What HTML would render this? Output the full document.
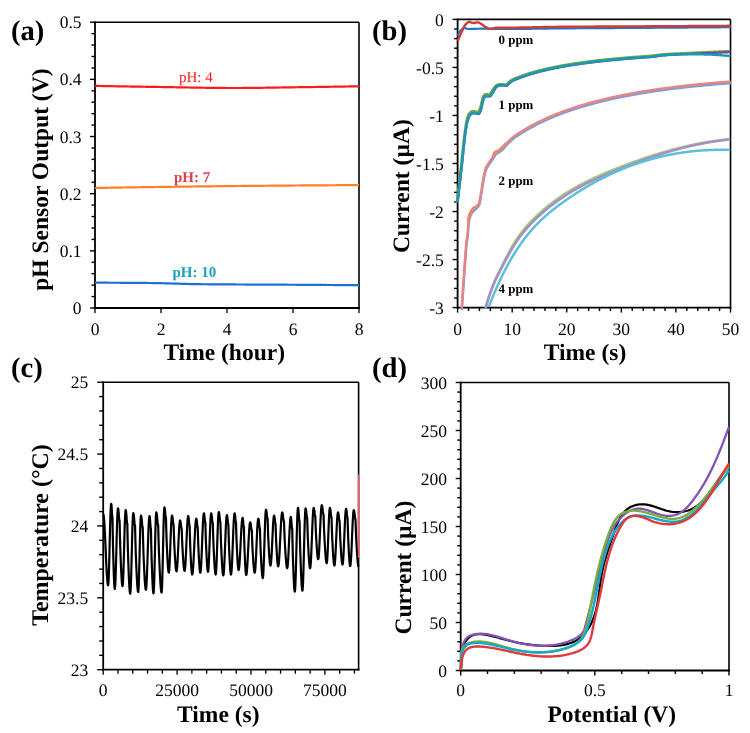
<!DOCTYPE html>
<html><head><meta charset="utf-8"><style>
html,body{margin:0;padding:0;background:#fff;width:750px;height:733px;overflow:hidden}
svg{display:block;will-change:transform}
text{font-family:"Liberation Serif",serif;text-rendering:geometricPrecision}
</style></head><body>
<svg width="750" height="733" viewBox="0 0 750 733">
<rect width="750" height="733" fill="#fff"/>
<line x1="95.00" y1="22.20" x2="359.00" y2="22.20" stroke="#000" stroke-width="1.60"/>
<line x1="359.00" y1="22.20" x2="359.00" y2="308.90" stroke="#000" stroke-width="1.60"/>
<line x1="95.00" y1="21.40" x2="95.00" y2="308.90" stroke="#000" stroke-width="1.80"/>
<line x1="94.10" y1="308.00" x2="359.80" y2="308.00" stroke="#000" stroke-width="1.80"/>
<line x1="90.00" y1="308.00" x2="95.00" y2="308.00" stroke="#000" stroke-width="1.40"/>
<line x1="91.50" y1="296.57" x2="95.00" y2="296.57" stroke="#000" stroke-width="1.40"/>
<line x1="91.50" y1="285.14" x2="95.00" y2="285.14" stroke="#000" stroke-width="1.40"/>
<line x1="91.50" y1="273.70" x2="95.00" y2="273.70" stroke="#000" stroke-width="1.40"/>
<line x1="91.50" y1="262.27" x2="95.00" y2="262.27" stroke="#000" stroke-width="1.40"/>
<line x1="90.00" y1="250.84" x2="95.00" y2="250.84" stroke="#000" stroke-width="1.40"/>
<line x1="91.50" y1="239.41" x2="95.00" y2="239.41" stroke="#000" stroke-width="1.40"/>
<line x1="91.50" y1="227.98" x2="95.00" y2="227.98" stroke="#000" stroke-width="1.40"/>
<line x1="91.50" y1="216.54" x2="95.00" y2="216.54" stroke="#000" stroke-width="1.40"/>
<line x1="91.50" y1="205.11" x2="95.00" y2="205.11" stroke="#000" stroke-width="1.40"/>
<line x1="90.00" y1="193.68" x2="95.00" y2="193.68" stroke="#000" stroke-width="1.40"/>
<line x1="91.50" y1="182.25" x2="95.00" y2="182.25" stroke="#000" stroke-width="1.40"/>
<line x1="91.50" y1="170.82" x2="95.00" y2="170.82" stroke="#000" stroke-width="1.40"/>
<line x1="91.50" y1="159.38" x2="95.00" y2="159.38" stroke="#000" stroke-width="1.40"/>
<line x1="91.50" y1="147.95" x2="95.00" y2="147.95" stroke="#000" stroke-width="1.40"/>
<line x1="90.00" y1="136.52" x2="95.00" y2="136.52" stroke="#000" stroke-width="1.40"/>
<line x1="91.50" y1="125.09" x2="95.00" y2="125.09" stroke="#000" stroke-width="1.40"/>
<line x1="91.50" y1="113.66" x2="95.00" y2="113.66" stroke="#000" stroke-width="1.40"/>
<line x1="91.50" y1="102.22" x2="95.00" y2="102.22" stroke="#000" stroke-width="1.40"/>
<line x1="91.50" y1="90.79" x2="95.00" y2="90.79" stroke="#000" stroke-width="1.40"/>
<line x1="90.00" y1="79.36" x2="95.00" y2="79.36" stroke="#000" stroke-width="1.40"/>
<line x1="91.50" y1="67.93" x2="95.00" y2="67.93" stroke="#000" stroke-width="1.40"/>
<line x1="91.50" y1="56.50" x2="95.00" y2="56.50" stroke="#000" stroke-width="1.40"/>
<line x1="91.50" y1="45.06" x2="95.00" y2="45.06" stroke="#000" stroke-width="1.40"/>
<line x1="91.50" y1="33.63" x2="95.00" y2="33.63" stroke="#000" stroke-width="1.40"/>
<line x1="90.00" y1="22.20" x2="95.00" y2="22.20" stroke="#000" stroke-width="1.40"/>
<line x1="95.00" y1="308.00" x2="95.00" y2="313.00" stroke="#000" stroke-width="1.30"/>
<line x1="161.00" y1="308.00" x2="161.00" y2="313.00" stroke="#000" stroke-width="1.30"/>
<line x1="227.00" y1="308.00" x2="227.00" y2="313.00" stroke="#000" stroke-width="1.30"/>
<line x1="293.00" y1="308.00" x2="293.00" y2="313.00" stroke="#000" stroke-width="1.30"/>
<line x1="359.00" y1="308.00" x2="359.00" y2="313.00" stroke="#000" stroke-width="1.30"/>
<text x="81.50" y="314.00" font-size="17.50"  text-anchor="end" fill="#000" >0</text>
<text x="81.50" y="256.84" font-size="17.50"  text-anchor="end" fill="#000" >0.1</text>
<text x="81.50" y="199.68" font-size="17.50"  text-anchor="end" fill="#000" >0.2</text>
<text x="81.50" y="142.52" font-size="17.50"  text-anchor="end" fill="#000" >0.3</text>
<text x="81.50" y="85.36" font-size="17.50"  text-anchor="end" fill="#000" >0.4</text>
<text x="81.50" y="28.20" font-size="17.50"  text-anchor="end" fill="#000" >0.5</text>
<text x="95.00" y="334.50" font-size="17.50"  text-anchor="middle" fill="#000" >0</text>
<text x="161.00" y="334.50" font-size="17.50"  text-anchor="middle" fill="#000" >2</text>
<text x="227.00" y="334.50" font-size="17.50"  text-anchor="middle" fill="#000" >4</text>
<text x="293.00" y="334.50" font-size="17.50"  text-anchor="middle" fill="#000" >6</text>
<text x="359.00" y="334.50" font-size="17.50"  text-anchor="middle" fill="#000" >8</text>
<text transform="translate(48.10,179.60) rotate(-90)" x="0" y="0" font-size="23.50" font-weight="bold" text-anchor="middle" >pH Sensor Output (V)</text>
<text x="224.20" y="360.40" font-size="23.50" font-weight="bold" text-anchor="middle" fill="#000" >Time (hour)</text>
<text x="11.00" y="39.60" font-size="28.60" font-weight="bold" text-anchor="start" fill="#000" >(a)</text>
<path d="M95.00,85.90 L95.50,85.91 L96.00,85.92 L96.50,85.93 L97.00,85.94 L97.50,85.95 L98.00,85.96 L98.50,85.96 L99.00,85.97 L99.50,85.98 L100.00,85.99 L100.50,86.00 L101.00,86.01 L101.50,86.02 L102.00,86.03 L102.50,86.04 L103.00,86.05 L103.50,86.06 L104.00,86.06 L104.50,86.07 L105.00,86.08 L105.50,86.09 L106.00,86.10 L106.50,86.11 L107.00,86.12 L107.50,86.13 L108.00,86.14 L108.50,86.15 L109.00,86.16 L109.50,86.16 L110.00,86.17 L110.50,86.18 L111.00,86.19 L111.50,86.20 L112.00,86.21 L112.50,86.22 L113.00,86.23 L113.50,86.24 L114.00,86.24 L114.50,86.25 L115.00,86.26 L115.50,86.27 L116.00,86.28 L116.50,86.29 L117.00,86.30 L117.50,86.31 L118.00,86.31 L118.50,86.32 L119.00,86.33 L119.50,86.34 L120.00,86.35 L120.50,86.36 L121.00,86.37 L121.50,86.38 L122.00,86.38 L122.50,86.39 L123.00,86.40 L123.50,86.41 L124.00,86.42 L124.50,86.43 L125.00,86.44 L125.50,86.44 L126.00,86.45 L126.50,86.46 L127.00,86.47 L127.50,86.48 L128.00,86.49 L128.50,86.50 L129.00,86.50 L129.50,86.51 L130.00,86.52 L130.50,86.53 L131.00,86.54 L131.50,86.55 L132.00,86.55 L132.50,86.56 L133.00,86.57 L133.50,86.58 L134.00,86.59 L134.50,86.60 L135.00,86.60 L135.50,86.61 L136.00,86.62 L136.50,86.63 L137.00,86.64 L137.50,86.65 L138.00,86.65 L138.50,86.66 L139.00,86.67 L139.50,86.68 L140.00,86.69 L140.50,86.69 L141.00,86.70 L141.50,86.71 L142.00,86.72 L142.50,86.73 L143.00,86.73 L143.50,86.74 L144.00,86.75 L144.50,86.76 L145.00,86.77 L145.50,86.77 L146.00,86.78 L146.50,86.79 L147.00,86.80 L147.50,86.81 L148.00,86.81 L148.50,86.82 L149.00,86.83 L149.50,86.84 L150.00,86.85 L150.50,86.85 L151.00,86.86 L151.50,86.87 L152.00,86.88 L152.50,86.89 L153.00,86.89 L153.50,86.90 L154.00,86.91 L154.50,86.92 L155.00,86.92 L155.50,86.93 L156.00,86.94 L156.50,86.95 L157.00,86.95 L157.50,86.96 L158.00,86.97 L158.50,86.98 L159.00,86.98 L159.50,86.99 L160.00,87.00 L160.50,87.01 L161.00,87.02 L161.50,87.02 L162.00,87.03 L162.50,87.04 L163.00,87.05 L163.50,87.05 L164.00,87.06 L164.50,87.07 L165.00,87.08 L165.50,87.09 L166.00,87.09 L166.50,87.10 L167.00,87.11 L167.50,87.12 L168.00,87.13 L168.50,87.14 L169.00,87.15 L169.50,87.15 L170.00,87.16 L170.50,87.17 L171.00,87.18 L171.50,87.19 L172.00,87.20 L172.50,87.21 L173.00,87.21 L173.50,87.22 L174.00,87.23 L174.50,87.24 L175.00,87.25 L175.50,87.26 L176.00,87.27 L176.50,87.28 L177.00,87.29 L177.50,87.30 L178.00,87.30 L178.50,87.31 L179.00,87.32 L179.50,87.33 L180.00,87.34 L180.50,87.35 L181.00,87.36 L181.50,87.37 L182.00,87.38 L182.50,87.39 L183.00,87.39 L183.50,87.40 L184.00,87.41 L184.50,87.42 L185.00,87.43 L185.50,87.44 L186.00,87.45 L186.50,87.46 L187.00,87.47 L187.50,87.48 L188.00,87.48 L188.50,87.49 L189.00,87.50 L189.50,87.51 L190.00,87.52 L190.50,87.53 L191.00,87.54 L191.50,87.55 L192.00,87.55 L192.50,87.56 L193.00,87.57 L193.50,87.58 L194.00,87.59 L194.50,87.60 L195.00,87.61 L195.50,87.61 L196.00,87.62 L196.50,87.63 L197.00,87.64 L197.50,87.65 L198.00,87.66 L198.50,87.66 L199.00,87.67 L199.50,87.68 L200.00,87.69 L200.50,87.70 L201.00,87.70 L201.50,87.71 L202.00,87.72 L202.50,87.73 L203.00,87.73 L203.50,87.74 L204.00,87.75 L204.50,87.76 L205.00,87.76 L205.50,87.77 L206.00,87.78 L206.50,87.79 L207.00,87.79 L207.50,87.80 L208.00,87.81 L208.50,87.81 L209.00,87.82 L209.50,87.83 L210.00,87.83 L210.50,87.84 L211.00,87.84 L211.50,87.85 L212.00,87.86 L212.50,87.86 L213.00,87.87 L213.50,87.87 L214.00,87.88 L214.50,87.89 L215.00,87.89 L215.50,87.90 L216.00,87.90 L216.50,87.91 L217.00,87.91 L217.50,87.92 L218.00,87.92 L218.50,87.93 L219.00,87.93 L219.50,87.93 L220.00,87.94 L220.50,87.94 L221.00,87.95 L221.50,87.95 L222.00,87.95 L222.50,87.96 L223.00,87.96 L223.50,87.96 L224.00,87.97 L224.50,87.97 L225.00,87.97 L225.50,87.98 L226.00,87.98 L226.50,87.98 L227.00,87.98 L227.50,87.99 L228.00,87.99 L228.50,87.99 L229.00,87.99 L229.50,87.99 L230.00,87.99 L230.50,88.00 L231.00,88.00 L231.50,88.00 L232.00,88.00 L232.50,88.00 L233.00,88.00 L233.50,88.00 L234.00,88.00 L234.50,88.00 L235.00,88.00 L235.50,88.00 L236.00,88.00 L236.50,88.00 L237.00,88.00 L237.50,88.00 L238.00,87.99 L238.50,87.99 L239.00,87.99 L239.50,87.99 L240.00,87.99 L240.50,87.99 L241.00,87.98 L241.50,87.98 L242.00,87.98 L242.50,87.98 L243.00,87.97 L243.50,87.97 L244.00,87.97 L244.50,87.96 L245.00,87.96 L245.50,87.96 L246.00,87.95 L246.50,87.95 L247.00,87.95 L247.50,87.94 L248.00,87.94 L248.50,87.93 L249.00,87.93 L249.50,87.93 L250.00,87.92 L250.50,87.92 L251.00,87.91 L251.50,87.91 L252.00,87.90 L252.50,87.90 L253.00,87.89 L253.50,87.89 L254.00,87.88 L254.50,87.88 L255.00,87.87 L255.50,87.86 L256.00,87.86 L256.50,87.85 L257.00,87.85 L257.50,87.84 L258.00,87.83 L258.50,87.83 L259.00,87.82 L259.50,87.82 L260.00,87.81 L260.50,87.80 L261.00,87.80 L261.50,87.79 L262.00,87.78 L262.50,87.78 L263.00,87.77 L263.50,87.76 L264.00,87.76 L264.50,87.75 L265.00,87.74 L265.50,87.73 L266.00,87.73 L266.50,87.72 L267.00,87.71 L267.50,87.70 L268.00,87.70 L268.50,87.69 L269.00,87.68 L269.50,87.67 L270.00,87.67 L270.50,87.66 L271.00,87.65 L271.50,87.64 L272.00,87.64 L272.50,87.63 L273.00,87.62 L273.50,87.61 L274.00,87.60 L274.50,87.60 L275.00,87.59 L275.50,87.58 L276.00,87.57 L276.50,87.56 L277.00,87.56 L277.50,87.55 L278.00,87.54 L278.50,87.53 L279.00,87.52 L279.50,87.52 L280.00,87.51 L280.50,87.50 L281.00,87.49 L281.50,87.48 L282.00,87.47 L282.50,87.47 L283.00,87.46 L283.50,87.45 L284.00,87.44 L284.50,87.43 L285.00,87.43 L285.50,87.42 L286.00,87.41 L286.50,87.40 L287.00,87.39 L287.50,87.39 L288.00,87.38 L288.50,87.37 L289.00,87.36 L289.50,87.35 L290.00,87.35 L290.50,87.34 L291.00,87.33 L291.50,87.32 L292.00,87.32 L292.50,87.31 L293.00,87.30 L293.50,87.29 L294.00,87.29 L294.50,87.28 L295.00,87.27 L295.50,87.26 L296.00,87.26 L296.50,87.25 L297.00,87.24 L297.50,87.23 L298.00,87.23 L298.50,87.22 L299.00,87.21 L299.50,87.21 L300.00,87.20 L300.50,87.19 L301.00,87.19 L301.50,87.18 L302.00,87.17 L302.50,87.17 L303.00,87.16 L303.50,87.15 L304.00,87.15 L304.50,87.14 L305.00,87.13 L305.50,87.12 L306.00,87.12 L306.50,87.11 L307.00,87.10 L307.50,87.10 L308.00,87.09 L308.50,87.08 L309.00,87.08 L309.50,87.07 L310.00,87.06 L310.50,87.05 L311.00,87.05 L311.50,87.04 L312.00,87.03 L312.50,87.03 L313.00,87.02 L313.50,87.01 L314.00,87.00 L314.50,87.00 L315.00,86.99 L315.50,86.98 L316.00,86.98 L316.50,86.97 L317.00,86.96 L317.50,86.95 L318.00,86.95 L318.50,86.94 L319.00,86.93 L319.50,86.92 L320.00,86.92 L320.50,86.91 L321.00,86.90 L321.50,86.89 L322.00,86.89 L322.50,86.88 L323.00,86.87 L323.50,86.86 L324.00,86.86 L324.50,86.85 L325.00,86.84 L325.50,86.83 L326.00,86.83 L326.50,86.82 L327.00,86.81 L327.50,86.80 L328.00,86.80 L328.50,86.79 L329.00,86.78 L329.50,86.77 L330.00,86.77 L330.50,86.76 L331.00,86.75 L331.50,86.74 L332.00,86.74 L332.50,86.73 L333.00,86.72 L333.50,86.71 L334.00,86.70 L334.50,86.70 L335.00,86.69 L335.50,86.68 L336.00,86.67 L336.50,86.67 L337.00,86.66 L337.50,86.65 L338.00,86.64 L338.50,86.63 L339.00,86.63 L339.50,86.62 L340.00,86.61 L340.50,86.60 L341.00,86.59 L341.50,86.59 L342.00,86.58 L342.50,86.57 L343.00,86.56 L343.50,86.55 L344.00,86.55 L344.50,86.54 L345.00,86.53 L345.50,86.52 L346.00,86.51 L346.50,86.51 L347.00,86.50 L347.50,86.49 L348.00,86.48 L348.50,86.47 L349.00,86.47 L349.50,86.46 L350.00,86.45 L350.50,86.44 L351.00,86.43 L351.50,86.42 L352.00,86.42 L352.50,86.41 L353.00,86.40 L353.50,86.39 L354.00,86.38 L354.50,86.37 L355.00,86.37 L355.50,86.36 L356.00,86.35 L356.50,86.34 L357.00,86.33 L357.50,86.33 L358.00,86.32 L358.50,86.31 L359.00,86.30" fill="none" stroke="#ff1a1a" stroke-width="2.2"/>
<path d="M95.00,188.00 L95.50,187.99 L96.00,187.98 L96.50,187.97 L97.00,187.96 L97.50,187.95 L98.00,187.95 L98.50,187.94 L99.00,187.93 L99.50,187.92 L100.00,187.91 L100.50,187.90 L101.00,187.89 L101.50,187.88 L102.00,187.87 L102.50,187.86 L103.00,187.86 L103.50,187.85 L104.00,187.84 L104.50,187.83 L105.00,187.82 L105.50,187.81 L106.00,187.80 L106.50,187.79 L107.00,187.78 L107.50,187.78 L108.00,187.77 L108.50,187.76 L109.00,187.75 L109.50,187.74 L110.00,187.73 L110.50,187.72 L111.00,187.71 L111.50,187.71 L112.00,187.70 L112.50,187.69 L113.00,187.68 L113.50,187.67 L114.00,187.66 L114.50,187.65 L115.00,187.65 L115.50,187.64 L116.00,187.63 L116.50,187.62 L117.00,187.61 L117.50,187.60 L118.00,187.59 L118.50,187.59 L119.00,187.58 L119.50,187.57 L120.00,187.56 L120.50,187.55 L121.00,187.54 L121.50,187.53 L122.00,187.53 L122.50,187.52 L123.00,187.51 L123.50,187.50 L124.00,187.49 L124.50,187.48 L125.00,187.48 L125.50,187.47 L126.00,187.46 L126.50,187.45 L127.00,187.44 L127.50,187.43 L128.00,187.43 L128.50,187.42 L129.00,187.41 L129.50,187.40 L130.00,187.39 L130.50,187.39 L131.00,187.38 L131.50,187.37 L132.00,187.36 L132.50,187.35 L133.00,187.34 L133.50,187.34 L134.00,187.33 L134.50,187.32 L135.00,187.31 L135.50,187.30 L136.00,187.30 L136.50,187.29 L137.00,187.28 L137.50,187.27 L138.00,187.27 L138.50,187.26 L139.00,187.25 L139.50,187.24 L140.00,187.23 L140.50,187.23 L141.00,187.22 L141.50,187.21 L142.00,187.20 L142.50,187.19 L143.00,187.19 L143.50,187.18 L144.00,187.17 L144.50,187.16 L145.00,187.16 L145.50,187.15 L146.00,187.14 L146.50,187.13 L147.00,187.13 L147.50,187.12 L148.00,187.11 L148.50,187.10 L149.00,187.10 L149.50,187.09 L150.00,187.08 L150.50,187.07 L151.00,187.07 L151.50,187.06 L152.00,187.05 L152.50,187.04 L153.00,187.04 L153.50,187.03 L154.00,187.02 L154.50,187.01 L155.00,187.01 L155.50,187.00 L156.00,186.99 L156.50,186.99 L157.00,186.98 L157.50,186.97 L158.00,186.96 L158.50,186.96 L159.00,186.95 L159.50,186.94 L160.00,186.94 L160.50,186.93 L161.00,186.92 L161.50,186.92 L162.00,186.91 L162.50,186.90 L163.00,186.89 L163.50,186.89 L164.00,186.88 L164.50,186.87 L165.00,186.87 L165.50,186.86 L166.00,186.85 L166.50,186.85 L167.00,186.84 L167.50,186.83 L168.00,186.83 L168.50,186.82 L169.00,186.81 L169.50,186.81 L170.00,186.80 L170.50,186.79 L171.00,186.79 L171.50,186.78 L172.00,186.77 L172.50,186.77 L173.00,186.76 L173.50,186.75 L174.00,186.75 L174.50,186.74 L175.00,186.73 L175.50,186.73 L176.00,186.72 L176.50,186.72 L177.00,186.71 L177.50,186.70 L178.00,186.70 L178.50,186.69 L179.00,186.68 L179.50,186.68 L180.00,186.67 L180.50,186.66 L181.00,186.66 L181.50,186.65 L182.00,186.64 L182.50,186.64 L183.00,186.63 L183.50,186.63 L184.00,186.62 L184.50,186.61 L185.00,186.61 L185.50,186.60 L186.00,186.59 L186.50,186.59 L187.00,186.58 L187.50,186.58 L188.00,186.57 L188.50,186.56 L189.00,186.56 L189.50,186.55 L190.00,186.54 L190.50,186.54 L191.00,186.53 L191.50,186.53 L192.00,186.52 L192.50,186.51 L193.00,186.51 L193.50,186.50 L194.00,186.50 L194.50,186.49 L195.00,186.48 L195.50,186.48 L196.00,186.47 L196.50,186.46 L197.00,186.46 L197.50,186.45 L198.00,186.45 L198.50,186.44 L199.00,186.43 L199.50,186.43 L200.00,186.42 L200.50,186.42 L201.00,186.41 L201.50,186.40 L202.00,186.40 L202.50,186.39 L203.00,186.39 L203.50,186.38 L204.00,186.38 L204.50,186.37 L205.00,186.36 L205.50,186.36 L206.00,186.35 L206.50,186.35 L207.00,186.34 L207.50,186.33 L208.00,186.33 L208.50,186.32 L209.00,186.32 L209.50,186.31 L210.00,186.31 L210.50,186.30 L211.00,186.29 L211.50,186.29 L212.00,186.28 L212.50,186.28 L213.00,186.27 L213.50,186.27 L214.00,186.26 L214.50,186.25 L215.00,186.25 L215.50,186.24 L216.00,186.24 L216.50,186.23 L217.00,186.23 L217.50,186.22 L218.00,186.22 L218.50,186.21 L219.00,186.20 L219.50,186.20 L220.00,186.19 L220.50,186.19 L221.00,186.18 L221.50,186.18 L222.00,186.17 L222.50,186.17 L223.00,186.16 L223.50,186.16 L224.00,186.15 L224.50,186.15 L225.00,186.14 L225.50,186.13 L226.00,186.13 L226.50,186.12 L227.00,186.12 L227.50,186.11 L228.00,186.11 L228.50,186.10 L229.00,186.10 L229.50,186.09 L230.00,186.09 L230.50,186.08 L231.00,186.08 L231.50,186.07 L232.00,186.07 L232.50,186.06 L233.00,186.06 L233.50,186.05 L234.00,186.05 L234.50,186.04 L235.00,186.04 L235.50,186.03 L236.00,186.03 L236.50,186.02 L237.00,186.02 L237.50,186.01 L238.00,186.01 L238.50,186.00 L239.00,186.00 L239.50,185.99 L240.00,185.99 L240.50,185.98 L241.00,185.98 L241.50,185.97 L242.00,185.97 L242.50,185.96 L243.00,185.96 L243.50,185.95 L244.00,185.95 L244.50,185.94 L245.00,185.94 L245.50,185.93 L246.00,185.93 L246.50,185.92 L247.00,185.92 L247.50,185.91 L248.00,185.91 L248.50,185.90 L249.00,185.90 L249.50,185.89 L250.00,185.89 L250.50,185.89 L251.00,185.88 L251.50,185.88 L252.00,185.87 L252.50,185.87 L253.00,185.86 L253.50,185.86 L254.00,185.85 L254.50,185.85 L255.00,185.84 L255.50,185.84 L256.00,185.84 L256.50,185.83 L257.00,185.83 L257.50,185.82 L258.00,185.82 L258.50,185.81 L259.00,185.81 L259.50,185.80 L260.00,185.80 L260.50,185.80 L261.00,185.79 L261.50,185.79 L262.00,185.78 L262.50,185.78 L263.00,185.77 L263.50,185.77 L264.00,185.77 L264.50,185.76 L265.00,185.76 L265.50,185.75 L266.00,185.75 L266.50,185.74 L267.00,185.74 L267.50,185.74 L268.00,185.73 L268.50,185.73 L269.00,185.72 L269.50,185.72 L270.00,185.71 L270.50,185.71 L271.00,185.71 L271.50,185.70 L272.00,185.70 L272.50,185.69 L273.00,185.69 L273.50,185.69 L274.00,185.68 L274.50,185.68 L275.00,185.67 L275.50,185.67 L276.00,185.66 L276.50,185.66 L277.00,185.66 L277.50,185.65 L278.00,185.65 L278.50,185.64 L279.00,185.64 L279.50,185.64 L280.00,185.63 L280.50,185.63 L281.00,185.62 L281.50,185.62 L282.00,185.62 L282.50,185.61 L283.00,185.61 L283.50,185.60 L284.00,185.60 L284.50,185.59 L285.00,185.59 L285.50,185.59 L286.00,185.58 L286.50,185.58 L287.00,185.57 L287.50,185.57 L288.00,185.57 L288.50,185.56 L289.00,185.56 L289.50,185.56 L290.00,185.55 L290.50,185.55 L291.00,185.54 L291.50,185.54 L292.00,185.54 L292.50,185.53 L293.00,185.53 L293.50,185.52 L294.00,185.52 L294.50,185.52 L295.00,185.51 L295.50,185.51 L296.00,185.50 L296.50,185.50 L297.00,185.50 L297.50,185.49 L298.00,185.49 L298.50,185.49 L299.00,185.48 L299.50,185.48 L300.00,185.47 L300.50,185.47 L301.00,185.47 L301.50,185.46 L302.00,185.46 L302.50,185.46 L303.00,185.45 L303.50,185.45 L304.00,185.44 L304.50,185.44 L305.00,185.44 L305.50,185.43 L306.00,185.43 L306.50,185.43 L307.00,185.42 L307.50,185.42 L308.00,185.41 L308.50,185.41 L309.00,185.41 L309.50,185.40 L310.00,185.40 L310.50,185.40 L311.00,185.39 L311.50,185.39 L312.00,185.39 L312.50,185.38 L313.00,185.38 L313.50,185.38 L314.00,185.37 L314.50,185.37 L315.00,185.36 L315.50,185.36 L316.00,185.36 L316.50,185.35 L317.00,185.35 L317.50,185.35 L318.00,185.34 L318.50,185.34 L319.00,185.34 L319.50,185.33 L320.00,185.33 L320.50,185.33 L321.00,185.32 L321.50,185.32 L322.00,185.32 L322.50,185.31 L323.00,185.31 L323.50,185.31 L324.00,185.30 L324.50,185.30 L325.00,185.30 L325.50,185.29 L326.00,185.29 L326.50,185.29 L327.00,185.28 L327.50,185.28 L328.00,185.28 L328.50,185.27 L329.00,185.27 L329.50,185.27 L330.00,185.26 L330.50,185.26 L331.00,185.26 L331.50,185.26 L332.00,185.25 L332.50,185.25 L333.00,185.25 L333.50,185.24 L334.00,185.24 L334.50,185.24 L335.00,185.23 L335.50,185.23 L336.00,185.23 L336.50,185.22 L337.00,185.22 L337.50,185.22 L338.00,185.22 L338.50,185.21 L339.00,185.21 L339.50,185.21 L340.00,185.20 L340.50,185.20 L341.00,185.20 L341.50,185.19 L342.00,185.19 L342.50,185.19 L343.00,185.19 L343.50,185.18 L344.00,185.18 L344.50,185.18 L345.00,185.17 L345.50,185.17 L346.00,185.17 L346.50,185.17 L347.00,185.16 L347.50,185.16 L348.00,185.16 L348.50,185.15 L349.00,185.15 L349.50,185.15 L350.00,185.15 L350.50,185.14 L351.00,185.14 L351.50,185.14 L352.00,185.14 L352.50,185.13 L353.00,185.13 L353.50,185.13 L354.00,185.13 L354.50,185.12 L355.00,185.12 L355.50,185.12 L356.00,185.12 L356.50,185.11 L357.00,185.11 L357.50,185.11 L358.00,185.10 L358.50,185.10 L359.00,185.10" fill="none" stroke="#ff7f2a" stroke-width="2.2"/>
<path d="M95.00,282.70 L95.50,282.70 L96.00,282.70 L96.50,282.70 L97.00,282.70 L97.50,282.70 L98.00,282.70 L98.50,282.70 L99.00,282.70 L99.50,282.70 L100.00,282.70 L100.50,282.70 L101.00,282.70 L101.50,282.71 L102.00,282.71 L102.50,282.71 L103.00,282.71 L103.50,282.71 L104.00,282.71 L104.50,282.71 L105.00,282.71 L105.50,282.71 L106.00,282.72 L106.50,282.72 L107.00,282.72 L107.50,282.72 L108.00,282.72 L108.50,282.72 L109.00,282.72 L109.50,282.73 L110.00,282.73 L110.50,282.73 L111.00,282.73 L111.50,282.73 L112.00,282.74 L112.50,282.74 L113.00,282.74 L113.50,282.74 L114.00,282.74 L114.50,282.75 L115.00,282.75 L115.50,282.75 L116.00,282.75 L116.50,282.76 L117.00,282.76 L117.50,282.76 L118.00,282.76 L118.50,282.77 L119.00,282.77 L119.50,282.77 L120.00,282.77 L120.50,282.78 L121.00,282.78 L121.50,282.78 L122.00,282.79 L122.50,282.79 L123.00,282.79 L123.50,282.79 L124.00,282.80 L124.50,282.80 L125.00,282.80 L125.50,282.81 L126.00,282.81 L126.50,282.81 L127.00,282.82 L127.50,282.82 L128.00,282.82 L128.50,282.83 L129.00,282.83 L129.50,282.83 L130.00,282.84 L130.50,282.84 L131.00,282.84 L131.50,282.85 L132.00,282.85 L132.50,282.86 L133.00,282.86 L133.50,282.86 L134.00,282.87 L134.50,282.87 L135.00,282.87 L135.50,282.88 L136.00,282.88 L136.50,282.89 L137.00,282.89 L137.50,282.89 L138.00,282.90 L138.50,282.90 L139.00,282.91 L139.50,282.91 L140.00,282.91 L140.50,282.92 L141.00,282.92 L141.50,282.93 L142.00,282.93 L142.50,282.93 L143.00,282.94 L143.50,282.94 L144.00,282.95 L144.50,282.95 L145.00,282.96 L145.50,282.96 L146.00,282.96 L146.50,282.97 L147.00,282.97 L147.50,282.98 L148.00,282.98 L148.50,282.99 L149.00,282.99 L149.50,283.00 L150.00,283.00 L150.50,283.00 L151.00,283.01 L151.50,283.02 L152.00,283.02 L152.50,283.03 L153.00,283.03 L153.50,283.04 L154.00,283.05 L154.50,283.06 L155.00,283.07 L155.50,283.07 L156.00,283.08 L156.50,283.09 L157.00,283.10 L157.50,283.11 L158.00,283.12 L158.50,283.13 L159.00,283.14 L159.50,283.15 L160.00,283.17 L160.50,283.18 L161.00,283.19 L161.50,283.20 L162.00,283.21 L162.50,283.23 L163.00,283.24 L163.50,283.25 L164.00,283.27 L164.50,283.28 L165.00,283.29 L165.50,283.31 L166.00,283.32 L166.50,283.33 L167.00,283.35 L167.50,283.36 L168.00,283.38 L168.50,283.39 L169.00,283.41 L169.50,283.42 L170.00,283.44 L170.50,283.45 L171.00,283.47 L171.50,283.48 L172.00,283.50 L172.50,283.51 L173.00,283.53 L173.50,283.55 L174.00,283.56 L174.50,283.58 L175.00,283.59 L175.50,283.61 L176.00,283.62 L176.50,283.64 L177.00,283.65 L177.50,283.67 L178.00,283.69 L178.50,283.70 L179.00,283.72 L179.50,283.73 L180.00,283.75 L180.50,283.76 L181.00,283.78 L181.50,283.79 L182.00,283.81 L182.50,283.82 L183.00,283.84 L183.50,283.85 L184.00,283.87 L184.50,283.88 L185.00,283.89 L185.50,283.91 L186.00,283.92 L186.50,283.93 L187.00,283.95 L187.50,283.96 L188.00,283.97 L188.50,283.99 L189.00,284.00 L189.50,284.01 L190.00,284.02 L190.50,284.04 L191.00,284.05 L191.50,284.06 L192.00,284.07 L192.50,284.08 L193.00,284.09 L193.50,284.10 L194.00,284.11 L194.50,284.12 L195.00,284.13 L195.50,284.14 L196.00,284.15 L196.50,284.15 L197.00,284.16 L197.50,284.17 L198.00,284.18 L198.50,284.18 L199.00,284.19 L199.50,284.19 L200.00,284.20 L200.50,284.21 L201.00,284.21 L201.50,284.22 L202.00,284.22 L202.50,284.23 L203.00,284.23 L203.50,284.23 L204.00,284.24 L204.50,284.24 L205.00,284.25 L205.50,284.25 L206.00,284.26 L206.50,284.26 L207.00,284.27 L207.50,284.27 L208.00,284.28 L208.50,284.28 L209.00,284.29 L209.50,284.29 L210.00,284.29 L210.50,284.30 L211.00,284.30 L211.50,284.31 L212.00,284.31 L212.50,284.32 L213.00,284.32 L213.50,284.32 L214.00,284.33 L214.50,284.33 L215.00,284.34 L215.50,284.34 L216.00,284.34 L216.50,284.35 L217.00,284.35 L217.50,284.36 L218.00,284.36 L218.50,284.36 L219.00,284.37 L219.50,284.37 L220.00,284.37 L220.50,284.38 L221.00,284.38 L221.50,284.38 L222.00,284.39 L222.50,284.39 L223.00,284.39 L223.50,284.40 L224.00,284.40 L224.50,284.41 L225.00,284.41 L225.50,284.41 L226.00,284.42 L226.50,284.42 L227.00,284.42 L227.50,284.42 L228.00,284.43 L228.50,284.43 L229.00,284.43 L229.50,284.44 L230.00,284.44 L230.50,284.44 L231.00,284.45 L231.50,284.45 L232.00,284.45 L232.50,284.46 L233.00,284.46 L233.50,284.46 L234.00,284.46 L234.50,284.47 L235.00,284.47 L235.50,284.47 L236.00,284.48 L236.50,284.48 L237.00,284.48 L237.50,284.48 L238.00,284.49 L238.50,284.49 L239.00,284.49 L239.50,284.50 L240.00,284.50 L240.50,284.50 L241.00,284.50 L241.50,284.51 L242.00,284.51 L242.50,284.51 L243.00,284.51 L243.50,284.52 L244.00,284.52 L244.50,284.52 L245.00,284.52 L245.50,284.53 L246.00,284.53 L246.50,284.53 L247.00,284.53 L247.50,284.54 L248.00,284.54 L248.50,284.54 L249.00,284.54 L249.50,284.55 L250.00,284.55 L250.50,284.55 L251.00,284.55 L251.50,284.56 L252.00,284.56 L252.50,284.56 L253.00,284.56 L253.50,284.57 L254.00,284.57 L254.50,284.57 L255.00,284.57 L255.50,284.57 L256.00,284.58 L256.50,284.58 L257.00,284.58 L257.50,284.58 L258.00,284.59 L258.50,284.59 L259.00,284.59 L259.50,284.59 L260.00,284.60 L260.50,284.60 L261.00,284.60 L261.50,284.60 L262.00,284.60 L262.50,284.61 L263.00,284.61 L263.50,284.61 L264.00,284.61 L264.50,284.62 L265.00,284.62 L265.50,284.62 L266.00,284.62 L266.50,284.63 L267.00,284.63 L267.50,284.63 L268.00,284.63 L268.50,284.63 L269.00,284.64 L269.50,284.64 L270.00,284.64 L270.50,284.64 L271.00,284.65 L271.50,284.65 L272.00,284.65 L272.50,284.65 L273.00,284.66 L273.50,284.66 L274.00,284.66 L274.50,284.66 L275.00,284.66 L275.50,284.67 L276.00,284.67 L276.50,284.67 L277.00,284.67 L277.50,284.68 L278.00,284.68 L278.50,284.68 L279.00,284.68 L279.50,284.69 L280.00,284.69 L280.50,284.69 L281.00,284.69 L281.50,284.70 L282.00,284.70 L282.50,284.70 L283.00,284.70 L283.50,284.71 L284.00,284.71 L284.50,284.71 L285.00,284.71 L285.50,284.72 L286.00,284.72 L286.50,284.72 L287.00,284.72 L287.50,284.73 L288.00,284.73 L288.50,284.73 L289.00,284.74 L289.50,284.74 L290.00,284.74 L290.50,284.74 L291.00,284.75 L291.50,284.75 L292.00,284.75 L292.50,284.75 L293.00,284.76 L293.50,284.76 L294.00,284.76 L294.50,284.77 L295.00,284.77 L295.50,284.77 L296.00,284.78 L296.50,284.78 L297.00,284.78 L297.50,284.78 L298.00,284.79 L298.50,284.79 L299.00,284.79 L299.50,284.80 L300.00,284.80 L300.50,284.80 L301.00,284.81 L301.50,284.81 L302.00,284.81 L302.50,284.82 L303.00,284.82 L303.50,284.82 L304.00,284.83 L304.50,284.83 L305.00,284.83 L305.50,284.84 L306.00,284.84 L306.50,284.84 L307.00,284.85 L307.50,284.85 L308.00,284.85 L308.50,284.85 L309.00,284.86 L309.50,284.86 L310.00,284.86 L310.50,284.87 L311.00,284.87 L311.50,284.87 L312.00,284.88 L312.50,284.88 L313.00,284.88 L313.50,284.89 L314.00,284.89 L314.50,284.89 L315.00,284.90 L315.50,284.90 L316.00,284.90 L316.50,284.91 L317.00,284.91 L317.50,284.91 L318.00,284.92 L318.50,284.92 L319.00,284.92 L319.50,284.93 L320.00,284.93 L320.50,284.93 L321.00,284.94 L321.50,284.94 L322.00,284.94 L322.50,284.95 L323.00,284.95 L323.50,284.95 L324.00,284.96 L324.50,284.96 L325.00,284.96 L325.50,284.97 L326.00,284.97 L326.50,284.97 L327.00,284.98 L327.50,284.98 L328.00,284.98 L328.50,284.99 L329.00,284.99 L329.50,285.00 L330.00,285.00 L330.50,285.00 L331.00,285.01 L331.50,285.01 L332.00,285.01 L332.50,285.02 L333.00,285.02 L333.50,285.02 L334.00,285.03 L334.50,285.03 L335.00,285.03 L335.50,285.04 L336.00,285.04 L336.50,285.04 L337.00,285.05 L337.50,285.05 L338.00,285.05 L338.50,285.06 L339.00,285.06 L339.50,285.06 L340.00,285.07 L340.50,285.07 L341.00,285.07 L341.50,285.08 L342.00,285.08 L342.50,285.08 L343.00,285.09 L343.50,285.09 L344.00,285.09 L344.50,285.10 L345.00,285.10 L345.50,285.11 L346.00,285.11 L346.50,285.11 L347.00,285.12 L347.50,285.12 L348.00,285.12 L348.50,285.13 L349.00,285.13 L349.50,285.13 L350.00,285.14 L350.50,285.14 L351.00,285.14 L351.50,285.15 L352.00,285.15 L352.50,285.15 L353.00,285.16 L353.50,285.16 L354.00,285.16 L354.50,285.17 L355.00,285.17 L355.50,285.18 L356.00,285.18 L356.50,285.18 L357.00,285.19 L357.50,285.19 L358.00,285.19 L358.50,285.20 L359.00,285.20" fill="none" stroke="#1f6fd0" stroke-width="2.2"/>
<text x="179.00" y="82.20" font-size="15.00"  text-anchor="start" fill="#ff1a1a" >pH: 4</text>
<text x="174.00" y="181.50" font-size="15.00" font-weight="bold" text-anchor="start" fill="#d9434a" >pH: 7</text>
<text x="172.40" y="276.80" font-size="15.00" font-weight="bold" text-anchor="start" fill="#17a2c0" >pH: 10</text>
<line x1="457.60" y1="19.40" x2="730.50" y2="19.40" stroke="#000" stroke-width="1.60"/>
<line x1="730.50" y1="19.40" x2="730.50" y2="308.50" stroke="#000" stroke-width="1.60"/>
<line x1="457.60" y1="18.60" x2="457.60" y2="308.50" stroke="#000" stroke-width="1.80"/>
<line x1="456.70" y1="307.60" x2="731.30" y2="307.60" stroke="#000" stroke-width="1.80"/>
<line x1="452.60" y1="307.60" x2="457.60" y2="307.60" stroke="#000" stroke-width="1.40"/>
<line x1="454.10" y1="297.99" x2="457.60" y2="297.99" stroke="#000" stroke-width="1.40"/>
<line x1="454.10" y1="288.39" x2="457.60" y2="288.39" stroke="#000" stroke-width="1.40"/>
<line x1="454.10" y1="278.78" x2="457.60" y2="278.78" stroke="#000" stroke-width="1.40"/>
<line x1="454.10" y1="269.17" x2="457.60" y2="269.17" stroke="#000" stroke-width="1.40"/>
<line x1="452.60" y1="259.57" x2="457.60" y2="259.57" stroke="#000" stroke-width="1.40"/>
<line x1="454.10" y1="249.96" x2="457.60" y2="249.96" stroke="#000" stroke-width="1.40"/>
<line x1="454.10" y1="240.35" x2="457.60" y2="240.35" stroke="#000" stroke-width="1.40"/>
<line x1="454.10" y1="230.75" x2="457.60" y2="230.75" stroke="#000" stroke-width="1.40"/>
<line x1="454.10" y1="221.14" x2="457.60" y2="221.14" stroke="#000" stroke-width="1.40"/>
<line x1="452.60" y1="211.53" x2="457.60" y2="211.53" stroke="#000" stroke-width="1.40"/>
<line x1="454.10" y1="201.93" x2="457.60" y2="201.93" stroke="#000" stroke-width="1.40"/>
<line x1="454.10" y1="192.32" x2="457.60" y2="192.32" stroke="#000" stroke-width="1.40"/>
<line x1="454.10" y1="182.71" x2="457.60" y2="182.71" stroke="#000" stroke-width="1.40"/>
<line x1="454.10" y1="173.11" x2="457.60" y2="173.11" stroke="#000" stroke-width="1.40"/>
<line x1="452.60" y1="163.50" x2="457.60" y2="163.50" stroke="#000" stroke-width="1.40"/>
<line x1="454.10" y1="153.89" x2="457.60" y2="153.89" stroke="#000" stroke-width="1.40"/>
<line x1="454.10" y1="144.29" x2="457.60" y2="144.29" stroke="#000" stroke-width="1.40"/>
<line x1="454.10" y1="134.68" x2="457.60" y2="134.68" stroke="#000" stroke-width="1.40"/>
<line x1="454.10" y1="125.07" x2="457.60" y2="125.07" stroke="#000" stroke-width="1.40"/>
<line x1="452.60" y1="115.47" x2="457.60" y2="115.47" stroke="#000" stroke-width="1.40"/>
<line x1="454.10" y1="105.86" x2="457.60" y2="105.86" stroke="#000" stroke-width="1.40"/>
<line x1="454.10" y1="96.25" x2="457.60" y2="96.25" stroke="#000" stroke-width="1.40"/>
<line x1="454.10" y1="86.65" x2="457.60" y2="86.65" stroke="#000" stroke-width="1.40"/>
<line x1="454.10" y1="77.04" x2="457.60" y2="77.04" stroke="#000" stroke-width="1.40"/>
<line x1="452.60" y1="67.43" x2="457.60" y2="67.43" stroke="#000" stroke-width="1.40"/>
<line x1="454.10" y1="57.83" x2="457.60" y2="57.83" stroke="#000" stroke-width="1.40"/>
<line x1="454.10" y1="48.22" x2="457.60" y2="48.22" stroke="#000" stroke-width="1.40"/>
<line x1="454.10" y1="38.61" x2="457.60" y2="38.61" stroke="#000" stroke-width="1.40"/>
<line x1="454.10" y1="29.01" x2="457.60" y2="29.01" stroke="#000" stroke-width="1.40"/>
<line x1="452.60" y1="19.40" x2="457.60" y2="19.40" stroke="#000" stroke-width="1.40"/>
<line x1="457.60" y1="307.60" x2="457.60" y2="312.60" stroke="#000" stroke-width="1.40"/>
<line x1="468.52" y1="307.60" x2="468.52" y2="311.10" stroke="#000" stroke-width="1.40"/>
<line x1="479.43" y1="307.60" x2="479.43" y2="311.10" stroke="#000" stroke-width="1.40"/>
<line x1="490.35" y1="307.60" x2="490.35" y2="311.10" stroke="#000" stroke-width="1.40"/>
<line x1="501.26" y1="307.60" x2="501.26" y2="311.10" stroke="#000" stroke-width="1.40"/>
<line x1="512.18" y1="307.60" x2="512.18" y2="312.60" stroke="#000" stroke-width="1.40"/>
<line x1="523.10" y1="307.60" x2="523.10" y2="311.10" stroke="#000" stroke-width="1.40"/>
<line x1="534.01" y1="307.60" x2="534.01" y2="311.10" stroke="#000" stroke-width="1.40"/>
<line x1="544.93" y1="307.60" x2="544.93" y2="311.10" stroke="#000" stroke-width="1.40"/>
<line x1="555.84" y1="307.60" x2="555.84" y2="311.10" stroke="#000" stroke-width="1.40"/>
<line x1="566.76" y1="307.60" x2="566.76" y2="312.60" stroke="#000" stroke-width="1.40"/>
<line x1="577.68" y1="307.60" x2="577.68" y2="311.10" stroke="#000" stroke-width="1.40"/>
<line x1="588.59" y1="307.60" x2="588.59" y2="311.10" stroke="#000" stroke-width="1.40"/>
<line x1="599.51" y1="307.60" x2="599.51" y2="311.10" stroke="#000" stroke-width="1.40"/>
<line x1="610.42" y1="307.60" x2="610.42" y2="311.10" stroke="#000" stroke-width="1.40"/>
<line x1="621.34" y1="307.60" x2="621.34" y2="312.60" stroke="#000" stroke-width="1.40"/>
<line x1="632.26" y1="307.60" x2="632.26" y2="311.10" stroke="#000" stroke-width="1.40"/>
<line x1="643.17" y1="307.60" x2="643.17" y2="311.10" stroke="#000" stroke-width="1.40"/>
<line x1="654.09" y1="307.60" x2="654.09" y2="311.10" stroke="#000" stroke-width="1.40"/>
<line x1="665.00" y1="307.60" x2="665.00" y2="311.10" stroke="#000" stroke-width="1.40"/>
<line x1="675.92" y1="307.60" x2="675.92" y2="312.60" stroke="#000" stroke-width="1.40"/>
<line x1="686.84" y1="307.60" x2="686.84" y2="311.10" stroke="#000" stroke-width="1.40"/>
<line x1="697.75" y1="307.60" x2="697.75" y2="311.10" stroke="#000" stroke-width="1.40"/>
<line x1="708.67" y1="307.60" x2="708.67" y2="311.10" stroke="#000" stroke-width="1.40"/>
<line x1="719.58" y1="307.60" x2="719.58" y2="311.10" stroke="#000" stroke-width="1.40"/>
<line x1="730.50" y1="307.60" x2="730.50" y2="312.60" stroke="#000" stroke-width="1.40"/>
<text x="443.80" y="25.90" font-size="17.50"  text-anchor="end" fill="#000" >0</text>
<text x="443.80" y="73.93" font-size="17.50"  text-anchor="end" fill="#000" >-0.5</text>
<text x="443.80" y="121.97" font-size="17.50"  text-anchor="end" fill="#000" >-1</text>
<text x="443.80" y="170.00" font-size="17.50"  text-anchor="end" fill="#000" >-1.5</text>
<text x="443.80" y="218.03" font-size="17.50"  text-anchor="end" fill="#000" >-2</text>
<text x="443.80" y="266.07" font-size="17.50"  text-anchor="end" fill="#000" >-2.5</text>
<text x="443.80" y="314.10" font-size="17.50"  text-anchor="end" fill="#000" >-3</text>
<text x="457.60" y="334.80" font-size="17.50"  text-anchor="middle" fill="#000" >0</text>
<text x="512.18" y="334.80" font-size="17.50"  text-anchor="middle" fill="#000" >10</text>
<text x="566.76" y="334.80" font-size="17.50"  text-anchor="middle" fill="#000" >20</text>
<text x="621.34" y="334.80" font-size="17.50"  text-anchor="middle" fill="#000" >30</text>
<text x="675.92" y="334.80" font-size="17.50"  text-anchor="middle" fill="#000" >40</text>
<text x="730.50" y="334.80" font-size="17.50"  text-anchor="middle" fill="#000" >50</text>
<text transform="translate(409.40,186.20) rotate(-90)" x="0" y="0" font-size="23.50" font-weight="bold" text-anchor="middle" >Current (&#181;A)</text>
<text x="585.00" y="360.40" font-size="23.50" font-weight="bold" text-anchor="middle" fill="#000" >Time (s)</text>
<text x="372.00" y="39.60" font-size="28.60" font-weight="bold" text-anchor="start" fill="#000" >(b)</text>
<path d="M457.70,35.70 L458.20,34.60 L458.70,33.57 L459.20,32.61 L459.70,31.79 L460.20,31.11 L460.70,30.56 L461.20,30.02 L461.70,29.51 L462.20,29.04 L462.70,28.64 L463.20,28.32 L463.70,28.10 L464.20,28.00 L464.70,28.03 L465.20,28.13 L465.70,28.28 L466.20,28.46 L466.70,28.65 L467.20,28.81 L467.70,28.94 L468.20,29.00 L468.70,29.00 L469.20,29.00 L469.70,28.99 L470.20,28.98 L470.70,28.97 L471.20,28.96 L471.70,28.95 L472.20,28.94 L472.70,28.92 L473.20,28.91 L473.70,28.89 L474.20,28.88 L474.70,28.86 L475.20,28.84 L475.70,28.83 L476.20,28.81 L476.70,28.79 L477.20,28.78 L477.70,28.76 L478.20,28.75 L478.70,28.74 L479.20,28.73 L479.70,28.72 L480.20,28.71 L480.70,28.70 L481.20,28.70 L481.70,28.70 L482.20,28.70 L482.70,28.70 L483.20,28.70 L483.70,28.71 L484.20,28.71 L484.70,28.71 L485.20,28.72 L485.70,28.72 L486.20,28.73 L486.70,28.74 L487.20,28.74 L487.70,28.75 L488.20,28.76 L488.70,28.76 L489.20,28.77 L489.70,28.78 L490.20,28.79 L490.70,28.80 L491.20,28.81 L491.70,28.82 L492.20,28.83 L492.70,28.84 L493.20,28.85 L493.70,28.86 L494.20,28.87 L494.70,28.88 L495.20,28.89 L495.70,28.89 L496.20,28.90 L496.70,28.91 L497.20,28.92 L497.70,28.93 L498.20,28.94 L498.70,28.95 L499.20,28.95 L499.70,28.96 L500.20,28.97 L500.70,28.97 L501.20,28.98 L501.70,28.98 L502.20,28.99 L502.70,28.99 L503.20,28.99 L503.70,29.00 L504.20,29.00 L504.70,29.00 L505.20,29.00 L505.70,29.00 L506.20,29.00 L506.70,29.00 L507.20,29.00 L507.70,29.00 L508.20,29.00 L508.70,28.99 L509.20,28.99 L509.70,28.99 L510.20,28.99 L510.70,28.99 L511.20,28.98 L511.70,28.98 L512.20,28.98 L512.70,28.98 L513.20,28.97 L513.70,28.97 L514.20,28.97 L514.70,28.96 L515.20,28.96 L515.70,28.95 L516.20,28.95 L516.70,28.95 L517.20,28.94 L517.70,28.94 L518.20,28.93 L518.70,28.93 L519.20,28.92 L519.70,28.92 L520.20,28.91 L520.70,28.91 L521.20,28.90 L521.70,28.90 L522.20,28.89 L522.70,28.89 L523.20,28.88 L523.70,28.87 L524.20,28.87 L524.70,28.86 L525.20,28.86 L525.70,28.85 L526.20,28.84 L526.70,28.84 L527.20,28.83 L527.70,28.82 L528.20,28.82 L528.70,28.81 L529.20,28.80 L529.70,28.80 L530.20,28.79 L530.70,28.78 L531.20,28.78 L531.70,28.77 L532.20,28.76 L532.70,28.76 L533.20,28.75 L533.70,28.74 L534.20,28.73 L534.70,28.73 L535.20,28.72 L535.70,28.71 L536.20,28.70 L536.70,28.70 L537.20,28.69 L537.70,28.68 L538.20,28.68 L538.70,28.67 L539.20,28.66 L539.70,28.65 L540.20,28.65 L540.70,28.64 L541.20,28.63 L541.70,28.62 L542.20,28.62 L542.70,28.61 L543.20,28.60 L543.70,28.59 L544.20,28.59 L544.70,28.58 L545.20,28.57 L545.70,28.57 L546.20,28.56 L546.70,28.55 L547.20,28.55 L547.70,28.54 L548.20,28.53 L548.70,28.53 L549.20,28.52 L549.70,28.51 L550.20,28.51 L550.70,28.50 L551.20,28.49 L551.70,28.49 L552.20,28.48 L552.70,28.48 L553.20,28.47 L553.70,28.46 L554.20,28.46 L554.70,28.45 L555.20,28.45 L555.70,28.44 L556.20,28.44 L556.70,28.43 L557.20,28.43 L557.70,28.42 L558.20,28.42 L558.70,28.41 L559.20,28.41 L559.70,28.40 L560.20,28.40 L560.70,28.39 L561.20,28.39 L561.70,28.39 L562.20,28.38 L562.70,28.38 L563.20,28.37 L563.70,28.37 L564.20,28.37 L564.70,28.36 L565.20,28.36 L565.70,28.35 L566.20,28.35 L566.70,28.35 L567.20,28.34 L567.70,28.34 L568.20,28.33 L568.70,28.33 L569.20,28.33 L569.70,28.32 L570.20,28.32 L570.70,28.31 L571.20,28.31 L571.70,28.31 L572.20,28.30 L572.70,28.30 L573.20,28.30 L573.70,28.29 L574.20,28.29 L574.70,28.28 L575.20,28.28 L575.70,28.28 L576.20,28.27 L576.70,28.27 L577.20,28.27 L577.70,28.26 L578.20,28.26 L578.70,28.26 L579.20,28.25 L579.70,28.25 L580.20,28.25 L580.70,28.24 L581.20,28.24 L581.70,28.23 L582.20,28.23 L582.70,28.23 L583.20,28.22 L583.70,28.22 L584.20,28.22 L584.70,28.21 L585.20,28.21 L585.70,28.21 L586.20,28.20 L586.70,28.20 L587.20,28.20 L587.70,28.19 L588.20,28.19 L588.70,28.19 L589.20,28.18 L589.70,28.18 L590.20,28.18 L590.70,28.17 L591.20,28.17 L591.70,28.17 L592.20,28.16 L592.70,28.16 L593.20,28.16 L593.70,28.15 L594.20,28.15 L594.70,28.15 L595.20,28.15 L595.70,28.14 L596.20,28.14 L596.70,28.14 L597.20,28.13 L597.70,28.13 L598.20,28.13 L598.70,28.12 L599.20,28.12 L599.70,28.12 L600.20,28.11 L600.70,28.11 L601.20,28.11 L601.70,28.10 L602.20,28.10 L602.70,28.10 L603.20,28.10 L603.70,28.09 L604.20,28.09 L604.70,28.09 L605.20,28.08 L605.70,28.08 L606.20,28.08 L606.70,28.07 L607.20,28.07 L607.70,28.07 L608.20,28.06 L608.70,28.06 L609.20,28.06 L609.70,28.06 L610.20,28.05 L610.70,28.05 L611.20,28.05 L611.70,28.04 L612.20,28.04 L612.70,28.04 L613.20,28.03 L613.70,28.03 L614.20,28.03 L614.70,28.03 L615.20,28.02 L615.70,28.02 L616.20,28.02 L616.70,28.01 L617.20,28.01 L617.70,28.01 L618.20,28.00 L618.70,28.00 L619.20,28.00 L619.70,27.99 L620.20,27.99 L620.70,27.99 L621.20,27.99 L621.70,27.98 L622.20,27.98 L622.70,27.98 L623.20,27.97 L623.70,27.97 L624.20,27.97 L624.70,27.96 L625.20,27.96 L625.70,27.96 L626.20,27.96 L626.70,27.95 L627.20,27.95 L627.70,27.95 L628.20,27.94 L628.70,27.94 L629.20,27.94 L629.70,27.93 L630.20,27.93 L630.70,27.93 L631.20,27.92 L631.70,27.92 L632.20,27.92 L632.70,27.91 L633.20,27.91 L633.70,27.91 L634.20,27.91 L634.70,27.90 L635.20,27.90 L635.70,27.90 L636.20,27.89 L636.70,27.89 L637.20,27.89 L637.70,27.88 L638.20,27.88 L638.70,27.88 L639.20,27.87 L639.70,27.87 L640.20,27.87 L640.70,27.86 L641.20,27.86 L641.70,27.86 L642.20,27.85 L642.70,27.85 L643.20,27.85 L643.70,27.84 L644.20,27.84 L644.70,27.84 L645.20,27.83 L645.70,27.83 L646.20,27.83 L646.70,27.82 L647.20,27.82 L647.70,27.82 L648.20,27.81 L648.70,27.81 L649.20,27.81 L649.70,27.80 L650.20,27.80 L650.70,27.80 L651.20,27.79 L651.70,27.79 L652.20,27.78 L652.70,27.78 L653.20,27.78 L653.70,27.77 L654.20,27.77 L654.70,27.77 L655.20,27.76 L655.70,27.76 L656.20,27.76 L656.70,27.75 L657.20,27.75 L657.70,27.75 L658.20,27.74 L658.70,27.74 L659.20,27.73 L659.70,27.73 L660.20,27.73 L660.70,27.72 L661.20,27.72 L661.70,27.72 L662.20,27.71 L662.70,27.71 L663.20,27.71 L663.70,27.70 L664.20,27.70 L664.70,27.70 L665.20,27.69 L665.70,27.69 L666.20,27.68 L666.70,27.68 L667.20,27.68 L667.70,27.67 L668.20,27.67 L668.70,27.67 L669.20,27.66 L669.70,27.66 L670.20,27.66 L670.70,27.65 L671.20,27.65 L671.70,27.64 L672.20,27.64 L672.70,27.64 L673.20,27.63 L673.70,27.63 L674.20,27.63 L674.70,27.62 L675.20,27.62 L675.70,27.62 L676.20,27.61 L676.70,27.61 L677.20,27.60 L677.70,27.60 L678.20,27.60 L678.70,27.59 L679.20,27.59 L679.70,27.59 L680.20,27.58 L680.70,27.58 L681.20,27.58 L681.70,27.57 L682.20,27.57 L682.70,27.56 L683.20,27.56 L683.70,27.56 L684.20,27.55 L684.70,27.55 L685.20,27.55 L685.70,27.54 L686.20,27.54 L686.70,27.53 L687.20,27.53 L687.70,27.53 L688.20,27.52 L688.70,27.52 L689.20,27.52 L689.70,27.51 L690.20,27.51 L690.70,27.50 L691.20,27.50 L691.70,27.50 L692.20,27.49 L692.70,27.49 L693.20,27.49 L693.70,27.48 L694.20,27.48 L694.70,27.47 L695.20,27.47 L695.70,27.47 L696.20,27.46 L696.70,27.46 L697.20,27.46 L697.70,27.45 L698.20,27.45 L698.70,27.44 L699.20,27.44 L699.70,27.44 L700.20,27.43 L700.70,27.43 L701.20,27.43 L701.70,27.42 L702.20,27.42 L702.70,27.41 L703.20,27.41 L703.70,27.41 L704.20,27.40 L704.70,27.40 L705.20,27.40 L705.70,27.39 L706.20,27.39 L706.70,27.38 L707.20,27.38 L707.70,27.38 L708.20,27.37 L708.70,27.37 L709.20,27.37 L709.70,27.36 L710.20,27.36 L710.70,27.35 L711.20,27.35 L711.70,27.35 L712.20,27.34 L712.70,27.34 L713.20,27.33 L713.70,27.33 L714.20,27.33 L714.70,27.32 L715.20,27.32 L715.70,27.32 L716.20,27.31 L716.70,27.31 L717.20,27.30 L717.70,27.30 L718.20,27.30 L718.70,27.29 L719.20,27.29 L719.70,27.28 L720.20,27.28 L720.70,27.28 L721.20,27.27 L721.70,27.27 L722.20,27.27 L722.70,27.26 L723.20,27.26 L723.70,27.25 L724.20,27.25 L724.70,27.25 L725.20,27.24 L725.70,27.24 L726.20,27.23 L726.70,27.23 L727.20,27.23 L727.70,27.22 L728.20,27.22 L728.70,27.21 L729.20,27.21 L729.70,27.21 L730.20,27.20 L730.60,27.20" fill="none" stroke="#1f77c4" stroke-width="2.20" stroke-linejoin="round"/>
<path d="M457.70,41.00 L458.20,39.83 L458.70,38.67 L459.20,37.51 L459.70,36.36 L460.20,35.23 L460.70,34.09 L461.20,32.93 L461.70,31.78 L462.20,30.66 L462.70,29.60 L463.20,28.61 L463.70,27.60 L464.20,26.62 L464.70,25.70 L465.20,24.91 L465.70,24.30 L466.20,23.79 L466.70,23.30 L467.20,22.86 L467.70,22.48 L468.20,22.19 L468.70,22.03 L469.20,22.01 L469.70,22.06 L470.20,22.16 L470.70,22.30 L471.20,22.45 L471.70,22.61 L472.20,22.76 L472.70,22.88 L473.20,22.97 L473.70,23.00 L474.20,22.97 L474.70,22.89 L475.20,22.78 L475.70,22.65 L476.20,22.52 L476.70,22.41 L477.20,22.33 L477.70,22.30 L478.20,22.35 L478.70,22.50 L479.20,22.73 L479.70,23.01 L480.20,23.33 L480.70,23.66 L481.20,23.99 L481.70,24.30 L482.20,24.61 L482.70,24.95 L483.20,25.31 L483.70,25.68 L484.20,26.04 L484.70,26.39 L485.20,26.72 L485.70,27.00 L486.20,27.27 L486.70,27.56 L487.20,27.84 L487.70,28.11 L488.20,28.35 L488.70,28.53 L489.20,28.66 L489.70,28.70 L490.20,28.69 L490.70,28.66 L491.20,28.62 L491.70,28.57 L492.20,28.51 L492.70,28.44 L493.20,28.37 L493.70,28.30 L494.20,28.20 L494.70,28.05 L495.20,27.89 L495.70,27.77 L496.20,27.70 L496.70,27.70 L497.20,27.70 L497.70,27.70 L498.20,27.70 L498.70,27.70 L499.20,27.70 L499.70,27.70 L500.20,27.70 L500.70,27.70 L501.20,27.70 L501.70,27.70 L502.20,27.70 L502.70,27.70 L503.20,27.70 L503.70,27.70 L504.20,27.70 L504.70,27.70 L505.20,27.70 L505.70,27.70 L506.20,27.70 L506.70,27.70 L507.20,27.70 L507.70,27.69 L508.20,27.69 L508.70,27.69 L509.20,27.69 L509.70,27.68 L510.20,27.68 L510.70,27.68 L511.20,27.67 L511.70,27.67 L512.20,27.66 L512.70,27.66 L513.20,27.65 L513.70,27.65 L514.20,27.64 L514.70,27.64 L515.20,27.63 L515.70,27.63 L516.20,27.62 L516.70,27.61 L517.20,27.60 L517.70,27.60 L518.20,27.59 L518.70,27.58 L519.20,27.57 L519.70,27.57 L520.20,27.56 L520.70,27.55 L521.20,27.54 L521.70,27.53 L522.20,27.52 L522.70,27.51 L523.20,27.50 L523.70,27.49 L524.20,27.49 L524.70,27.48 L525.20,27.47 L525.70,27.46 L526.20,27.45 L526.70,27.44 L527.20,27.42 L527.70,27.41 L528.20,27.40 L528.70,27.39 L529.20,27.38 L529.70,27.37 L530.20,27.36 L530.70,27.35 L531.20,27.34 L531.70,27.33 L532.20,27.32 L532.70,27.30 L533.20,27.29 L533.70,27.28 L534.20,27.27 L534.70,27.26 L535.20,27.25 L535.70,27.24 L536.20,27.23 L536.70,27.21 L537.20,27.20 L537.70,27.19 L538.20,27.18 L538.70,27.17 L539.20,27.16 L539.70,27.15 L540.20,27.14 L540.70,27.12 L541.20,27.11 L541.70,27.10 L542.20,27.09 L542.70,27.08 L543.20,27.07 L543.70,27.06 L544.20,27.05 L544.70,27.04 L545.20,27.03 L545.70,27.02 L546.20,27.01 L546.70,27.00 L547.20,26.99 L547.70,26.98 L548.20,26.97 L548.70,26.96 L549.20,26.95 L549.70,26.94 L550.20,26.93 L550.70,26.92 L551.20,26.92 L551.70,26.91 L552.20,26.90 L552.70,26.89 L553.20,26.88 L553.70,26.88 L554.20,26.87 L554.70,26.86 L555.20,26.85 L555.70,26.85 L556.20,26.84 L556.70,26.83 L557.20,26.83 L557.70,26.82 L558.20,26.82 L558.70,26.81 L559.20,26.81 L559.70,26.80 L560.20,26.80 L560.70,26.79 L561.20,26.79 L561.70,26.79 L562.20,26.78 L562.70,26.78 L563.20,26.77 L563.70,26.77 L564.20,26.76 L564.70,26.76 L565.20,26.76 L565.70,26.75 L566.20,26.75 L566.70,26.75 L567.20,26.74 L567.70,26.74 L568.20,26.73 L568.70,26.73 L569.20,26.73 L569.70,26.72 L570.20,26.72 L570.70,26.72 L571.20,26.71 L571.70,26.71 L572.20,26.70 L572.70,26.70 L573.20,26.70 L573.70,26.69 L574.20,26.69 L574.70,26.69 L575.20,26.68 L575.70,26.68 L576.20,26.68 L576.70,26.67 L577.20,26.67 L577.70,26.67 L578.20,26.66 L578.70,26.66 L579.20,26.66 L579.70,26.65 L580.20,26.65 L580.70,26.65 L581.20,26.65 L581.70,26.64 L582.20,26.64 L582.70,26.64 L583.20,26.63 L583.70,26.63 L584.20,26.63 L584.70,26.62 L585.20,26.62 L585.70,26.62 L586.20,26.62 L586.70,26.61 L587.20,26.61 L587.70,26.61 L588.20,26.60 L588.70,26.60 L589.20,26.60 L589.70,26.60 L590.20,26.59 L590.70,26.59 L591.20,26.59 L591.70,26.59 L592.20,26.58 L592.70,26.58 L593.20,26.58 L593.70,26.57 L594.20,26.57 L594.70,26.57 L595.20,26.57 L595.70,26.56 L596.20,26.56 L596.70,26.56 L597.20,26.56 L597.70,26.55 L598.20,26.55 L598.70,26.55 L599.20,26.55 L599.70,26.54 L600.20,26.54 L600.70,26.54 L601.20,26.54 L601.70,26.53 L602.20,26.53 L602.70,26.53 L603.20,26.53 L603.70,26.52 L604.20,26.52 L604.70,26.52 L605.20,26.52 L605.70,26.52 L606.20,26.51 L606.70,26.51 L607.20,26.51 L607.70,26.51 L608.20,26.50 L608.70,26.50 L609.20,26.50 L609.70,26.50 L610.20,26.49 L610.70,26.49 L611.20,26.49 L611.70,26.49 L612.20,26.49 L612.70,26.48 L613.20,26.48 L613.70,26.48 L614.20,26.48 L614.70,26.47 L615.20,26.47 L615.70,26.47 L616.20,26.47 L616.70,26.47 L617.20,26.46 L617.70,26.46 L618.20,26.46 L618.70,26.46 L619.20,26.45 L619.70,26.45 L620.20,26.45 L620.70,26.45 L621.20,26.44 L621.70,26.44 L622.20,26.44 L622.70,26.44 L623.20,26.44 L623.70,26.43 L624.20,26.43 L624.70,26.43 L625.20,26.43 L625.70,26.42 L626.20,26.42 L626.70,26.42 L627.20,26.42 L627.70,26.42 L628.20,26.41 L628.70,26.41 L629.20,26.41 L629.70,26.41 L630.20,26.40 L630.70,26.40 L631.20,26.40 L631.70,26.40 L632.20,26.39 L632.70,26.39 L633.20,26.39 L633.70,26.39 L634.20,26.38 L634.70,26.38 L635.20,26.38 L635.70,26.38 L636.20,26.37 L636.70,26.37 L637.20,26.37 L637.70,26.37 L638.20,26.36 L638.70,26.36 L639.20,26.36 L639.70,26.36 L640.20,26.35 L640.70,26.35 L641.20,26.35 L641.70,26.35 L642.20,26.34 L642.70,26.34 L643.20,26.34 L643.70,26.34 L644.20,26.33 L644.70,26.33 L645.20,26.33 L645.70,26.32 L646.20,26.32 L646.70,26.32 L647.20,26.32 L647.70,26.31 L648.20,26.31 L648.70,26.31 L649.20,26.30 L649.70,26.30 L650.20,26.30 L650.70,26.30 L651.20,26.29 L651.70,26.29 L652.20,26.29 L652.70,26.28 L653.20,26.28 L653.70,26.28 L654.20,26.28 L654.70,26.27 L655.20,26.27 L655.70,26.27 L656.20,26.26 L656.70,26.26 L657.20,26.26 L657.70,26.25 L658.20,26.25 L658.70,26.25 L659.20,26.25 L659.70,26.24 L660.20,26.24 L660.70,26.24 L661.20,26.23 L661.70,26.23 L662.20,26.23 L662.70,26.22 L663.20,26.22 L663.70,26.22 L664.20,26.22 L664.70,26.21 L665.20,26.21 L665.70,26.21 L666.20,26.20 L666.70,26.20 L667.20,26.20 L667.70,26.19 L668.20,26.19 L668.70,26.19 L669.20,26.19 L669.70,26.18 L670.20,26.18 L670.70,26.18 L671.20,26.17 L671.70,26.17 L672.20,26.17 L672.70,26.16 L673.20,26.16 L673.70,26.16 L674.20,26.16 L674.70,26.15 L675.20,26.15 L675.70,26.15 L676.20,26.14 L676.70,26.14 L677.20,26.14 L677.70,26.13 L678.20,26.13 L678.70,26.13 L679.20,26.12 L679.70,26.12 L680.20,26.12 L680.70,26.12 L681.20,26.11 L681.70,26.11 L682.20,26.11 L682.70,26.10 L683.20,26.10 L683.70,26.10 L684.20,26.09 L684.70,26.09 L685.20,26.09 L685.70,26.08 L686.20,26.08 L686.70,26.08 L687.20,26.08 L687.70,26.07 L688.20,26.07 L688.70,26.07 L689.20,26.06 L689.70,26.06 L690.20,26.06 L690.70,26.05 L691.20,26.05 L691.70,26.05 L692.20,26.04 L692.70,26.04 L693.20,26.04 L693.70,26.04 L694.20,26.03 L694.70,26.03 L695.20,26.03 L695.70,26.02 L696.20,26.02 L696.70,26.02 L697.20,26.01 L697.70,26.01 L698.20,26.01 L698.70,26.00 L699.20,26.00 L699.70,26.00 L700.20,25.99 L700.70,25.99 L701.20,25.99 L701.70,25.99 L702.20,25.98 L702.70,25.98 L703.20,25.98 L703.70,25.97 L704.20,25.97 L704.70,25.97 L705.20,25.96 L705.70,25.96 L706.20,25.96 L706.70,25.95 L707.20,25.95 L707.70,25.95 L708.20,25.94 L708.70,25.94 L709.20,25.94 L709.70,25.93 L710.20,25.93 L710.70,25.93 L711.20,25.92 L711.70,25.92 L712.20,25.92 L712.70,25.92 L713.20,25.91 L713.70,25.91 L714.20,25.91 L714.70,25.90 L715.20,25.90 L715.70,25.90 L716.20,25.89 L716.70,25.89 L717.20,25.89 L717.70,25.88 L718.20,25.88 L718.70,25.88 L719.20,25.87 L719.70,25.87 L720.20,25.87 L720.70,25.86 L721.20,25.86 L721.70,25.86 L722.20,25.85 L722.70,25.85 L723.20,25.85 L723.70,25.84 L724.20,25.84 L724.70,25.84 L725.20,25.84 L725.70,25.83 L726.20,25.83 L726.70,25.83 L727.20,25.82 L727.70,25.82 L728.20,25.82 L728.70,25.81 L729.20,25.81 L729.70,25.81 L730.20,25.80 L730.60,25.80" fill="none" stroke="#d23a3a" stroke-width="2.40" stroke-linejoin="round"/>
<path d="M456.80,202.50 L457.30,198.17 L457.80,193.83 L458.30,189.48 L458.80,185.11 L459.30,180.74 L459.80,176.35 L460.30,171.95 L460.80,167.54 L461.30,163.11 L461.80,158.50 L462.30,153.73 L462.80,148.91 L463.30,144.15 L463.80,139.57 L464.30,135.28 L464.80,131.41 L465.30,127.96 L465.80,124.70 L466.30,121.79 L466.80,119.47 L467.30,117.73 L467.80,116.20 L468.30,114.94 L468.80,113.98 L469.30,113.33 L469.80,112.74 L470.30,112.21 L470.80,111.78 L471.30,111.47 L471.80,111.31 L472.30,111.30 L472.80,111.30 L473.30,111.30 L473.80,111.30 L474.30,111.30 L474.80,111.30 L475.30,111.35 L475.80,111.48 L476.30,111.65 L476.80,111.82 L477.30,111.95 L477.80,112.00 L478.30,111.76 L478.80,111.11 L479.30,110.19 L479.80,109.12 L480.30,107.71 L480.80,105.61 L481.30,103.33 L481.80,101.30 L482.30,99.14 L482.80,97.18 L483.30,96.00 L483.80,95.43 L484.30,94.94 L484.80,94.57 L485.30,94.31 L485.80,94.20 L486.30,94.21 L486.80,94.24 L487.30,94.28 L487.80,94.33 L488.30,94.37 L488.80,94.40 L489.30,94.37 L489.80,94.06 L490.30,93.50 L490.80,92.78 L491.30,91.98 L491.80,91.21 L492.30,90.53 L492.80,89.80 L493.30,88.99 L493.80,88.17 L494.30,87.38 L494.80,86.67 L495.30,86.10 L495.80,85.70 L496.30,85.41 L496.80,85.14 L497.30,84.89 L497.80,84.67 L498.30,84.48 L498.80,84.34 L499.30,84.24 L499.80,84.20 L500.30,84.20 L500.80,84.21 L501.30,84.22 L501.80,84.24 L502.30,84.25 L502.80,84.28 L503.30,84.30 L503.80,84.35 L504.30,84.43 L504.80,84.52 L505.30,84.58 L505.80,84.59 L506.30,84.40 L506.80,84.01 L507.30,83.50 L507.80,82.97 L508.30,82.50 L508.80,82.08 L509.30,81.65 L509.80,81.21 L510.30,80.79 L510.80,80.40 L511.30,80.07 L511.80,79.78 L512.30,79.51 L512.80,79.26 L513.30,79.02 L513.80,78.79 L514.30,78.58 L514.80,78.37 L515.30,78.17 L515.80,77.98 L516.30,77.79 L516.80,77.60 L517.30,77.42 L517.80,77.24 L518.30,77.06 L518.80,76.87 L519.30,76.68 L519.80,76.49 L520.30,76.30 L520.80,76.12 L521.30,75.93 L521.80,75.75 L522.30,75.57 L522.80,75.39 L523.30,75.21 L523.80,75.04 L524.30,74.87 L524.80,74.69 L525.30,74.52 L525.80,74.36 L526.30,74.19 L526.80,74.03 L527.30,73.86 L527.80,73.70 L528.30,73.54 L528.80,73.38 L529.30,73.23 L529.80,73.07 L530.30,72.92 L530.80,72.77 L531.30,72.62 L531.80,72.47 L532.30,72.32 L532.80,72.17 L533.30,72.03 L533.80,71.88 L534.30,71.74 L534.80,71.60 L535.30,71.46 L535.80,71.32 L536.30,71.18 L536.80,71.05 L537.30,70.91 L537.80,70.78 L538.30,70.65 L538.80,70.52 L539.30,70.39 L539.80,70.26 L540.30,70.13 L540.80,70.00 L541.30,69.88 L541.80,69.75 L542.30,69.63 L542.80,69.51 L543.30,69.39 L543.80,69.27 L544.30,69.15 L544.80,69.03 L545.30,68.91 L545.80,68.79 L546.30,68.68 L546.80,68.57 L547.30,68.45 L547.80,68.34 L548.30,68.23 L548.80,68.12 L549.30,68.01 L549.80,67.90 L550.30,67.79 L550.80,67.68 L551.30,67.58 L551.80,67.47 L552.30,67.37 L552.80,67.26 L553.30,67.16 L553.80,67.06 L554.30,66.96 L554.80,66.85 L555.30,66.75 L555.80,66.66 L556.30,66.56 L556.80,66.46 L557.30,66.36 L557.80,66.27 L558.30,66.17 L558.80,66.08 L559.30,65.98 L559.80,65.89 L560.30,65.80 L560.80,65.70 L561.30,65.61 L561.80,65.52 L562.30,65.43 L562.80,65.34 L563.30,65.25 L563.80,65.16 L564.30,65.08 L564.80,64.99 L565.30,64.90 L565.80,64.82 L566.30,64.73 L566.80,64.65 L567.30,64.56 L567.80,64.48 L568.30,64.40 L568.80,64.32 L569.30,64.24 L569.80,64.15 L570.30,64.07 L570.80,63.99 L571.30,63.91 L571.80,63.84 L572.30,63.76 L572.80,63.68 L573.30,63.60 L573.80,63.53 L574.30,63.45 L574.80,63.37 L575.30,63.30 L575.80,63.22 L576.30,63.15 L576.80,63.08 L577.30,63.00 L577.80,62.93 L578.30,62.86 L578.80,62.79 L579.30,62.71 L579.80,62.64 L580.30,62.57 L580.80,62.50 L581.30,62.43 L581.80,62.36 L582.30,62.30 L582.80,62.23 L583.30,62.16 L583.80,62.09 L584.30,62.03 L584.80,61.96 L585.30,61.89 L585.80,61.83 L586.30,61.76 L586.80,61.70 L587.30,61.63 L587.80,61.57 L588.30,61.50 L588.80,61.44 L589.30,61.38 L589.80,61.32 L590.30,61.25 L590.80,61.19 L591.30,61.13 L591.80,61.07 L592.30,61.01 L592.80,60.95 L593.30,60.89 L593.80,60.83 L594.30,60.77 L594.80,60.71 L595.30,60.65 L595.80,60.59 L596.30,60.54 L596.80,60.48 L597.30,60.42 L597.80,60.36 L598.30,60.31 L598.80,60.25 L599.30,60.20 L599.80,60.14 L600.30,60.08 L600.80,60.03 L601.30,59.98 L601.80,59.92 L602.30,59.87 L602.80,59.81 L603.30,59.76 L603.80,59.71 L604.30,59.65 L604.80,59.60 L605.30,59.55 L605.80,59.50 L606.30,59.45 L606.80,59.39 L607.30,59.34 L607.80,59.29 L608.30,59.24 L608.80,59.19 L609.30,59.14 L609.80,59.09 L610.30,59.04 L610.80,58.99 L611.30,58.95 L611.80,58.90 L612.30,58.85 L612.80,58.80 L613.30,58.75 L613.80,58.71 L614.30,58.66 L614.80,58.61 L615.30,58.56 L615.80,58.52 L616.30,58.47 L616.80,58.43 L617.30,58.38 L617.80,58.33 L618.30,58.29 L618.80,58.24 L619.30,58.20 L619.80,58.15 L620.30,58.11 L620.80,58.07 L621.30,58.02 L621.80,57.98 L622.30,57.94 L622.80,57.89 L623.30,57.85 L623.80,57.81 L624.30,57.76 L624.80,57.72 L625.30,57.68 L625.80,57.64 L626.30,57.60 L626.80,57.55 L627.30,57.51 L627.80,57.47 L628.30,57.43 L628.80,57.39 L629.30,57.35 L629.80,57.31 L630.30,57.27 L630.80,57.23 L631.30,57.19 L631.80,57.15 L632.30,57.11 L632.80,57.07 L633.30,57.03 L633.80,57.00 L634.30,56.96 L634.80,56.92 L635.30,56.88 L635.80,56.84 L636.30,56.81 L636.80,56.77 L637.30,56.73 L637.80,56.69 L638.30,56.66 L638.80,56.62 L639.30,56.58 L639.80,56.55 L640.30,56.51 L640.80,56.48 L641.30,56.44 L641.80,56.40 L642.30,56.37 L642.80,56.33 L643.30,56.30 L643.80,56.26 L644.30,56.23 L644.80,56.19 L645.30,56.16 L645.80,56.13 L646.30,56.09 L646.80,56.06 L647.30,56.02 L647.80,55.99 L648.30,55.96 L648.80,55.93 L649.30,55.89 L649.80,55.85 L650.30,55.80 L650.80,55.76 L651.30,55.71 L651.80,55.66 L652.30,55.60 L652.80,55.55 L653.30,55.49 L653.80,55.43 L654.30,55.37 L654.80,55.31 L655.30,55.24 L655.80,55.18 L656.30,55.12 L656.80,55.05 L657.30,54.99 L657.80,54.92 L658.30,54.86 L658.80,54.80 L659.30,54.74 L659.80,54.68 L660.30,54.62 L660.80,54.56 L661.30,54.50 L661.80,54.45 L662.30,54.40 L662.80,54.35 L663.30,54.31 L663.80,54.26 L664.30,54.22 L664.80,54.19 L665.30,54.15 L665.80,54.12 L666.30,54.08 L666.80,54.05 L667.30,54.02 L667.80,53.98 L668.30,53.95 L668.80,53.92 L669.30,53.89 L669.80,53.86 L670.30,53.83 L670.80,53.81 L671.30,53.78 L671.80,53.75 L672.30,53.72 L672.80,53.70 L673.30,53.67 L673.80,53.65 L674.30,53.62 L674.80,53.60 L675.30,53.57 L675.80,53.55 L676.30,53.52 L676.80,53.50 L677.30,53.48 L677.80,53.45 L678.30,53.43 L678.80,53.41 L679.30,53.39 L679.80,53.36 L680.30,53.34 L680.80,53.32 L681.30,53.30 L681.80,53.27 L682.30,53.25 L682.80,53.23 L683.30,53.21 L683.80,53.19 L684.30,53.16 L684.80,53.14 L685.30,53.12 L685.80,53.10 L686.30,53.07 L686.80,53.05 L687.30,53.03 L687.80,53.01 L688.30,52.98 L688.80,52.96 L689.30,52.93 L689.80,52.91 L690.30,52.89 L690.80,52.86 L691.30,52.84 L691.80,52.81 L692.30,52.79 L692.80,52.76 L693.30,52.74 L693.80,52.71 L694.30,52.69 L694.80,52.67 L695.30,52.64 L695.80,52.62 L696.30,52.59 L696.80,52.57 L697.30,52.55 L697.80,52.52 L698.30,52.50 L698.80,52.47 L699.30,52.45 L699.80,52.43 L700.30,52.40 L700.80,52.38 L701.30,52.36 L701.80,52.33 L702.30,52.31 L702.80,52.29 L703.30,52.26 L703.80,52.24 L704.30,52.22 L704.80,52.19 L705.30,52.17 L705.80,52.15 L706.30,52.12 L706.80,52.10 L707.30,52.08 L707.80,52.05 L708.30,52.03 L708.80,52.01 L709.30,51.99 L709.80,51.96 L710.30,51.94 L710.80,51.92 L711.30,51.90 L711.80,51.87 L712.30,51.85 L712.80,51.83 L713.30,51.81 L713.80,51.79 L714.30,51.76 L714.80,51.74 L715.30,51.72 L715.80,51.70 L716.30,51.68 L716.80,51.65 L717.30,51.63 L717.80,51.61 L718.30,51.59 L718.80,51.57 L719.30,51.55 L719.80,51.52 L720.30,51.50 L720.80,51.48 L721.30,51.46 L721.80,51.44 L722.30,51.42 L722.80,51.40 L723.30,51.37 L723.80,51.35 L724.30,51.33 L724.80,51.31 L725.30,51.29 L725.80,51.27 L726.30,51.25 L726.80,51.23 L727.30,51.21 L727.80,51.19 L728.30,51.17 L728.80,51.15 L729.30,51.12 L729.80,51.10 L729.90,51.10" fill="none" stroke="#6aa842" stroke-width="2.40" stroke-linejoin="round"/>
<path d="M457.60,202.80 L458.10,198.47 L458.60,194.13 L459.10,189.78 L459.60,185.41 L460.10,181.04 L460.60,176.65 L461.10,172.25 L461.60,167.84 L462.10,163.41 L462.60,158.76 L463.10,153.90 L463.60,148.99 L464.10,144.15 L464.60,139.55 L465.10,135.32 L465.60,131.61 L466.10,128.47 L466.60,125.64 L467.10,123.19 L467.60,121.20 L468.10,119.54 L468.60,118.06 L469.10,116.84 L469.60,115.93 L470.10,115.31 L470.60,114.73 L471.10,114.22 L471.60,113.81 L472.10,113.53 L472.60,113.40 L473.10,113.40 L473.60,113.40 L474.10,113.40 L474.60,113.40 L475.10,113.40 L475.60,113.40 L476.10,113.47 L476.60,113.61 L477.10,113.78 L477.60,113.95 L478.10,114.07 L478.60,114.09 L479.10,113.75 L479.60,113.04 L480.10,112.08 L480.60,111.00 L481.10,109.43 L481.60,107.25 L482.10,105.00 L482.60,102.98 L483.10,100.81 L483.60,98.97 L484.10,97.98 L484.60,97.42 L485.10,96.96 L485.60,96.61 L486.10,96.38 L486.60,96.30 L487.10,96.31 L487.60,96.35 L488.10,96.39 L488.60,96.44 L489.10,96.48 L489.60,96.50 L490.10,96.44 L490.60,96.08 L491.10,95.49 L491.60,94.76 L492.10,93.96 L492.60,93.18 L493.10,92.46 L493.60,91.60 L494.10,90.66 L494.60,89.69 L495.10,88.77 L495.60,87.96 L496.10,87.33 L496.60,86.94 L497.10,86.65 L497.60,86.38 L498.10,86.14 L498.60,85.92 L499.10,85.75 L499.60,85.61 L500.10,85.53 L500.60,85.50 L501.10,85.50 L501.60,85.51 L502.10,85.52 L502.60,85.54 L503.10,85.56 L503.60,85.58 L504.10,85.61 L504.60,85.66 L505.10,85.75 L505.60,85.83 L506.10,85.89 L506.60,85.88 L507.10,85.64 L507.60,85.21 L508.10,84.69 L508.60,84.16 L509.10,83.72 L509.60,83.30 L510.10,82.86 L510.60,82.42 L511.10,82.01 L511.60,81.63 L512.10,81.31 L512.60,81.03 L513.10,80.76 L513.60,80.51 L514.10,80.27 L514.60,80.05 L515.10,79.83 L515.60,79.63 L516.10,79.43 L516.60,79.24 L517.10,79.05 L517.60,78.87 L518.10,78.68 L518.60,78.50 L519.10,78.32 L519.60,78.13 L520.10,77.95 L520.60,77.75 L521.10,77.57 L521.60,77.38 L522.10,77.20 L522.60,77.01 L523.10,76.83 L523.60,76.65 L524.10,76.48 L524.60,76.30 L525.10,76.13 L525.60,75.96 L526.10,75.79 L526.60,75.62 L527.10,75.46 L527.60,75.29 L528.10,75.13 L528.60,74.97 L529.10,74.81 L529.60,74.65 L530.10,74.50 L530.60,74.34 L531.10,74.19 L531.60,74.04 L532.10,73.89 L532.60,73.74 L533.10,73.59 L533.60,73.44 L534.10,73.30 L534.60,73.15 L535.10,73.01 L535.60,72.87 L536.10,72.73 L536.60,72.59 L537.10,72.46 L537.60,72.32 L538.10,72.19 L538.60,72.05 L539.10,71.92 L539.60,71.79 L540.10,71.66 L540.60,71.53 L541.10,71.40 L541.60,71.28 L542.10,71.15 L542.60,71.03 L543.10,70.91 L543.60,70.78 L544.10,70.66 L544.60,70.54 L545.10,70.42 L545.60,70.31 L546.10,70.19 L546.60,70.07 L547.10,69.96 L547.60,69.84 L548.10,69.73 L548.60,69.62 L549.10,69.51 L549.60,69.39 L550.10,69.29 L550.60,69.18 L551.10,69.07 L551.60,68.96 L552.10,68.86 L552.60,68.75 L553.10,68.65 L553.60,68.54 L554.10,68.44 L554.60,68.34 L555.10,68.23 L555.60,68.13 L556.10,68.03 L556.60,67.94 L557.10,67.84 L557.60,67.74 L558.10,67.64 L558.60,67.55 L559.10,67.45 L559.60,67.36 L560.10,67.26 L560.60,67.17 L561.10,67.08 L561.60,66.98 L562.10,66.89 L562.60,66.80 L563.10,66.71 L563.60,66.62 L564.10,66.54 L564.60,66.45 L565.10,66.36 L565.60,66.27 L566.10,66.19 L566.60,66.10 L567.10,66.02 L567.60,65.93 L568.10,65.85 L568.60,65.77 L569.10,65.68 L569.60,65.60 L570.10,65.52 L570.60,65.44 L571.10,65.36 L571.60,65.28 L572.10,65.20 L572.60,65.12 L573.10,65.04 L573.60,64.96 L574.10,64.89 L574.60,64.81 L575.10,64.73 L575.60,64.66 L576.10,64.58 L576.60,64.51 L577.10,64.43 L577.60,64.36 L578.10,64.29 L578.60,64.22 L579.10,64.14 L579.60,64.07 L580.10,64.00 L580.60,63.93 L581.10,63.86 L581.60,63.79 L582.10,63.72 L582.60,63.65 L583.10,63.58 L583.60,63.51 L584.10,63.45 L584.60,63.38 L585.10,63.31 L585.60,63.25 L586.10,63.18 L586.60,63.11 L587.10,63.05 L587.60,62.98 L588.10,62.92 L588.60,62.86 L589.10,62.79 L589.60,62.73 L590.10,62.67 L590.60,62.60 L591.10,62.54 L591.60,62.48 L592.10,62.42 L592.60,62.36 L593.10,62.30 L593.60,62.24 L594.10,62.18 L594.60,62.12 L595.10,62.06 L595.60,62.00 L596.10,61.94 L596.60,61.88 L597.10,61.82 L597.60,61.77 L598.10,61.71 L598.60,61.65 L599.10,61.60 L599.60,61.54 L600.10,61.48 L600.60,61.43 L601.10,61.37 L601.60,61.32 L602.10,61.26 L602.60,61.21 L603.10,61.16 L603.60,61.10 L604.10,61.05 L604.60,61.00 L605.10,60.94 L605.60,60.89 L606.10,60.84 L606.60,60.79 L607.10,60.74 L607.60,60.68 L608.10,60.63 L608.60,60.58 L609.10,60.53 L609.60,60.48 L610.10,60.43 L610.60,60.38 L611.10,60.33 L611.60,60.28 L612.10,60.24 L612.60,60.19 L613.10,60.14 L613.60,60.09 L614.10,60.04 L614.60,60.00 L615.10,59.95 L615.60,59.90 L616.10,59.86 L616.60,59.81 L617.10,59.76 L617.60,59.72 L618.10,59.67 L618.60,59.63 L619.10,59.58 L619.60,59.54 L620.10,59.49 L620.60,59.45 L621.10,59.40 L621.60,59.36 L622.10,59.31 L622.60,59.27 L623.10,59.23 L623.60,59.18 L624.10,59.14 L624.60,59.10 L625.10,59.06 L625.60,59.01 L626.10,58.97 L626.60,58.93 L627.10,58.89 L627.60,58.85 L628.10,58.81 L628.60,58.76 L629.10,58.72 L629.60,58.68 L630.10,58.64 L630.60,58.60 L631.10,58.56 L631.60,58.52 L632.10,58.48 L632.60,58.44 L633.10,58.40 L633.60,58.37 L634.10,58.33 L634.60,58.29 L635.10,58.25 L635.60,58.21 L636.10,58.17 L636.60,58.14 L637.10,58.10 L637.60,58.06 L638.10,58.02 L638.60,57.99 L639.10,57.95 L639.60,57.91 L640.10,57.88 L640.60,57.84 L641.10,57.80 L641.60,57.77 L642.10,57.73 L642.60,57.70 L643.10,57.66 L643.60,57.63 L644.10,57.59 L644.60,57.56 L645.10,57.52 L645.60,57.49 L646.10,57.45 L646.60,57.42 L647.10,57.38 L647.60,57.35 L648.10,57.32 L648.60,57.28 L649.10,57.25 L649.60,57.22 L650.10,57.18 L650.60,57.14 L651.10,57.09 L651.60,57.04 L652.10,56.99 L652.60,56.93 L653.10,56.87 L653.60,56.81 L654.10,56.74 L654.60,56.67 L655.10,56.61 L655.60,56.54 L656.10,56.47 L656.60,56.39 L657.10,56.32 L657.60,56.25 L658.10,56.18 L658.60,56.10 L659.10,56.03 L659.60,55.96 L660.10,55.89 L660.60,55.82 L661.10,55.76 L661.60,55.69 L662.10,55.63 L662.60,55.57 L663.10,55.51 L663.60,55.46 L664.10,55.41 L664.60,55.36 L665.10,55.32 L665.60,55.28 L666.10,55.24 L666.60,55.20 L667.10,55.16 L667.60,55.13 L668.10,55.09 L668.60,55.06 L669.10,55.02 L669.60,54.99 L670.10,54.96 L670.60,54.92 L671.10,54.89 L671.60,54.86 L672.10,54.83 L672.60,54.80 L673.10,54.77 L673.60,54.74 L674.10,54.71 L674.60,54.68 L675.10,54.65 L675.60,54.63 L676.10,54.60 L676.60,54.57 L677.10,54.55 L677.60,54.52 L678.10,54.50 L678.60,54.47 L679.10,54.45 L679.60,54.42 L680.10,54.40 L680.60,54.37 L681.10,54.35 L681.60,54.32 L682.10,54.30 L682.60,54.28 L683.10,54.25 L683.60,54.23 L684.10,54.21 L684.60,54.18 L685.10,54.16 L685.60,54.14 L686.10,54.11 L686.60,54.09 L687.10,54.07 L687.60,54.04 L688.10,54.02 L688.60,54.00 L689.10,53.98 L689.60,53.95 L690.10,53.93 L690.60,53.90 L691.10,53.88 L691.60,53.86 L692.10,53.83 L692.60,53.81 L693.10,53.79 L693.60,53.77 L694.10,53.75 L694.60,53.72 L695.10,53.70 L695.60,53.68 L696.10,53.66 L696.60,53.64 L697.10,53.62 L697.60,53.60 L698.10,53.58 L698.60,53.56 L699.10,53.54 L699.60,53.52 L700.10,53.50 L700.60,53.48 L701.10,53.46 L701.60,53.44 L702.10,53.42 L702.60,53.40 L703.10,53.38 L703.60,53.36 L704.10,53.34 L704.60,53.32 L705.10,53.30 L705.60,53.28 L706.10,53.25 L706.60,53.23 L707.10,53.21 L707.60,53.19 L708.10,53.17 L708.60,53.15 L709.10,53.13 L709.60,53.10 L710.10,53.08 L710.60,53.06 L711.10,53.04 L711.60,53.01 L712.10,52.99 L712.60,52.97 L713.10,52.95 L713.60,52.92 L714.10,52.90 L714.60,52.88 L715.10,52.85 L715.60,52.83 L716.10,52.81 L716.60,52.78 L717.10,52.76 L717.60,52.74 L718.10,52.71 L718.60,52.69 L719.10,52.67 L719.60,52.64 L720.10,52.62 L720.60,52.59 L721.10,52.57 L721.60,52.55 L722.10,52.52 L722.60,52.50 L723.10,52.47 L723.60,52.45 L724.10,52.42 L724.60,52.40 L725.10,52.38 L725.60,52.35 L726.10,52.33 L726.60,52.30 L727.10,52.28 L727.60,52.25 L728.10,52.23 L728.60,52.20 L729.10,52.18 L729.60,52.15 L730.10,52.13 L730.60,52.10" fill="none" stroke="#6a4c9c" stroke-width="2.20" stroke-linejoin="round"/>
<path d="M457.60,202.50 L458.10,198.17 L458.60,193.83 L459.10,189.48 L459.60,185.11 L460.10,180.74 L460.60,176.35 L461.10,171.95 L461.60,167.54 L462.10,163.11 L462.60,158.46 L463.10,153.60 L463.60,148.69 L464.10,143.85 L464.60,139.25 L465.10,135.02 L465.60,131.31 L466.10,128.17 L466.60,125.34 L467.10,122.89 L467.60,120.90 L468.10,119.24 L468.60,117.76 L469.10,116.54 L469.60,115.63 L470.10,115.01 L470.60,114.43 L471.10,113.92 L471.60,113.51 L472.10,113.23 L472.60,113.10 L473.10,113.10 L473.60,113.10 L474.10,113.10 L474.60,113.10 L475.10,113.10 L475.60,113.10 L476.10,113.17 L476.60,113.31 L477.10,113.48 L477.60,113.65 L478.10,113.77 L478.60,113.79 L479.10,113.45 L479.60,112.74 L480.10,111.78 L480.60,110.70 L481.10,109.13 L481.60,106.95 L482.10,104.70 L482.60,102.68 L483.10,100.51 L483.60,98.67 L484.10,97.68 L484.60,97.12 L485.10,96.66 L485.60,96.31 L486.10,96.08 L486.60,96.00 L487.10,96.01 L487.60,96.05 L488.10,96.09 L488.60,96.14 L489.10,96.18 L489.60,96.20 L490.10,96.14 L490.60,95.78 L491.10,95.19 L491.60,94.46 L492.10,93.66 L492.60,92.88 L493.10,92.16 L493.60,91.30 L494.10,90.36 L494.60,89.39 L495.10,88.47 L495.60,87.66 L496.10,87.03 L496.60,86.64 L497.10,86.35 L497.60,86.08 L498.10,85.84 L498.60,85.62 L499.10,85.45 L499.60,85.31 L500.10,85.23 L500.60,85.20 L501.10,85.20 L501.60,85.21 L502.10,85.22 L502.60,85.24 L503.10,85.26 L503.60,85.28 L504.10,85.31 L504.60,85.36 L505.10,85.45 L505.60,85.53 L506.10,85.59 L506.60,85.58 L507.10,85.34 L507.60,84.91 L508.10,84.39 L508.60,83.86 L509.10,83.42 L509.60,83.00 L510.10,82.56 L510.60,82.12 L511.10,81.71 L511.60,81.33 L512.10,81.01 L512.60,80.73 L513.10,80.46 L513.60,80.21 L514.10,79.97 L514.60,79.75 L515.10,79.53 L515.60,79.33 L516.10,79.13 L516.60,78.94 L517.10,78.75 L517.60,78.57 L518.10,78.38 L518.60,78.20 L519.10,78.02 L519.60,77.83 L520.10,77.65 L520.60,77.45 L521.10,77.27 L521.60,77.08 L522.10,76.90 L522.60,76.71 L523.10,76.53 L523.60,76.35 L524.10,76.18 L524.60,76.00 L525.10,75.83 L525.60,75.66 L526.10,75.49 L526.60,75.32 L527.10,75.16 L527.60,74.99 L528.10,74.83 L528.60,74.67 L529.10,74.51 L529.60,74.35 L530.10,74.20 L530.60,74.04 L531.10,73.89 L531.60,73.74 L532.10,73.59 L532.60,73.44 L533.10,73.29 L533.60,73.14 L534.10,73.00 L534.60,72.85 L535.10,72.71 L535.60,72.57 L536.10,72.43 L536.60,72.29 L537.10,72.16 L537.60,72.02 L538.10,71.89 L538.60,71.75 L539.10,71.62 L539.60,71.49 L540.10,71.36 L540.60,71.23 L541.10,71.10 L541.60,70.98 L542.10,70.85 L542.60,70.73 L543.10,70.61 L543.60,70.48 L544.10,70.36 L544.60,70.24 L545.10,70.12 L545.60,70.01 L546.10,69.89 L546.60,69.77 L547.10,69.66 L547.60,69.54 L548.10,69.43 L548.60,69.32 L549.10,69.21 L549.60,69.09 L550.10,68.99 L550.60,68.88 L551.10,68.77 L551.60,68.66 L552.10,68.56 L552.60,68.45 L553.10,68.35 L553.60,68.24 L554.10,68.14 L554.60,68.04 L555.10,67.93 L555.60,67.83 L556.10,67.73 L556.60,67.64 L557.10,67.54 L557.60,67.44 L558.10,67.34 L558.60,67.25 L559.10,67.15 L559.60,67.06 L560.10,66.96 L560.60,66.87 L561.10,66.78 L561.60,66.68 L562.10,66.59 L562.60,66.50 L563.10,66.41 L563.60,66.32 L564.10,66.24 L564.60,66.15 L565.10,66.06 L565.60,65.97 L566.10,65.89 L566.60,65.80 L567.10,65.72 L567.60,65.63 L568.10,65.55 L568.60,65.47 L569.10,65.38 L569.60,65.30 L570.10,65.22 L570.60,65.14 L571.10,65.06 L571.60,64.98 L572.10,64.90 L572.60,64.82 L573.10,64.74 L573.60,64.66 L574.10,64.59 L574.60,64.51 L575.10,64.43 L575.60,64.36 L576.10,64.28 L576.60,64.21 L577.10,64.13 L577.60,64.06 L578.10,63.99 L578.60,63.92 L579.10,63.84 L579.60,63.77 L580.10,63.70 L580.60,63.63 L581.10,63.56 L581.60,63.49 L582.10,63.42 L582.60,63.35 L583.10,63.28 L583.60,63.21 L584.10,63.15 L584.60,63.08 L585.10,63.01 L585.60,62.95 L586.10,62.88 L586.60,62.81 L587.10,62.75 L587.60,62.68 L588.10,62.62 L588.60,62.56 L589.10,62.49 L589.60,62.43 L590.10,62.37 L590.60,62.30 L591.10,62.24 L591.60,62.18 L592.10,62.12 L592.60,62.06 L593.10,62.00 L593.60,61.94 L594.10,61.88 L594.60,61.82 L595.10,61.76 L595.60,61.70 L596.10,61.64 L596.60,61.58 L597.10,61.52 L597.60,61.47 L598.10,61.41 L598.60,61.35 L599.10,61.30 L599.60,61.24 L600.10,61.18 L600.60,61.13 L601.10,61.07 L601.60,61.02 L602.10,60.96 L602.60,60.91 L603.10,60.86 L603.60,60.80 L604.10,60.75 L604.60,60.70 L605.10,60.64 L605.60,60.59 L606.10,60.54 L606.60,60.49 L607.10,60.44 L607.60,60.38 L608.10,60.33 L608.60,60.28 L609.10,60.23 L609.60,60.18 L610.10,60.13 L610.60,60.08 L611.10,60.03 L611.60,59.98 L612.10,59.94 L612.60,59.89 L613.10,59.84 L613.60,59.79 L614.10,59.74 L614.60,59.70 L615.10,59.65 L615.60,59.60 L616.10,59.56 L616.60,59.51 L617.10,59.46 L617.60,59.42 L618.10,59.37 L618.60,59.33 L619.10,59.28 L619.60,59.24 L620.10,59.19 L620.60,59.15 L621.10,59.10 L621.60,59.06 L622.10,59.01 L622.60,58.97 L623.10,58.93 L623.60,58.88 L624.10,58.84 L624.60,58.80 L625.10,58.76 L625.60,58.71 L626.10,58.67 L626.60,58.63 L627.10,58.59 L627.60,58.55 L628.10,58.51 L628.60,58.46 L629.10,58.42 L629.60,58.38 L630.10,58.34 L630.60,58.30 L631.10,58.26 L631.60,58.22 L632.10,58.18 L632.60,58.14 L633.10,58.10 L633.60,58.07 L634.10,58.03 L634.60,57.99 L635.10,57.95 L635.60,57.91 L636.10,57.87 L636.60,57.84 L637.10,57.80 L637.60,57.76 L638.10,57.72 L638.60,57.69 L639.10,57.65 L639.60,57.61 L640.10,57.58 L640.60,57.54 L641.10,57.50 L641.60,57.47 L642.10,57.43 L642.60,57.40 L643.10,57.36 L643.60,57.33 L644.10,57.29 L644.60,57.26 L645.10,57.22 L645.60,57.19 L646.10,57.15 L646.60,57.12 L647.10,57.08 L647.60,57.05 L648.10,57.02 L648.60,56.98 L649.10,56.95 L649.60,56.92 L650.10,56.88 L650.60,56.84 L651.10,56.79 L651.60,56.74 L652.10,56.68 L652.60,56.62 L653.10,56.56 L653.60,56.49 L654.10,56.42 L654.60,56.35 L655.10,56.28 L655.60,56.20 L656.10,56.13 L656.60,56.05 L657.10,55.98 L657.60,55.90 L658.10,55.82 L658.60,55.75 L659.10,55.67 L659.60,55.60 L660.10,55.53 L660.60,55.46 L661.10,55.40 L661.60,55.34 L662.10,55.28 L662.60,55.22 L663.10,55.17 L663.60,55.12 L664.10,55.08 L664.60,55.04 L665.10,55.01 L665.60,54.98 L666.10,54.96 L666.60,54.93 L667.10,54.91 L667.60,54.88 L668.10,54.86 L668.60,54.83 L669.10,54.81 L669.60,54.78 L670.10,54.76 L670.60,54.73 L671.10,54.71 L671.60,54.69 L672.10,54.67 L672.60,54.64 L673.10,54.62 L673.60,54.60 L674.10,54.58 L674.60,54.56 L675.10,54.54 L675.60,54.52 L676.10,54.50 L676.60,54.48 L677.10,54.46 L677.60,54.45 L678.10,54.43 L678.60,54.41 L679.10,54.40 L679.60,54.38 L680.10,54.37 L680.60,54.35 L681.10,54.34 L681.60,54.32 L682.10,54.31 L682.60,54.30 L683.10,54.29 L683.60,54.28 L684.10,54.27 L684.60,54.26 L685.10,54.25 L685.60,54.24 L686.10,54.23 L686.60,54.23 L687.10,54.22 L687.60,54.22 L688.10,54.21 L688.60,54.21 L689.10,54.20 L689.60,54.20 L690.10,54.20 L690.60,54.20 L691.10,54.20 L691.60,54.20 L692.10,54.20 L692.60,54.21 L693.10,54.21 L693.60,54.21 L694.10,54.22 L694.60,54.22 L695.10,54.23 L695.60,54.24 L696.10,54.24 L696.60,54.25 L697.10,54.26 L697.60,54.27 L698.10,54.28 L698.60,54.29 L699.10,54.30 L699.60,54.31 L700.10,54.32 L700.60,54.33 L701.10,54.35 L701.60,54.36 L702.10,54.37 L702.60,54.38 L703.10,54.40 L703.60,54.41 L704.10,54.43 L704.60,54.44 L705.10,54.46 L705.60,54.47 L706.10,54.49 L706.60,54.50 L707.10,54.52 L707.60,54.53 L708.10,54.55 L708.60,54.56 L709.10,54.58 L709.60,54.60 L710.10,54.61 L710.60,54.63 L711.10,54.65 L711.60,54.67 L712.10,54.69 L712.60,54.71 L713.10,54.74 L713.60,54.76 L714.10,54.79 L714.60,54.81 L715.10,54.84 L715.60,54.87 L716.10,54.90 L716.60,54.93 L717.10,54.96 L717.60,55.00 L718.10,55.03 L718.60,55.07 L719.10,55.10 L719.60,55.14 L720.10,55.17 L720.60,55.21 L721.10,55.25 L721.60,55.29 L722.10,55.33 L722.60,55.37 L723.10,55.41 L723.60,55.45 L724.10,55.50 L724.60,55.54 L725.10,55.58 L725.60,55.63 L726.10,55.67 L726.60,55.72 L727.10,55.77 L727.60,55.81 L728.10,55.86 L728.60,55.91 L729.10,55.95 L729.60,56.00 L730.10,56.05 L730.60,56.10" fill="none" stroke="#1a96b8" stroke-width="2.40" stroke-linejoin="round"/>
<path d="M467.80,221.70 L468.30,218.72 L468.80,216.19 L469.30,214.53 L469.80,213.26 L470.30,212.19 L470.80,211.29 L471.30,210.51 L471.80,209.83 L472.30,209.20 L472.80,208.60 L473.30,208.06 L473.80,207.57 L474.30,207.16 L474.80,206.84 L475.10,206.70" fill="none" stroke="#f07f2a" stroke-width="2.20" stroke-linejoin="round"/>
<path d="M492.50,156.20 L493.00,155.21 L493.50,154.27 L494.00,153.41 L494.50,152.68 L495.00,152.09 L495.50,151.66 L496.00,151.32 L496.50,151.03 L497.00,150.79 L497.50,150.56 L498.00,150.33 L498.50,150.07 L499.00,149.77 L499.50,149.41 L500.00,149.02 L500.50,148.60 L501.00,148.15 L501.50,147.68 L502.00,147.20 L502.50,146.70 L503.00,146.18 L503.50,145.63 L504.00,145.07 L504.50,144.47 L505.00,143.86 L505.50,143.23 L505.60,143.10" fill="none" stroke="#f07f2a" stroke-width="2.00" stroke-linejoin="round"/>
<path d="M461.90,310.20 L462.40,302.55 L462.90,295.07 L463.40,287.76 L463.90,280.62 L464.40,273.64 L464.90,266.68 L465.40,259.37 L465.90,252.33 L466.40,246.23 L466.90,241.78 L467.40,239.14 L467.90,235.58 L468.40,227.66 L468.90,222.46 L469.40,219.59 L469.90,217.61 L470.40,216.19 L470.90,215.01 L471.40,214.01 L471.90,213.16 L472.40,212.43 L472.90,211.78 L473.40,211.22 L473.90,210.74 L474.40,210.32 L474.90,209.91 L475.40,209.48 L475.90,209.00 L476.40,208.50 L476.90,208.03 L477.40,207.55 L477.90,207.02 L478.40,206.38 L478.90,205.59 L479.40,204.55 L479.90,202.48 L480.40,199.57 L480.90,196.60 L481.40,193.72 L481.90,190.68 L482.40,187.60 L482.90,184.60 L483.40,181.59 L483.90,178.66 L484.40,176.14 L484.90,173.88 L485.40,171.83 L485.90,170.11 L486.40,168.84 L486.90,167.82 L487.40,166.95 L487.90,166.18 L488.40,165.47 L488.90,164.78 L489.40,164.05 L489.90,163.29 L490.40,162.56 L490.90,161.85 L491.40,161.14 L491.90,160.44 L492.40,159.73 L492.90,159.00 L493.40,158.24 L493.90,157.39 L494.40,156.48 L494.90,155.59 L495.40,154.80 L495.90,154.19 L496.40,153.78 L496.90,153.46 L497.40,153.18 L497.90,152.94 L498.40,152.71 L498.90,152.48 L499.40,152.21 L499.90,151.90 L500.40,151.54 L500.90,151.14 L501.40,150.71 L501.90,150.26 L502.40,149.79 L502.90,149.30 L503.40,148.79 L503.90,148.24 L504.40,147.65 L504.90,147.05 L505.40,146.45 L505.90,145.86 L506.40,145.30 L506.90,144.77 L507.40,144.25 L507.90,143.73 L508.40,143.23 L508.90,142.74 L509.40,142.25 L509.90,141.78 L510.40,141.31 L510.90,140.85 L511.40,140.39 L511.90,139.94 L512.40,139.50 L512.90,139.07 L513.40,138.65 L513.90,138.24 L514.40,137.85 L514.90,137.48 L515.40,137.12 L515.90,136.78 L516.40,136.45 L516.90,136.12 L517.40,135.80 L517.90,135.49 L518.40,135.18 L518.90,134.88 L519.40,134.57 L519.90,134.26 L520.40,133.95 L520.90,133.64 L521.40,133.32 L521.90,133.01 L522.40,132.70 L522.90,132.40 L523.40,132.09 L523.90,131.78 L524.40,131.48 L524.90,131.18 L525.40,130.88 L525.90,130.58 L526.40,130.28 L526.90,129.99 L527.40,129.69 L527.90,129.41 L528.40,129.12 L528.90,128.83 L529.40,128.55 L529.90,128.27 L530.40,127.99 L530.90,127.72 L531.40,127.44 L531.90,127.17 L532.40,126.90 L532.90,126.63 L533.40,126.36 L533.90,126.09 L534.40,125.83 L534.90,125.57 L535.40,125.31 L535.90,125.05 L536.40,124.79 L536.90,124.53 L537.40,124.28 L537.90,124.03 L538.40,123.78 L538.90,123.53 L539.40,123.28 L539.90,123.03 L540.40,122.79 L540.90,122.55 L541.40,122.30 L541.90,122.06 L542.40,121.83 L542.90,121.59 L543.40,121.35 L543.90,121.12 L544.40,120.89 L544.90,120.66 L545.40,120.43 L545.90,120.20 L546.40,119.97 L546.90,119.75 L547.40,119.52 L547.90,119.30 L548.40,119.08 L548.90,118.86 L549.40,118.64 L549.90,118.42 L550.40,118.21 L550.90,117.99 L551.40,117.78 L551.90,117.57 L552.40,117.36 L552.90,117.15 L553.40,116.94 L553.90,116.73 L554.40,116.53 L554.90,116.32 L555.40,116.12 L555.90,115.92 L556.40,115.72 L556.90,115.52 L557.40,115.32 L557.90,115.12 L558.40,114.92 L558.90,114.73 L559.40,114.54 L559.90,114.34 L560.40,114.15 L560.90,113.96 L561.40,113.77 L561.90,113.58 L562.40,113.39 L562.90,113.21 L563.40,113.02 L563.90,112.84 L564.40,112.66 L564.90,112.47 L565.40,112.29 L565.90,112.11 L566.40,111.93 L566.90,111.76 L567.40,111.58 L567.90,111.40 L568.40,111.23 L568.90,111.05 L569.40,110.88 L569.90,110.71 L570.40,110.54 L570.90,110.37 L571.40,110.20 L571.90,110.03 L572.40,109.86 L572.90,109.70 L573.40,109.53 L573.90,109.37 L574.40,109.20 L574.90,109.04 L575.40,108.88 L575.90,108.72 L576.40,108.56 L576.90,108.40 L577.40,108.24 L577.90,108.08 L578.40,107.92 L578.90,107.77 L579.40,107.61 L579.90,107.46 L580.40,107.31 L580.90,107.15 L581.40,107.00 L581.90,106.85 L582.40,106.70 L582.90,106.55 L583.40,106.40 L583.90,106.25 L584.40,106.11 L584.90,105.96 L585.40,105.81 L585.90,105.67 L586.40,105.53 L586.90,105.38 L587.40,105.24 L587.90,105.10 L588.40,104.96 L588.90,104.82 L589.40,104.68 L589.90,104.54 L590.40,104.40 L590.90,104.26 L591.40,104.13 L591.90,103.99 L592.40,103.86 L592.90,103.72 L593.40,103.59 L593.90,103.45 L594.40,103.32 L594.90,103.19 L595.40,103.06 L595.90,102.93 L596.40,102.80 L596.90,102.67 L597.40,102.54 L597.90,102.41 L598.40,102.29 L598.90,102.16 L599.40,102.03 L599.90,101.91 L600.40,101.78 L600.90,101.66 L601.40,101.54 L601.90,101.41 L602.40,101.29 L602.90,101.17 L603.40,101.05 L603.90,100.93 L604.40,100.81 L604.90,100.69 L605.40,100.57 L605.90,100.45 L606.40,100.33 L606.90,100.22 L607.40,100.10 L607.90,99.99 L608.40,99.87 L608.90,99.76 L609.40,99.64 L609.90,99.53 L610.40,99.42 L610.90,99.30 L611.40,99.19 L611.90,99.08 L612.40,98.97 L612.90,98.86 L613.40,98.75 L613.90,98.64 L614.40,98.53 L614.90,98.43 L615.40,98.32 L615.90,98.21 L616.40,98.10 L616.90,98.00 L617.40,97.89 L617.90,97.79 L618.40,97.68 L618.90,97.58 L619.40,97.48 L619.90,97.37 L620.40,97.27 L620.90,97.17 L621.40,97.07 L621.90,96.97 L622.40,96.87 L622.90,96.77 L623.40,96.67 L623.90,96.57 L624.40,96.47 L624.90,96.37 L625.40,96.27 L625.90,96.18 L626.40,96.08 L626.90,95.98 L627.40,95.89 L627.90,95.79 L628.40,95.70 L628.90,95.60 L629.40,95.51 L629.90,95.42 L630.40,95.32 L630.90,95.23 L631.40,95.14 L631.90,95.05 L632.40,94.95 L632.90,94.86 L633.40,94.77 L633.90,94.68 L634.40,94.59 L634.90,94.50 L635.40,94.42 L635.90,94.33 L636.40,94.24 L636.90,94.15 L637.40,94.06 L637.90,93.98 L638.40,93.89 L638.90,93.81 L639.40,93.72 L639.90,93.64 L640.40,93.55 L640.90,93.47 L641.40,93.38 L641.90,93.30 L642.40,93.22 L642.90,93.13 L643.40,93.05 L643.90,92.97 L644.40,92.89 L644.90,92.81 L645.40,92.72 L645.90,92.64 L646.40,92.56 L646.90,92.48 L647.40,92.40 L647.90,92.33 L648.40,92.25 L648.90,92.17 L649.40,92.09 L649.90,92.01 L650.40,91.94 L650.90,91.86 L651.40,91.78 L651.90,91.71 L652.40,91.63 L652.90,91.55 L653.40,91.48 L653.90,91.40 L654.40,91.33 L654.90,91.26 L655.40,91.18 L655.90,91.11 L656.40,91.04 L656.90,90.96 L657.40,90.89 L657.90,90.82 L658.40,90.75 L658.90,90.68 L659.40,90.60 L659.90,90.53 L660.40,90.46 L660.90,90.39 L661.40,90.32 L661.90,90.25 L662.40,90.18 L662.90,90.12 L663.40,90.05 L663.90,89.98 L664.40,89.91 L664.90,89.84 L665.40,89.78 L665.90,89.71 L666.40,89.64 L666.90,89.58 L667.40,89.51 L667.90,89.44 L668.40,89.38 L668.90,89.31 L669.40,89.25 L669.90,89.18 L670.40,89.12 L670.90,89.05 L671.40,88.99 L671.90,88.93 L672.40,88.86 L672.90,88.80 L673.40,88.74 L673.90,88.68 L674.40,88.61 L674.90,88.55 L675.40,88.49 L675.90,88.43 L676.40,88.37 L676.90,88.31 L677.40,88.25 L677.90,88.19 L678.40,88.13 L678.90,88.07 L679.40,88.01 L679.90,87.95 L680.40,87.89 L680.90,87.83 L681.40,87.77 L681.90,87.72 L682.40,87.66 L682.90,87.60 L683.40,87.54 L683.90,87.49 L684.40,87.43 L684.90,87.37 L685.40,87.32 L685.90,87.26 L686.40,87.21 L686.90,87.15 L687.40,87.10 L687.90,87.04 L688.40,86.99 L688.90,86.93 L689.40,86.88 L689.90,86.82 L690.40,86.77 L690.90,86.72 L691.40,86.66 L691.90,86.61 L692.40,86.56 L692.90,86.51 L693.40,86.45 L693.90,86.40 L694.40,86.35 L694.90,86.30 L695.40,86.25 L695.90,86.20 L696.40,86.14 L696.90,86.09 L697.40,86.04 L697.90,85.99 L698.40,85.94 L698.90,85.89 L699.40,85.84 L699.90,85.80 L700.40,85.75 L700.90,85.70 L701.40,85.65 L701.90,85.60 L702.40,85.55 L702.90,85.50 L703.40,85.46 L703.90,85.41 L704.40,85.36 L704.90,85.32 L705.40,85.27 L705.90,85.22 L706.40,85.18 L706.90,85.13 L707.40,85.08 L707.90,85.04 L708.40,84.99 L708.90,84.95 L709.40,84.90 L709.90,84.86 L710.40,84.81 L710.90,84.77 L711.40,84.72 L711.90,84.68 L712.40,84.64 L712.90,84.59 L713.40,84.55 L713.90,84.50 L714.40,84.46 L714.90,84.42 L715.40,84.38 L715.90,84.33 L716.40,84.29 L716.90,84.25 L717.40,84.21 L717.90,84.17 L718.40,84.12 L718.90,84.08 L719.40,84.04 L719.90,84.00 L720.40,83.96 L720.90,83.92 L721.40,83.88 L721.90,83.84 L722.40,83.80 L722.90,83.76 L723.40,83.72 L723.90,83.68 L724.40,83.64 L724.90,83.60 L725.40,83.56 L725.90,83.52 L726.40,83.49 L726.90,83.45 L727.40,83.41 L727.90,83.37 L728.40,83.33 L728.90,83.29 L729.40,83.26 L729.90,83.22 L730.40,83.18 L730.90,83.15" fill="none" stroke="#7e9ddc" stroke-width="2.40" stroke-linejoin="round"/>
<path d="M461.60,308.60 L462.10,300.95 L462.60,293.47 L463.10,286.16 L463.60,279.02 L464.10,272.04 L464.60,265.08 L465.10,257.77 L465.60,250.73 L466.10,244.63 L466.60,240.18 L467.10,237.54 L467.60,233.98 L468.10,226.06 L468.60,220.86 L469.10,217.99 L469.60,216.01 L470.10,214.59 L470.60,213.41 L471.10,212.41 L471.60,211.56 L472.10,210.83 L472.60,210.18 L473.10,209.62 L473.60,209.14 L474.10,208.72 L474.60,208.31 L475.10,207.88 L475.60,207.40 L476.10,206.90 L476.60,206.43 L477.10,205.95 L477.60,205.42 L478.10,204.78 L478.60,203.99 L479.10,202.95 L479.60,200.88 L480.10,197.97 L480.60,195.00 L481.10,192.12 L481.60,189.08 L482.10,186.00 L482.60,183.00 L483.10,179.99 L483.60,177.06 L484.10,174.54 L484.60,172.28 L485.10,170.23 L485.60,168.51 L486.10,167.24 L486.60,166.22 L487.10,165.35 L487.60,164.58 L488.10,163.87 L488.60,163.18 L489.10,162.45 L489.60,161.69 L490.10,160.96 L490.60,160.25 L491.10,159.54 L491.60,158.84 L492.10,158.13 L492.60,157.40 L493.10,156.64 L493.60,155.79 L494.10,154.88 L494.60,153.99 L495.10,153.20 L495.60,152.59 L496.10,152.18 L496.60,151.86 L497.10,151.58 L497.60,151.34 L498.10,151.11 L498.60,150.88 L499.10,150.61 L499.60,150.30 L500.10,149.94 L500.60,149.54 L501.10,149.11 L501.60,148.66 L502.10,148.19 L502.60,147.70 L503.10,147.19 L503.60,146.64 L504.10,146.05 L504.60,145.45 L505.10,144.85 L505.60,144.26 L506.10,143.70 L506.60,143.17 L507.10,142.65 L507.60,142.13 L508.10,141.63 L508.60,141.14 L509.10,140.65 L509.60,140.18 L510.10,139.71 L510.60,139.25 L511.10,138.79 L511.60,138.34 L512.10,137.90 L512.60,137.47 L513.10,137.05 L513.60,136.64 L514.10,136.25 L514.60,135.88 L515.10,135.52 L515.60,135.18 L516.10,134.85 L516.60,134.52 L517.10,134.20 L517.60,133.89 L518.10,133.58 L518.60,133.28 L519.10,132.97 L519.60,132.66 L520.10,132.35 L520.60,132.04 L521.10,131.72 L521.60,131.41 L522.10,131.10 L522.60,130.80 L523.10,130.49 L523.60,130.18 L524.10,129.88 L524.60,129.58 L525.10,129.28 L525.60,128.98 L526.10,128.68 L526.60,128.39 L527.10,128.09 L527.60,127.81 L528.10,127.52 L528.60,127.23 L529.10,126.95 L529.60,126.67 L530.10,126.39 L530.60,126.12 L531.10,125.84 L531.60,125.57 L532.10,125.30 L532.60,125.03 L533.10,124.76 L533.60,124.49 L534.10,124.23 L534.60,123.97 L535.10,123.71 L535.60,123.45 L536.10,123.19 L536.60,122.93 L537.10,122.68 L537.60,122.43 L538.10,122.18 L538.60,121.93 L539.10,121.68 L539.60,121.43 L540.10,121.19 L540.60,120.95 L541.10,120.70 L541.60,120.46 L542.10,120.23 L542.60,119.99 L543.10,119.75 L543.60,119.52 L544.10,119.29 L544.60,119.06 L545.10,118.83 L545.60,118.60 L546.10,118.37 L546.60,118.15 L547.10,117.92 L547.60,117.70 L548.10,117.48 L548.60,117.26 L549.10,117.04 L549.60,116.82 L550.10,116.61 L550.60,116.39 L551.10,116.18 L551.60,115.97 L552.10,115.76 L552.60,115.55 L553.10,115.34 L553.60,115.13 L554.10,114.93 L554.60,114.72 L555.10,114.52 L555.60,114.32 L556.10,114.12 L556.60,113.92 L557.10,113.72 L557.60,113.52 L558.10,113.32 L558.60,113.13 L559.10,112.94 L559.60,112.74 L560.10,112.55 L560.60,112.36 L561.10,112.17 L561.60,111.98 L562.10,111.79 L562.60,111.61 L563.10,111.42 L563.60,111.24 L564.10,111.06 L564.60,110.87 L565.10,110.69 L565.60,110.51 L566.10,110.33 L566.60,110.16 L567.10,109.98 L567.60,109.80 L568.10,109.63 L568.60,109.45 L569.10,109.28 L569.60,109.11 L570.10,108.94 L570.60,108.77 L571.10,108.60 L571.60,108.43 L572.10,108.26 L572.60,108.10 L573.10,107.93 L573.60,107.77 L574.10,107.60 L574.60,107.44 L575.10,107.28 L575.60,107.12 L576.10,106.96 L576.60,106.80 L577.10,106.64 L577.60,106.48 L578.10,106.32 L578.60,106.17 L579.10,106.01 L579.60,105.86 L580.10,105.71 L580.60,105.55 L581.10,105.40 L581.60,105.25 L582.10,105.10 L582.60,104.95 L583.10,104.80 L583.60,104.65 L584.10,104.51 L584.60,104.36 L585.10,104.21 L585.60,104.07 L586.10,103.93 L586.60,103.78 L587.10,103.64 L587.60,103.50 L588.10,103.36 L588.60,103.22 L589.10,103.08 L589.60,102.94 L590.10,102.80 L590.60,102.66 L591.10,102.53 L591.60,102.39 L592.10,102.26 L592.60,102.12 L593.10,101.99 L593.60,101.85 L594.10,101.72 L594.60,101.59 L595.10,101.46 L595.60,101.33 L596.10,101.20 L596.60,101.07 L597.10,100.94 L597.60,100.81 L598.10,100.69 L598.60,100.56 L599.10,100.43 L599.60,100.31 L600.10,100.18 L600.60,100.06 L601.10,99.94 L601.60,99.81 L602.10,99.69 L602.60,99.57 L603.10,99.45 L603.60,99.33 L604.10,99.21 L604.60,99.09 L605.10,98.97 L605.60,98.85 L606.10,98.73 L606.60,98.62 L607.10,98.50 L607.60,98.39 L608.10,98.27 L608.60,98.16 L609.10,98.04 L609.60,97.93 L610.10,97.82 L610.60,97.70 L611.10,97.59 L611.60,97.48 L612.10,97.37 L612.60,97.26 L613.10,97.15 L613.60,97.04 L614.10,96.93 L614.60,96.83 L615.10,96.72 L615.60,96.61 L616.10,96.50 L616.60,96.40 L617.10,96.29 L617.60,96.19 L618.10,96.08 L618.60,95.98 L619.10,95.88 L619.60,95.77 L620.10,95.67 L620.60,95.57 L621.10,95.47 L621.60,95.37 L622.10,95.27 L622.60,95.17 L623.10,95.07 L623.60,94.97 L624.10,94.87 L624.60,94.77 L625.10,94.67 L625.60,94.58 L626.10,94.48 L626.60,94.38 L627.10,94.29 L627.60,94.19 L628.10,94.10 L628.60,94.00 L629.10,93.91 L629.60,93.82 L630.10,93.72 L630.60,93.63 L631.10,93.54 L631.60,93.45 L632.10,93.35 L632.60,93.26 L633.10,93.17 L633.60,93.08 L634.10,92.99 L634.60,92.90 L635.10,92.82 L635.60,92.73 L636.10,92.64 L636.60,92.55 L637.10,92.46 L637.60,92.38 L638.10,92.29 L638.60,92.21 L639.10,92.12 L639.60,92.04 L640.10,91.95 L640.60,91.87 L641.10,91.78 L641.60,91.70 L642.10,91.62 L642.60,91.53 L643.10,91.45 L643.60,91.37 L644.10,91.29 L644.60,91.21 L645.10,91.12 L645.60,91.04 L646.10,90.96 L646.60,90.88 L647.10,90.80 L647.60,90.73 L648.10,90.65 L648.60,90.57 L649.10,90.49 L649.60,90.41 L650.10,90.34 L650.60,90.26 L651.10,90.18 L651.60,90.11 L652.10,90.03 L652.60,89.95 L653.10,89.88 L653.60,89.80 L654.10,89.73 L654.60,89.66 L655.10,89.58 L655.60,89.51 L656.10,89.44 L656.60,89.36 L657.10,89.29 L657.60,89.22 L658.10,89.15 L658.60,89.08 L659.10,89.00 L659.60,88.93 L660.10,88.86 L660.60,88.79 L661.10,88.72 L661.60,88.65 L662.10,88.58 L662.60,88.52 L663.10,88.45 L663.60,88.38 L664.10,88.31 L664.60,88.24 L665.10,88.18 L665.60,88.11 L666.10,88.04 L666.60,87.98 L667.10,87.91 L667.60,87.84 L668.10,87.78 L668.60,87.71 L669.10,87.65 L669.60,87.58 L670.10,87.52 L670.60,87.45 L671.10,87.39 L671.60,87.33 L672.10,87.26 L672.60,87.20 L673.10,87.14 L673.60,87.08 L674.10,87.01 L674.60,86.95 L675.10,86.89 L675.60,86.83 L676.10,86.77 L676.60,86.71 L677.10,86.65 L677.60,86.59 L678.10,86.53 L678.60,86.47 L679.10,86.41 L679.60,86.35 L680.10,86.29 L680.60,86.23 L681.10,86.17 L681.60,86.12 L682.10,86.06 L682.60,86.00 L683.10,85.94 L683.60,85.89 L684.10,85.83 L684.60,85.77 L685.10,85.72 L685.60,85.66 L686.10,85.61 L686.60,85.55 L687.10,85.50 L687.60,85.44 L688.10,85.39 L688.60,85.33 L689.10,85.28 L689.60,85.22 L690.10,85.17 L690.60,85.12 L691.10,85.06 L691.60,85.01 L692.10,84.96 L692.60,84.91 L693.10,84.85 L693.60,84.80 L694.10,84.75 L694.60,84.70 L695.10,84.65 L695.60,84.60 L696.10,84.54 L696.60,84.49 L697.10,84.44 L697.60,84.39 L698.10,84.34 L698.60,84.29 L699.10,84.24 L699.60,84.20 L700.10,84.15 L700.60,84.10 L701.10,84.05 L701.60,84.00 L702.10,83.95 L702.60,83.90 L703.10,83.86 L703.60,83.81 L704.10,83.76 L704.60,83.72 L705.10,83.67 L705.60,83.62 L706.10,83.58 L706.60,83.53 L707.10,83.48 L707.60,83.44 L708.10,83.39 L708.60,83.35 L709.10,83.30 L709.60,83.26 L710.10,83.21 L710.60,83.17 L711.10,83.12 L711.60,83.08 L712.10,83.04 L712.60,82.99 L713.10,82.95 L713.60,82.90 L714.10,82.86 L714.60,82.82 L715.10,82.78 L715.60,82.73 L716.10,82.69 L716.60,82.65 L717.10,82.61 L717.60,82.57 L718.10,82.52 L718.60,82.48 L719.10,82.44 L719.60,82.40 L720.10,82.36 L720.60,82.32 L721.10,82.28 L721.60,82.24 L722.10,82.20 L722.60,82.16 L723.10,82.12 L723.60,82.08 L724.10,82.04 L724.60,82.00 L725.10,81.96 L725.60,81.92 L726.10,81.89 L726.60,81.85 L727.10,81.81 L727.60,81.77 L728.10,81.73 L728.60,81.69 L729.10,81.66 L729.60,81.62 L730.10,81.58 L730.60,81.55" fill="none" stroke="#e8857e" stroke-width="2.40" stroke-linejoin="round"/>
<path d="M485.60,307.91 L486.10,306.16 L486.60,304.45 L487.10,302.76 L487.60,301.12 L488.10,299.50 L488.60,297.92 L489.10,296.37 L489.60,294.86 L490.10,293.38 L490.60,291.93 L491.10,290.51 L491.60,289.13 L492.10,287.78 L492.60,286.46 L493.10,285.17 L493.60,283.91 L494.10,282.69 L494.60,281.49 L495.10,280.33 L495.60,279.19 L496.10,278.08 L496.60,276.99 L497.10,275.92 L497.60,274.87 L498.10,273.83 L498.60,272.81 L499.10,271.80 L499.60,270.79 L500.10,269.80 L500.60,268.81 L501.10,267.82 L501.60,266.83 L502.10,265.84 L502.60,264.84 L503.10,263.85 L503.60,262.86 L504.10,261.86 L504.60,260.87 L505.10,259.88 L505.60,258.90 L506.10,257.91 L506.60,256.94 L507.10,255.96 L507.60,255.00 L508.10,254.04 L508.60,253.09 L509.10,252.14 L509.60,251.21 L510.10,250.29 L510.60,249.37 L511.10,248.47 L511.60,247.58 L512.10,246.71 L512.60,245.85 L513.10,245.00 L513.60,244.16 L514.10,243.34 L514.60,242.52 L515.10,241.73 L515.60,240.94 L516.10,240.16 L516.60,239.40 L517.10,238.65 L517.60,237.91 L518.10,237.18 L518.60,236.46 L519.10,235.75 L519.60,235.06 L520.10,234.37 L520.60,233.69 L521.10,233.02 L521.60,232.37 L522.10,231.72 L522.60,231.08 L523.10,230.45 L523.60,229.83 L524.10,229.21 L524.60,228.61 L525.10,228.01 L525.60,227.42 L526.10,226.84 L526.60,226.27 L527.10,225.70 L527.60,225.14 L528.10,224.59 L528.60,224.04 L529.10,223.50 L529.60,222.96 L530.10,222.44 L530.60,221.91 L531.10,221.40 L531.60,220.88 L532.10,220.38 L532.60,219.88 L533.10,219.38 L533.60,218.89 L534.10,218.40 L534.60,217.91 L535.10,217.43 L535.60,216.95 L536.10,216.48 L536.60,216.01 L537.10,215.54 L537.60,215.08 L538.10,214.62 L538.60,214.16 L539.10,213.70 L539.60,213.25 L540.10,212.80 L540.60,212.35 L541.10,211.91 L541.60,211.47 L542.10,211.03 L542.60,210.60 L543.10,210.16 L543.60,209.74 L544.10,209.31 L544.60,208.89 L545.10,208.46 L545.60,208.05 L546.10,207.63 L546.60,207.22 L547.10,206.81 L547.60,206.40 L548.10,206.00 L548.60,205.60 L549.10,205.20 L549.60,204.80 L550.10,204.41 L550.60,204.02 L551.10,203.63 L551.60,203.24 L552.10,202.86 L552.60,202.48 L553.10,202.10 L553.60,201.73 L554.10,201.35 L554.60,200.98 L555.10,200.62 L555.60,200.25 L556.10,199.89 L556.60,199.53 L557.10,199.17 L557.60,198.81 L558.10,198.46 L558.60,198.11 L559.10,197.76 L559.60,197.41 L560.10,197.06 L560.60,196.72 L561.10,196.38 L561.60,196.04 L562.10,195.71 L562.60,195.38 L563.10,195.04 L563.60,194.71 L564.10,194.39 L564.60,194.06 L565.10,193.74 L565.60,193.42 L566.10,193.10 L566.60,192.78 L567.10,192.47 L567.60,192.16 L568.10,191.85 L568.60,191.54 L569.10,191.23 L569.60,190.93 L570.10,190.62 L570.60,190.32 L571.10,190.02 L571.60,189.73 L572.10,189.43 L572.60,189.14 L573.10,188.85 L573.60,188.56 L574.10,188.27 L574.60,187.98 L575.10,187.70 L575.60,187.42 L576.10,187.14 L576.60,186.86 L577.10,186.58 L577.60,186.30 L578.10,186.03 L578.60,185.76 L579.10,185.48 L579.60,185.22 L580.10,184.95 L580.60,184.68 L581.10,184.42 L581.60,184.15 L582.10,183.89 L582.60,183.63 L583.10,183.37 L583.60,183.12 L584.10,182.86 L584.60,182.60 L585.10,182.35 L585.60,182.10 L586.10,181.85 L586.60,181.60 L587.10,181.35 L587.60,181.11 L588.10,180.86 L588.60,180.62 L589.10,180.37 L589.60,180.13 L590.10,179.89 L590.60,179.65 L591.10,179.42 L591.60,179.18 L592.10,178.94 L592.60,178.71 L593.10,178.48 L593.60,178.25 L594.10,178.01 L594.60,177.78 L595.10,177.56 L595.60,177.33 L596.10,177.10 L596.60,176.88 L597.10,176.65 L597.60,176.43 L598.10,176.20 L598.60,175.98 L599.10,175.76 L599.60,175.54 L600.10,175.32 L600.60,175.10 L601.10,174.88 L601.60,174.67 L602.10,174.45 L602.60,174.24 L603.10,174.02 L603.60,173.81 L604.10,173.59 L604.60,173.38 L605.10,173.17 L605.60,172.96 L606.10,172.75 L606.60,172.54 L607.10,172.33 L607.60,172.12 L608.10,171.91 L608.60,171.71 L609.10,171.50 L609.60,171.29 L610.10,171.09 L610.60,170.88 L611.10,170.68 L611.60,170.47 L612.10,170.27 L612.60,170.07 L613.10,169.86 L613.60,169.66 L614.10,169.46 L614.60,169.26 L615.10,169.06 L615.60,168.86 L616.10,168.66 L616.60,168.46 L617.10,168.26 L617.60,168.06 L618.10,167.86 L618.60,167.67 L619.10,167.47 L619.60,167.27 L620.10,167.08 L620.60,166.88 L621.10,166.69 L621.60,166.50 L622.10,166.30 L622.60,166.11 L623.10,165.92 L623.60,165.72 L624.10,165.53 L624.60,165.34 L625.10,165.15 L625.60,164.96 L626.10,164.77 L626.60,164.58 L627.10,164.39 L627.60,164.21 L628.10,164.02 L628.60,163.83 L629.10,163.65 L629.60,163.46 L630.10,163.28 L630.60,163.09 L631.10,162.91 L631.60,162.72 L632.10,162.54 L632.60,162.36 L633.10,162.18 L633.60,162.00 L634.10,161.82 L634.60,161.63 L635.10,161.46 L635.60,161.28 L636.10,161.10 L636.60,160.92 L637.10,160.74 L637.60,160.57 L638.10,160.39 L638.60,160.21 L639.10,160.04 L639.60,159.86 L640.10,159.69 L640.60,159.52 L641.10,159.34 L641.60,159.17 L642.10,159.00 L642.60,158.83 L643.10,158.66 L643.60,158.49 L644.10,158.32 L644.60,158.15 L645.10,157.98 L645.60,157.82 L646.10,157.65 L646.60,157.48 L647.10,157.32 L647.60,157.15 L648.10,156.99 L648.60,156.82 L649.10,156.66 L649.60,156.50 L650.10,156.34 L650.60,156.17 L651.10,156.01 L651.60,155.85 L652.10,155.69 L652.60,155.53 L653.10,155.37 L653.60,155.22 L654.10,155.06 L654.60,154.90 L655.10,154.75 L655.60,154.59 L656.10,154.44 L656.60,154.28 L657.10,154.13 L657.60,153.98 L658.10,153.82 L658.60,153.67 L659.10,153.52 L659.60,153.37 L660.10,153.22 L660.60,153.07 L661.10,152.92 L661.60,152.77 L662.10,152.63 L662.60,152.48 L663.10,152.33 L663.60,152.19 L664.10,152.04 L664.60,151.90 L665.10,151.76 L665.60,151.61 L666.10,151.47 L666.60,151.33 L667.10,151.19 L667.60,151.05 L668.10,150.91 L668.60,150.77 L669.10,150.63 L669.60,150.49 L670.10,150.36 L670.60,150.22 L671.10,150.09 L671.60,149.95 L672.10,149.82 L672.60,149.68 L673.10,149.55 L673.60,149.42 L674.10,149.29 L674.60,149.16 L675.10,149.03 L675.60,148.90 L676.10,148.77 L676.60,148.64 L677.10,148.51 L677.60,148.38 L678.10,148.26 L678.60,148.13 L679.10,148.01 L679.60,147.88 L680.10,147.76 L680.60,147.64 L681.10,147.51 L681.60,147.39 L682.10,147.27 L682.60,147.15 L683.10,147.03 L683.60,146.91 L684.10,146.80 L684.60,146.68 L685.10,146.56 L685.60,146.45 L686.10,146.33 L686.60,146.22 L687.10,146.10 L687.60,145.99 L688.10,145.88 L688.60,145.77 L689.10,145.66 L689.60,145.55 L690.10,145.44 L690.60,145.33 L691.10,145.22 L691.60,145.11 L692.10,145.01 L692.60,144.90 L693.10,144.80 L693.60,144.69 L694.10,144.59 L694.60,144.48 L695.10,144.38 L695.60,144.28 L696.10,144.18 L696.60,144.08 L697.10,143.98 L697.60,143.88 L698.10,143.78 L698.60,143.69 L699.10,143.59 L699.60,143.50 L700.10,143.40 L700.60,143.31 L701.10,143.21 L701.60,143.12 L702.10,143.03 L702.60,142.94 L703.10,142.85 L703.60,142.76 L704.10,142.67 L704.60,142.58 L705.10,142.49 L705.60,142.41 L706.10,142.32 L706.60,142.24 L707.10,142.15 L707.60,142.07 L708.10,141.99 L708.60,141.90 L709.10,141.82 L709.60,141.74 L710.10,141.66 L710.60,141.58 L711.10,141.51 L711.60,141.43 L712.10,141.35 L712.60,141.28 L713.10,141.20 L713.60,141.13 L714.10,141.05 L714.60,140.98 L715.10,140.91 L715.60,140.84 L716.10,140.77 L716.60,140.70 L717.10,140.63 L717.60,140.56 L718.10,140.50 L718.60,140.43 L719.10,140.36 L719.60,140.30 L720.10,140.24 L720.60,140.17 L721.10,140.11 L721.60,140.05 L722.10,139.99 L722.60,139.93 L723.10,139.87 L723.60,139.81 L724.10,139.75 L724.60,139.70 L725.10,139.64 L725.60,139.59 L726.10,139.53 L726.60,139.48 L727.10,139.43 L727.60,139.37 L728.10,139.32 L728.60,139.27 L729.10,139.22 L729.60,139.18" fill="none" stroke="#9fcb7d" stroke-width="2.60" stroke-linejoin="round"/>
<path d="M485.60,307.87 L486.10,306.10 L486.60,304.38 L487.10,302.70 L487.60,301.06 L488.10,299.47 L488.60,297.91 L489.10,296.39 L489.60,294.91 L490.10,293.47 L490.60,292.06 L491.10,290.69 L491.60,289.35 L492.10,288.05 L492.60,286.77 L493.10,285.53 L493.60,284.32 L494.10,283.14 L494.60,281.99 L495.10,280.87 L495.60,279.77 L496.10,278.69 L496.60,277.64 L497.10,276.60 L497.60,275.58 L498.10,274.58 L498.60,273.60 L499.10,272.62 L499.60,271.65 L500.10,270.70 L500.60,269.74 L501.10,268.79 L501.60,267.85 L502.10,266.90 L502.60,265.96 L503.10,265.01 L503.60,264.07 L504.10,263.12 L504.60,262.18 L505.10,261.24 L505.60,260.31 L506.10,259.38 L506.60,258.45 L507.10,257.52 L507.60,256.61 L508.10,255.70 L508.60,254.79 L509.10,253.89 L509.60,253.01 L510.10,252.12 L510.60,251.25 L511.10,250.39 L511.60,249.54 L512.10,248.69 L512.60,247.86 L513.10,247.04 L513.60,246.24 L514.10,245.44 L514.60,244.65 L515.10,243.88 L515.60,243.11 L516.10,242.36 L516.60,241.61 L517.10,240.88 L517.60,240.15 L518.10,239.44 L518.60,238.73 L519.10,238.04 L519.60,237.35 L520.10,236.67 L520.60,236.00 L521.10,235.34 L521.60,234.69 L522.10,234.04 L522.60,233.41 L523.10,232.78 L523.60,232.16 L524.10,231.55 L524.60,230.94 L525.10,230.35 L525.60,229.76 L526.10,229.17 L526.60,228.59 L527.10,228.02 L527.60,227.46 L528.10,226.90 L528.60,226.35 L529.10,225.81 L529.60,225.27 L530.10,224.73 L530.60,224.20 L531.10,223.68 L531.60,223.16 L532.10,222.65 L532.60,222.14 L533.10,221.64 L533.60,221.14 L534.10,220.64 L534.60,220.15 L535.10,219.66 L535.60,219.18 L536.10,218.70 L536.60,218.22 L537.10,217.75 L537.60,217.28 L538.10,216.81 L538.60,216.35 L539.10,215.89 L539.60,215.43 L540.10,214.97 L540.60,214.52 L541.10,214.07 L541.60,213.63 L542.10,213.18 L542.60,212.74 L543.10,212.31 L543.60,211.87 L544.10,211.44 L544.60,211.01 L545.10,210.59 L545.60,210.16 L546.10,209.74 L546.60,209.33 L547.10,208.91 L547.60,208.50 L548.10,208.09 L548.60,207.69 L549.10,207.28 L549.60,206.88 L550.10,206.48 L550.60,206.09 L551.10,205.70 L551.60,205.31 L552.10,204.92 L552.60,204.54 L553.10,204.15 L553.60,203.77 L554.10,203.40 L554.60,203.02 L555.10,202.65 L555.60,202.28 L556.10,201.91 L556.60,201.55 L557.10,201.19 L557.60,200.83 L558.10,200.47 L558.60,200.11 L559.10,199.76 L559.60,199.41 L560.10,199.06 L560.60,198.72 L561.10,198.37 L561.60,198.03 L562.10,197.69 L562.60,197.36 L563.10,197.02 L563.60,196.69 L564.10,196.36 L564.60,196.03 L565.10,195.71 L565.60,195.38 L566.10,195.06 L566.60,194.74 L567.10,194.42 L567.60,194.11 L568.10,193.79 L568.60,193.48 L569.10,193.17 L569.60,192.87 L570.10,192.56 L570.60,192.26 L571.10,191.96 L571.60,191.66 L572.10,191.36 L572.60,191.06 L573.10,190.77 L573.60,190.48 L574.10,190.18 L574.60,189.90 L575.10,189.61 L575.60,189.32 L576.10,189.04 L576.60,188.76 L577.10,188.48 L577.60,188.20 L578.10,187.92 L578.60,187.65 L579.10,187.37 L579.60,187.10 L580.10,186.83 L580.60,186.56 L581.10,186.29 L581.60,186.03 L582.10,185.76 L582.60,185.50 L583.10,185.24 L583.60,184.98 L584.10,184.72 L584.60,184.47 L585.10,184.21 L585.60,183.96 L586.10,183.70 L586.60,183.45 L587.10,183.20 L587.60,182.95 L588.10,182.70 L588.60,182.46 L589.10,182.21 L589.60,181.97 L590.10,181.73 L590.60,181.49 L591.10,181.25 L591.60,181.01 L592.10,180.77 L592.60,180.53 L593.10,180.30 L593.60,180.06 L594.10,179.83 L594.60,179.59 L595.10,179.36 L595.60,179.13 L596.10,178.90 L596.60,178.67 L597.10,178.45 L597.60,178.22 L598.10,178.00 L598.60,177.77 L599.10,177.55 L599.60,177.32 L600.10,177.10 L600.60,176.88 L601.10,176.66 L601.60,176.44 L602.10,176.22 L602.60,176.00 L603.10,175.78 L603.60,175.57 L604.10,175.35 L604.60,175.14 L605.10,174.92 L605.60,174.71 L606.10,174.49 L606.60,174.28 L607.10,174.07 L607.60,173.86 L608.10,173.65 L608.60,173.44 L609.10,173.23 L609.60,173.02 L610.10,172.81 L610.60,172.60 L611.10,172.39 L611.60,172.18 L612.10,171.98 L612.60,171.77 L613.10,171.56 L613.60,171.36 L614.10,171.15 L614.60,170.95 L615.10,170.74 L615.60,170.54 L616.10,170.33 L616.60,170.13 L617.10,169.93 L617.60,169.72 L618.10,169.52 L618.60,169.32 L619.10,169.12 L619.60,168.92 L620.10,168.72 L620.60,168.52 L621.10,168.32 L621.60,168.12 L622.10,167.92 L622.60,167.73 L623.10,167.53 L623.60,167.33 L624.10,167.14 L624.60,166.94 L625.10,166.74 L625.60,166.55 L626.10,166.36 L626.60,166.16 L627.10,165.97 L627.60,165.77 L628.10,165.58 L628.60,165.39 L629.10,165.20 L629.60,165.01 L630.10,164.82 L630.60,164.63 L631.10,164.44 L631.60,164.25 L632.10,164.06 L632.60,163.87 L633.10,163.69 L633.60,163.50 L634.10,163.31 L634.60,163.13 L635.10,162.94 L635.60,162.76 L636.10,162.57 L636.60,162.39 L637.10,162.21 L637.60,162.02 L638.10,161.84 L638.60,161.66 L639.10,161.48 L639.60,161.30 L640.10,161.12 L640.60,160.94 L641.10,160.76 L641.60,160.58 L642.10,160.40 L642.60,160.23 L643.10,160.05 L643.60,159.87 L644.10,159.70 L644.60,159.52 L645.10,159.35 L645.60,159.17 L646.10,159.00 L646.60,158.83 L647.10,158.65 L647.60,158.48 L648.10,158.31 L648.60,158.14 L649.10,157.97 L649.60,157.80 L650.10,157.63 L650.60,157.46 L651.10,157.30 L651.60,157.13 L652.10,156.96 L652.60,156.80 L653.10,156.63 L653.60,156.47 L654.10,156.30 L654.60,156.14 L655.10,155.98 L655.60,155.81 L656.10,155.65 L656.60,155.49 L657.10,155.33 L657.60,155.17 L658.10,155.01 L658.60,154.85 L659.10,154.70 L659.60,154.54 L660.10,154.38 L660.60,154.22 L661.10,154.07 L661.60,153.91 L662.10,153.76 L662.60,153.61 L663.10,153.45 L663.60,153.30 L664.10,153.15 L664.60,153.00 L665.10,152.85 L665.60,152.70 L666.10,152.55 L666.60,152.40 L667.10,152.25 L667.60,152.10 L668.10,151.96 L668.60,151.81 L669.10,151.67 L669.60,151.52 L670.10,151.38 L670.60,151.23 L671.10,151.09 L671.60,150.95 L672.10,150.81 L672.60,150.67 L673.10,150.53 L673.60,150.39 L674.10,150.25 L674.60,150.11 L675.10,149.97 L675.60,149.83 L676.10,149.70 L676.60,149.56 L677.10,149.43 L677.60,149.29 L678.10,149.16 L678.60,149.03 L679.10,148.90 L679.60,148.77 L680.10,148.63 L680.60,148.50 L681.10,148.38 L681.60,148.25 L682.10,148.12 L682.60,147.99 L683.10,147.87 L683.60,147.74 L684.10,147.61 L684.60,147.49 L685.10,147.37 L685.60,147.24 L686.10,147.12 L686.60,147.00 L687.10,146.88 L687.60,146.76 L688.10,146.64 L688.60,146.52 L689.10,146.40 L689.60,146.29 L690.10,146.17 L690.60,146.05 L691.10,145.94 L691.60,145.83 L692.10,145.71 L692.60,145.60 L693.10,145.49 L693.60,145.38 L694.10,145.27 L694.60,145.16 L695.10,145.05 L695.60,144.94 L696.10,144.83 L696.60,144.73 L697.10,144.62 L697.60,144.51 L698.10,144.41 L698.60,144.31 L699.10,144.20 L699.60,144.10 L700.10,144.00 L700.60,143.90 L701.10,143.80 L701.60,143.70 L702.10,143.60 L702.60,143.50 L703.10,143.41 L703.60,143.31 L704.10,143.22 L704.60,143.12 L705.10,143.03 L705.60,142.94 L706.10,142.84 L706.60,142.75 L707.10,142.66 L707.60,142.57 L708.10,142.48 L708.60,142.40 L709.10,142.31 L709.60,142.22 L710.10,142.14 L710.60,142.05 L711.10,141.97 L711.60,141.89 L712.10,141.80 L712.60,141.72 L713.10,141.64 L713.60,141.56 L714.10,141.48 L714.60,141.40 L715.10,141.33 L715.60,141.25 L716.10,141.18 L716.60,141.10 L717.10,141.03 L717.60,140.95 L718.10,140.88 L718.60,140.81 L719.10,140.74 L719.60,140.67 L720.10,140.60 L720.60,140.53 L721.10,140.46 L721.60,140.40 L722.10,140.33 L722.60,140.27 L723.10,140.20 L723.60,140.14 L724.10,140.08 L724.60,140.02 L725.10,139.96 L725.60,139.90 L726.10,139.84 L726.60,139.78 L727.10,139.72 L727.60,139.67 L728.10,139.61 L728.60,139.56 L729.10,139.51 L729.60,139.45 L730.10,139.40 L730.20,139.39" fill="none" stroke="#a88dc8" stroke-width="2.50" stroke-linejoin="round"/>
<path d="M488.80,306.95 L489.30,305.64 L489.80,304.34 L490.30,303.06 L490.80,301.79 L491.30,300.53 L491.80,299.28 L492.30,298.04 L492.80,296.81 L493.30,295.59 L493.80,294.39 L494.30,293.20 L494.80,292.01 L495.30,290.84 L495.80,289.68 L496.30,288.53 L496.80,287.39 L497.30,286.26 L497.80,285.14 L498.30,284.03 L498.80,282.93 L499.30,281.84 L499.80,280.77 L500.30,279.70 L500.80,278.64 L501.30,277.59 L501.80,276.56 L502.30,275.53 L502.80,274.51 L503.30,273.50 L503.80,272.50 L504.30,271.52 L504.80,270.54 L505.30,269.57 L505.80,268.61 L506.30,267.65 L506.80,266.71 L507.30,265.78 L507.80,264.86 L508.30,263.94 L508.80,263.03 L509.30,262.14 L509.80,261.25 L510.30,260.37 L510.80,259.50 L511.30,258.64 L511.80,257.78 L512.30,256.94 L512.80,256.10 L513.30,255.27 L513.80,254.45 L514.30,253.64 L514.80,252.83 L515.30,252.04 L515.80,251.25 L516.30,250.47 L516.80,249.70 L517.30,248.93 L517.80,248.17 L518.30,247.42 L518.80,246.68 L519.30,245.95 L519.80,245.22 L520.30,244.50 L520.80,243.79 L521.30,243.08 L521.80,242.38 L522.30,241.69 L522.80,241.01 L523.30,240.33 L523.80,239.66 L524.30,238.99 L524.80,238.34 L525.30,237.69 L525.80,237.04 L526.30,236.40 L526.80,235.77 L527.30,235.15 L527.80,234.53 L528.30,233.91 L528.80,233.31 L529.30,232.71 L529.80,232.11 L530.30,231.52 L530.80,230.94 L531.30,230.36 L531.80,229.79 L532.30,229.22 L532.80,228.66 L533.30,228.11 L533.80,227.56 L534.30,227.01 L534.80,226.47 L535.30,225.94 L535.80,225.41 L536.30,224.89 L536.80,224.37 L537.30,223.85 L537.80,223.34 L538.30,222.84 L538.80,222.34 L539.30,221.84 L539.80,221.35 L540.30,220.87 L540.80,220.38 L541.30,219.91 L541.80,219.43 L542.30,218.96 L542.80,218.50 L543.30,218.04 L543.80,217.58 L544.30,217.13 L544.80,216.68 L545.30,216.23 L545.80,215.79 L546.30,215.35 L546.80,214.92 L547.30,214.48 L547.80,214.06 L548.30,213.63 L548.80,213.21 L549.30,212.79 L549.80,212.38 L550.30,211.96 L550.80,211.55 L551.30,211.15 L551.80,210.74 L552.30,210.34 L552.80,209.94 L553.30,209.55 L553.80,209.16 L554.30,208.76 L554.80,208.38 L555.30,207.99 L555.80,207.61 L556.30,207.22 L556.80,206.85 L557.30,206.47 L557.80,206.09 L558.30,205.72 L558.80,205.35 L559.30,204.98 L559.80,204.61 L560.30,204.24 L560.80,203.88 L561.30,203.51 L561.80,203.15 L562.30,202.79 L562.80,202.43 L563.30,202.07 L563.80,201.71 L564.30,201.36 L564.80,201.01 L565.30,200.65 L565.80,200.30 L566.30,199.95 L566.80,199.60 L567.30,199.26 L567.80,198.91 L568.30,198.57 L568.80,198.22 L569.30,197.88 L569.80,197.54 L570.30,197.20 L570.80,196.86 L571.30,196.53 L571.80,196.19 L572.30,195.86 L572.80,195.53 L573.30,195.20 L573.80,194.87 L574.30,194.54 L574.80,194.21 L575.30,193.89 L575.80,193.56 L576.30,193.24 L576.80,192.92 L577.30,192.60 L577.80,192.28 L578.30,191.96 L578.80,191.64 L579.30,191.33 L579.80,191.02 L580.30,190.70 L580.80,190.39 L581.30,190.08 L581.80,189.78 L582.30,189.47 L582.80,189.16 L583.30,188.86 L583.80,188.56 L584.30,188.26 L584.80,187.96 L585.30,187.66 L585.80,187.36 L586.30,187.06 L586.80,186.77 L587.30,186.47 L587.80,186.18 L588.30,185.89 L588.80,185.60 L589.30,185.31 L589.80,185.03 L590.30,184.74 L590.80,184.46 L591.30,184.17 L591.80,183.89 L592.30,183.61 L592.80,183.33 L593.30,183.05 L593.80,182.78 L594.30,182.50 L594.80,182.23 L595.30,181.95 L595.80,181.68 L596.30,181.41 L596.80,181.14 L597.30,180.87 L597.80,180.61 L598.30,180.34 L598.80,180.08 L599.30,179.82 L599.80,179.56 L600.30,179.29 L600.80,179.04 L601.30,178.78 L601.80,178.52 L602.30,178.27 L602.80,178.01 L603.30,177.76 L603.80,177.51 L604.30,177.26 L604.80,177.01 L605.30,176.76 L605.80,176.52 L606.30,176.27 L606.80,176.03 L607.30,175.79 L607.80,175.54 L608.30,175.30 L608.80,175.06 L609.30,174.83 L609.80,174.59 L610.30,174.36 L610.80,174.12 L611.30,173.89 L611.80,173.66 L612.30,173.43 L612.80,173.20 L613.30,172.97 L613.80,172.74 L614.30,172.52 L614.80,172.29 L615.30,172.07 L615.80,171.85 L616.30,171.63 L616.80,171.41 L617.30,171.19 L617.80,170.98 L618.30,170.76 L618.80,170.55 L619.30,170.33 L619.80,170.12 L620.30,169.91 L620.80,169.70 L621.30,169.49 L621.80,169.28 L622.30,169.08 L622.80,168.87 L623.30,168.67 L623.80,168.47 L624.30,168.27 L624.80,168.07 L625.30,167.87 L625.80,167.67 L626.30,167.47 L626.80,167.28 L627.30,167.08 L627.80,166.89 L628.30,166.70 L628.80,166.51 L629.30,166.32 L629.80,166.13 L630.30,165.94 L630.80,165.76 L631.30,165.57 L631.80,165.39 L632.30,165.21 L632.80,165.03 L633.30,164.85 L633.80,164.67 L634.30,164.49 L634.80,164.31 L635.30,164.14 L635.80,163.96 L636.30,163.79 L636.80,163.62 L637.30,163.45 L637.80,163.28 L638.30,163.11 L638.80,162.94 L639.30,162.78 L639.80,162.61 L640.30,162.45 L640.80,162.28 L641.30,162.12 L641.80,161.96 L642.30,161.80 L642.80,161.64 L643.30,161.49 L643.80,161.33 L644.30,161.18 L644.80,161.02 L645.30,160.87 L645.80,160.72 L646.30,160.57 L646.80,160.42 L647.30,160.27 L647.80,160.12 L648.30,159.98 L648.80,159.83 L649.30,159.69 L649.80,159.55 L650.30,159.41 L650.80,159.26 L651.30,159.13 L651.80,158.99 L652.30,158.85 L652.80,158.71 L653.30,158.58 L653.80,158.45 L654.30,158.31 L654.80,158.18 L655.30,158.05 L655.80,157.92 L656.30,157.79 L656.80,157.67 L657.30,157.54 L657.80,157.41 L658.30,157.29 L658.80,157.17 L659.30,157.05 L659.80,156.93 L660.30,156.81 L660.80,156.69 L661.30,156.57 L661.80,156.45 L662.30,156.34 L662.80,156.22 L663.30,156.11 L663.80,156.00 L664.30,155.89 L664.80,155.78 L665.30,155.67 L665.80,155.56 L666.30,155.45 L666.80,155.35 L667.30,155.24 L667.80,155.14 L668.30,155.04 L668.80,154.93 L669.30,154.83 L669.80,154.73 L670.30,154.64 L670.80,154.54 L671.30,154.44 L671.80,154.35 L672.30,154.25 L672.80,154.16 L673.30,154.07 L673.80,153.97 L674.30,153.88 L674.80,153.80 L675.30,153.71 L675.80,153.62 L676.30,153.53 L676.80,153.45 L677.30,153.37 L677.80,153.28 L678.30,153.20 L678.80,153.12 L679.30,153.04 L679.80,152.96 L680.30,152.88 L680.80,152.81 L681.30,152.73 L681.80,152.65 L682.30,152.58 L682.80,152.51 L683.30,152.44 L683.80,152.36 L684.30,152.29 L684.80,152.23 L685.30,152.16 L685.80,152.09 L686.30,152.02 L686.80,151.96 L687.30,151.90 L687.80,151.83 L688.30,151.77 L688.80,151.71 L689.30,151.65 L689.80,151.59 L690.30,151.53 L690.80,151.48 L691.30,151.42 L691.80,151.36 L692.30,151.31 L692.80,151.26 L693.30,151.20 L693.80,151.15 L694.30,151.10 L694.80,151.05 L695.30,151.01 L695.80,150.96 L696.30,150.91 L696.80,150.87 L697.30,150.82 L697.80,150.78 L698.30,150.74 L698.80,150.69 L699.30,150.65 L699.80,150.61 L700.30,150.57 L700.80,150.54 L701.30,150.50 L701.80,150.46 L702.30,150.43 L702.80,150.39 L703.30,150.36 L703.80,150.33 L704.30,150.30 L704.80,150.27 L705.30,150.24 L705.80,150.21 L706.30,150.18 L706.80,150.16 L707.30,150.13 L707.80,150.11 L708.30,150.08 L708.80,150.06 L709.30,150.04 L709.80,150.02 L710.30,150.00 L710.80,149.98 L711.30,149.96 L711.80,149.94 L712.30,149.92 L712.80,149.91 L713.30,149.89 L713.80,149.88 L714.30,149.87 L714.80,149.85 L715.30,149.84 L715.80,149.83 L716.30,149.82 L716.80,149.82 L717.30,149.81 L717.80,149.80 L718.30,149.80 L718.80,149.79 L719.30,149.79 L719.80,149.78 L720.30,149.78 L720.80,149.78 L721.30,149.78 L721.80,149.78 L722.30,149.78 L722.80,149.78 L723.30,149.79 L723.80,149.79 L724.30,149.80 L724.80,149.80 L725.30,149.81 L725.80,149.82 L726.30,149.82 L726.80,149.83 L727.30,149.84 L727.80,149.85 L728.30,149.87 L728.80,149.88 L729.30,149.89 L729.80,149.91 L730.20,149.92" fill="none" stroke="#5cc0dc" stroke-width="2.50" stroke-linejoin="round"/>
<text x="498.60" y="44.40" font-size="12.90" font-weight="bold" text-anchor="start" fill="#000" >0 ppm</text>
<text x="498.60" y="108.90" font-size="12.90" font-weight="bold" text-anchor="start" fill="#000" >1 ppm</text>
<text x="498.60" y="184.90" font-size="12.90" font-weight="bold" text-anchor="start" fill="#000" >2 ppm</text>
<text x="498.60" y="292.80" font-size="12.90" font-weight="bold" text-anchor="start" fill="#000" >4 ppm</text>
<line x1="103.20" y1="382.20" x2="358.60" y2="382.20" stroke="#000" stroke-width="1.60"/>
<line x1="358.60" y1="382.20" x2="358.60" y2="670.60" stroke="#000" stroke-width="1.60"/>
<line x1="103.20" y1="381.40" x2="103.20" y2="670.60" stroke="#000" stroke-width="1.80"/>
<line x1="102.30" y1="669.70" x2="359.40" y2="669.70" stroke="#000" stroke-width="1.80"/>
<line x1="97.20" y1="669.70" x2="103.20" y2="669.70" stroke="#000" stroke-width="1.40"/>
<line x1="99.20" y1="655.33" x2="103.20" y2="655.33" stroke="#000" stroke-width="1.40"/>
<line x1="99.20" y1="640.95" x2="103.20" y2="640.95" stroke="#000" stroke-width="1.40"/>
<line x1="99.20" y1="626.58" x2="103.20" y2="626.58" stroke="#000" stroke-width="1.40"/>
<line x1="99.20" y1="612.20" x2="103.20" y2="612.20" stroke="#000" stroke-width="1.40"/>
<line x1="97.20" y1="597.83" x2="103.20" y2="597.83" stroke="#000" stroke-width="1.40"/>
<line x1="99.20" y1="583.45" x2="103.20" y2="583.45" stroke="#000" stroke-width="1.40"/>
<line x1="99.20" y1="569.08" x2="103.20" y2="569.08" stroke="#000" stroke-width="1.40"/>
<line x1="99.20" y1="554.70" x2="103.20" y2="554.70" stroke="#000" stroke-width="1.40"/>
<line x1="99.20" y1="540.33" x2="103.20" y2="540.33" stroke="#000" stroke-width="1.40"/>
<line x1="97.20" y1="525.95" x2="103.20" y2="525.95" stroke="#000" stroke-width="1.40"/>
<line x1="99.20" y1="511.58" x2="103.20" y2="511.58" stroke="#000" stroke-width="1.40"/>
<line x1="99.20" y1="497.20" x2="103.20" y2="497.20" stroke="#000" stroke-width="1.40"/>
<line x1="99.20" y1="482.82" x2="103.20" y2="482.82" stroke="#000" stroke-width="1.40"/>
<line x1="99.20" y1="468.45" x2="103.20" y2="468.45" stroke="#000" stroke-width="1.40"/>
<line x1="97.20" y1="454.07" x2="103.20" y2="454.07" stroke="#000" stroke-width="1.40"/>
<line x1="99.20" y1="439.70" x2="103.20" y2="439.70" stroke="#000" stroke-width="1.40"/>
<line x1="99.20" y1="425.32" x2="103.20" y2="425.32" stroke="#000" stroke-width="1.40"/>
<line x1="99.20" y1="410.95" x2="103.20" y2="410.95" stroke="#000" stroke-width="1.40"/>
<line x1="99.20" y1="396.57" x2="103.20" y2="396.57" stroke="#000" stroke-width="1.40"/>
<line x1="97.20" y1="382.20" x2="103.20" y2="382.20" stroke="#000" stroke-width="1.40"/>
<line x1="103.20" y1="669.70" x2="103.20" y2="674.70" stroke="#000" stroke-width="1.30"/>
<line x1="117.98" y1="669.70" x2="117.98" y2="673.70" stroke="#000" stroke-width="1.30"/>
<line x1="132.76" y1="669.70" x2="132.76" y2="673.70" stroke="#000" stroke-width="1.30"/>
<line x1="147.54" y1="669.70" x2="147.54" y2="673.70" stroke="#000" stroke-width="1.30"/>
<line x1="162.32" y1="669.70" x2="162.32" y2="673.70" stroke="#000" stroke-width="1.30"/>
<line x1="177.10" y1="669.70" x2="177.10" y2="674.70" stroke="#000" stroke-width="1.30"/>
<line x1="191.88" y1="669.70" x2="191.88" y2="673.70" stroke="#000" stroke-width="1.30"/>
<line x1="206.66" y1="669.70" x2="206.66" y2="673.70" stroke="#000" stroke-width="1.30"/>
<line x1="221.44" y1="669.70" x2="221.44" y2="673.70" stroke="#000" stroke-width="1.30"/>
<line x1="236.22" y1="669.70" x2="236.22" y2="673.70" stroke="#000" stroke-width="1.30"/>
<line x1="251.00" y1="669.70" x2="251.00" y2="674.70" stroke="#000" stroke-width="1.30"/>
<line x1="265.78" y1="669.70" x2="265.78" y2="673.70" stroke="#000" stroke-width="1.30"/>
<line x1="280.56" y1="669.70" x2="280.56" y2="673.70" stroke="#000" stroke-width="1.30"/>
<line x1="295.34" y1="669.70" x2="295.34" y2="673.70" stroke="#000" stroke-width="1.30"/>
<line x1="310.12" y1="669.70" x2="310.12" y2="673.70" stroke="#000" stroke-width="1.30"/>
<line x1="324.90" y1="669.70" x2="324.90" y2="674.70" stroke="#000" stroke-width="1.30"/>
<line x1="339.68" y1="669.70" x2="339.68" y2="673.70" stroke="#000" stroke-width="1.30"/>
<line x1="354.46" y1="669.70" x2="354.46" y2="673.70" stroke="#000" stroke-width="1.30"/>
<text x="88.20" y="675.70" font-size="17.50"  text-anchor="end" fill="#000" >23</text>
<text x="88.20" y="603.83" font-size="17.50"  text-anchor="end" fill="#000" >23.5</text>
<text x="88.20" y="531.95" font-size="17.50"  text-anchor="end" fill="#000" >24</text>
<text x="88.20" y="460.07" font-size="17.50"  text-anchor="end" fill="#000" >24.5</text>
<text x="88.20" y="388.20" font-size="17.50"  text-anchor="end" fill="#000" >25</text>
<text x="103.20" y="696.00" font-size="17.50"  text-anchor="middle" fill="#000" >0</text>
<text x="177.10" y="696.00" font-size="17.50"  text-anchor="middle" fill="#000" >25000</text>
<text x="251.00" y="696.00" font-size="17.50"  text-anchor="middle" fill="#000" >50000</text>
<text x="324.90" y="696.00" font-size="17.50"  text-anchor="middle" fill="#000" >75000</text>
<text transform="translate(47.90,535.05) rotate(-90)" x="0" y="0" font-size="23.90" font-weight="bold" text-anchor="middle" >Temperature (&#176;C)</text>
<text x="218.30" y="721.50" font-size="23.50" font-weight="bold" text-anchor="middle" fill="#000" >Time (s)</text>
<text x="11.00" y="377.00" font-size="28.60" font-weight="bold" text-anchor="start" fill="#000" >(c)</text>
<path d="M103.20,514.00 L103.55,514.89 L103.90,517.53 L104.25,521.78 L104.60,527.42 L104.95,534.18 L105.30,541.72 L105.65,549.65 L106.00,557.58 L106.35,565.12 L106.70,571.88 L107.05,577.52 L107.40,581.77 L107.75,584.41 L108.10,585.30 L108.32,584.28 L108.54,581.26 L108.76,576.41 L108.99,569.96 L109.21,562.23 L109.43,553.62 L109.65,544.55 L109.87,535.48 L110.09,526.87 L110.31,519.14 L110.54,512.69 L110.76,507.84 L110.98,504.82 L111.20,503.80 L111.46,504.87 L111.71,508.01 L111.97,512.95 L112.23,516.51 L112.49,517.69 L112.74,532.97 L113.00,546.16 L113.26,555.82 L113.51,564.81 L113.77,572.88 L114.03,579.62 L114.29,584.69 L114.54,587.83 L114.80,588.90 L115.03,587.89 L115.26,584.91 L115.49,580.12 L115.71,573.75 L115.94,566.11 L116.17,557.61 L116.40,548.65 L116.63,539.69 L116.86,531.19 L117.09,523.55 L117.31,517.18 L117.54,512.39 L117.77,509.41 L118.00,508.40 L118.32,509.38 L118.64,512.25 L118.96,516.76 L119.29,520.02 L119.61,521.10 L119.93,535.07 L120.25,547.13 L120.57,555.96 L120.89,564.18 L121.21,571.55 L121.54,577.71 L121.86,582.35 L122.18,585.22 L122.50,586.20 L122.73,585.24 L122.96,582.43 L123.19,577.89 L123.41,571.85 L123.64,564.63 L123.87,556.58 L124.10,548.10 L124.33,539.62 L124.56,531.57 L124.79,524.35 L125.01,518.31 L125.24,513.77 L125.47,510.96 L125.70,510.00 L126.02,511.05 L126.34,514.15 L126.66,519.01 L126.99,522.51 L127.31,523.68 L127.63,538.72 L127.95,551.72 L128.27,561.22 L128.59,570.08 L128.91,578.02 L129.24,584.66 L129.56,589.65 L129.88,592.75 L130.20,593.80 L130.42,592.79 L130.64,589.80 L130.86,584.99 L131.09,578.59 L131.31,570.93 L131.53,562.39 L131.75,553.40 L131.97,544.41 L132.19,535.87 L132.41,528.21 L132.64,521.81 L132.86,517.00 L133.08,514.01 L133.30,513.00 L133.65,513.99 L134.00,516.91 L134.35,521.49 L134.70,524.80 L135.05,525.90 L135.40,540.08 L135.75,552.33 L136.10,561.29 L136.45,569.64 L136.80,577.13 L137.15,583.38 L137.50,588.09 L137.85,591.01 L138.20,592.00 L138.40,591.04 L138.60,588.22 L138.80,583.67 L139.00,577.62 L139.20,570.37 L139.40,562.30 L139.60,553.80 L139.80,545.30 L140.00,537.23 L140.20,529.98 L140.40,523.93 L140.60,519.38 L140.80,516.56 L141.00,515.60 L141.35,516.53 L141.70,519.27 L142.05,523.58 L142.40,526.68 L142.75,527.71 L143.10,541.03 L143.45,552.54 L143.80,560.95 L144.15,568.80 L144.50,575.83 L144.85,581.71 L145.20,586.13 L145.55,588.87 L145.90,589.80 L146.16,588.87 L146.41,586.15 L146.67,581.75 L146.93,575.91 L147.19,568.91 L147.44,561.11 L147.70,552.90 L147.96,544.69 L148.21,536.89 L148.47,529.89 L148.73,524.05 L148.99,519.65 L149.24,516.93 L149.50,516.00 L149.79,516.97 L150.07,519.83 L150.36,524.32 L150.64,527.56 L150.93,528.64 L151.21,542.53 L151.50,554.53 L151.79,563.31 L152.07,571.49 L152.36,578.83 L152.64,584.96 L152.93,589.57 L153.21,592.43 L153.50,593.40 L153.70,592.38 L153.90,589.39 L154.10,584.56 L154.30,578.15 L154.50,570.47 L154.70,561.91 L154.90,552.90 L155.10,543.89 L155.30,535.33 L155.50,527.65 L155.70,521.24 L155.90,516.41 L156.10,513.42 L156.30,512.40 L156.68,513.40 L157.06,516.37 L157.44,521.01 L157.81,524.36 L158.19,525.48 L158.57,539.86 L158.95,552.27 L159.33,561.36 L159.71,569.83 L160.09,577.42 L160.46,583.76 L160.84,588.53 L161.22,591.50 L161.60,592.50 L161.80,591.43 L162.00,588.29 L162.20,583.22 L162.40,576.48 L162.60,568.41 L162.80,559.42 L163.00,549.95 L163.20,540.48 L163.40,531.49 L163.60,523.42 L163.80,516.68 L164.00,511.61 L164.20,508.47 L164.40,507.40 L164.71,508.22 L165.03,510.63 L165.34,514.42 L165.66,517.15 L165.97,518.06 L166.29,529.78 L166.60,539.91 L166.91,547.31 L167.23,554.22 L167.54,560.41 L167.86,565.58 L168.17,569.47 L168.49,571.88 L168.80,572.70 L169.03,571.98 L169.26,569.87 L169.49,566.47 L169.71,561.95 L169.94,556.54 L170.17,550.50 L170.40,544.15 L170.63,537.80 L170.86,531.76 L171.09,526.35 L171.31,521.83 L171.54,518.43 L171.77,516.32 L172.00,515.60 L172.32,516.30 L172.64,518.36 L172.96,521.60 L173.29,523.93 L173.61,524.71 L173.93,534.73 L174.25,543.38 L174.57,549.71 L174.89,555.61 L175.21,560.90 L175.54,565.31 L175.86,568.64 L176.18,570.70 L176.50,571.40 L176.76,570.76 L177.01,568.88 L177.27,565.85 L177.53,561.82 L177.79,556.99 L178.04,551.61 L178.30,545.95 L178.56,540.29 L178.81,534.91 L179.07,530.08 L179.33,526.05 L179.59,523.02 L179.84,521.14 L180.10,520.50 L180.42,521.13 L180.74,523.00 L181.06,525.92 L181.39,528.03 L181.71,528.73 L182.03,537.78 L182.35,545.59 L182.67,551.31 L182.99,556.63 L183.31,561.41 L183.64,565.40 L183.96,568.40 L184.28,570.27 L184.60,570.90 L184.86,570.21 L185.11,568.18 L185.37,564.91 L185.63,560.56 L185.89,555.36 L186.14,549.56 L186.40,543.45 L186.66,537.34 L186.91,531.54 L187.17,526.34 L187.43,521.99 L187.69,518.72 L187.94,516.69 L188.20,516.00 L188.49,516.73 L188.77,518.90 L189.06,522.29 L189.34,524.74 L189.63,525.55 L189.91,536.05 L190.20,545.12 L190.49,551.76 L190.77,557.94 L191.06,563.49 L191.34,568.12 L191.63,571.60 L191.91,573.77 L192.20,574.50 L192.49,573.80 L192.79,571.74 L193.08,568.41 L193.37,564.00 L193.66,558.71 L193.96,552.81 L194.25,546.60 L194.54,540.39 L194.84,534.49 L195.13,529.20 L195.42,524.79 L195.71,521.46 L196.01,519.40 L196.30,518.70 L196.59,519.38 L196.87,521.37 L197.16,524.51 L197.44,526.76 L197.73,527.52 L198.01,537.21 L198.30,545.58 L198.59,551.71 L198.87,557.41 L199.16,562.53 L199.44,566.81 L199.73,570.03 L200.01,572.02 L200.30,572.70 L200.56,571.96 L200.81,569.76 L201.07,566.22 L201.33,561.52 L201.59,555.89 L201.84,549.61 L202.10,543.00 L202.36,536.39 L202.61,530.11 L202.87,524.48 L203.13,519.78 L203.39,516.24 L203.64,514.04 L203.90,513.30 L204.19,514.03 L204.49,516.20 L204.78,519.59 L205.07,522.04 L205.36,522.85 L205.66,533.35 L205.95,542.42 L206.24,549.06 L206.54,555.24 L206.83,560.79 L207.12,565.42 L207.41,568.90 L207.71,571.07 L208.00,571.80 L208.23,571.07 L208.46,568.90 L208.69,565.42 L208.91,560.79 L209.14,555.24 L209.37,549.06 L209.60,542.55 L209.83,536.04 L210.06,529.86 L210.29,524.31 L210.51,519.68 L210.74,516.20 L210.97,514.03 L211.20,513.30 L211.52,514.07 L211.84,516.33 L212.16,519.88 L212.49,522.44 L212.81,523.29 L213.13,534.28 L213.45,543.77 L213.77,550.71 L214.09,557.18 L214.41,562.98 L214.74,567.82 L215.06,571.47 L215.38,573.73 L215.70,574.50 L215.92,573.72 L216.14,571.41 L216.36,567.68 L216.59,562.73 L216.81,556.81 L217.03,550.20 L217.25,543.25 L217.47,536.30 L217.69,529.69 L217.91,523.77 L218.14,518.82 L218.36,515.09 L218.58,512.78 L218.80,512.00 L219.12,512.79 L219.44,515.14 L219.76,518.82 L220.09,521.47 L220.41,522.35 L220.73,533.73 L221.05,543.56 L221.37,550.75 L221.69,557.45 L222.01,563.46 L222.34,568.48 L222.66,572.26 L222.98,574.61 L223.30,575.40 L223.56,574.64 L223.81,572.41 L224.07,568.82 L224.33,564.05 L224.59,558.33 L224.84,551.96 L225.10,545.25 L225.36,538.54 L225.61,532.17 L225.87,526.45 L226.13,521.68 L226.39,518.09 L226.64,515.86 L226.90,515.10 L227.19,515.84 L227.49,518.04 L227.78,521.49 L228.07,523.97 L228.36,524.80 L228.66,535.46 L228.95,544.67 L229.24,551.41 L229.54,557.69 L229.83,563.32 L230.12,568.02 L230.41,571.56 L230.71,573.76 L231.00,574.50 L231.26,573.73 L231.51,571.47 L231.77,567.82 L232.03,562.98 L232.29,557.18 L232.54,550.71 L232.80,543.90 L233.06,537.09 L233.31,530.62 L233.57,524.82 L233.83,519.98 L234.09,516.33 L234.34,514.07 L234.60,513.30 L234.89,514.01 L235.17,516.11 L235.46,519.40 L235.74,521.77 L236.03,522.56 L236.31,532.74 L236.60,541.53 L236.89,547.96 L237.17,553.95 L237.46,559.33 L237.74,563.81 L238.03,567.19 L238.31,569.29 L238.60,570.00 L238.89,569.35 L239.17,567.42 L239.46,564.31 L239.74,560.17 L240.03,555.22 L240.31,549.71 L240.60,543.90 L240.89,538.09 L241.17,532.58 L241.46,527.63 L241.74,523.49 L242.03,520.38 L242.31,518.45 L242.60,517.80 L242.86,518.52 L243.11,520.63 L243.37,523.95 L243.63,526.34 L243.89,527.14 L244.14,537.41 L244.40,546.27 L244.66,552.76 L244.91,558.81 L245.17,564.23 L245.43,568.76 L245.69,572.17 L245.94,574.28 L246.20,575.00 L246.49,574.34 L246.77,572.39 L247.06,569.25 L247.34,565.08 L247.63,560.08 L247.91,554.51 L248.20,548.65 L248.49,542.79 L248.77,537.22 L249.06,532.22 L249.34,528.05 L249.63,524.91 L249.91,522.96 L250.20,522.30 L250.52,522.93 L250.84,524.80 L251.16,527.72 L251.49,529.83 L251.81,530.53 L252.13,539.58 L252.45,547.39 L252.77,553.11 L253.09,558.43 L253.41,563.21 L253.74,567.20 L254.06,570.20 L254.38,572.07 L254.70,572.70 L254.96,572.02 L255.21,570.03 L255.47,566.81 L255.73,562.53 L255.99,557.41 L256.24,551.71 L256.50,545.70 L256.76,539.69 L257.01,533.99 L257.27,528.87 L257.53,524.59 L257.79,521.37 L258.04,519.38 L258.30,518.70 L258.62,519.44 L258.94,521.64 L259.26,525.08 L259.59,527.56 L259.91,528.38 L260.23,539.03 L260.55,548.22 L260.87,554.95 L261.19,561.21 L261.51,566.84 L261.84,571.53 L262.16,575.06 L262.48,577.26 L262.80,578.00 L263.03,577.14 L263.26,574.62 L263.49,570.55 L263.71,565.14 L263.94,558.67 L264.17,551.45 L264.40,543.85 L264.63,536.25 L264.86,529.03 L265.09,522.56 L265.31,517.15 L265.54,513.08 L265.77,510.56 L266.00,509.70 L266.32,510.40 L266.64,512.46 L266.96,515.70 L267.29,518.03 L267.61,518.81 L267.93,528.83 L268.25,537.48 L268.57,543.81 L268.89,549.71 L269.21,555.00 L269.54,559.41 L269.86,562.74 L270.18,564.80 L270.50,565.50 L270.76,564.87 L271.01,563.03 L271.27,560.06 L271.53,556.11 L271.79,551.38 L272.04,546.10 L272.30,540.55 L272.56,535.00 L272.81,529.72 L273.07,524.99 L273.33,521.04 L273.59,518.07 L273.84,516.23 L274.10,515.60 L274.39,516.24 L274.69,518.11 L274.98,521.06 L275.27,523.19 L275.56,523.89 L275.86,533.01 L276.15,540.89 L276.44,546.65 L276.74,552.02 L277.03,556.84 L277.32,560.86 L277.61,563.88 L277.91,565.76 L278.20,566.40 L278.49,565.72 L278.77,563.73 L279.06,560.51 L279.34,556.23 L279.63,551.11 L279.91,545.41 L280.20,539.40 L280.49,533.39 L280.77,527.69 L281.06,522.57 L281.34,518.29 L281.63,515.07 L281.91,513.08 L282.20,512.40 L282.56,513.10 L282.91,515.16 L283.27,518.40 L283.63,520.73 L283.99,521.51 L284.34,531.53 L284.70,540.18 L285.06,546.51 L285.41,552.41 L285.77,557.70 L286.13,562.11 L286.49,565.44 L286.84,567.50 L287.20,568.20 L287.46,567.56 L287.71,565.66 L287.97,562.60 L288.23,558.54 L288.49,553.68 L288.74,548.26 L289.00,542.55 L289.26,536.84 L289.51,531.42 L289.77,526.56 L290.03,522.50 L290.29,519.44 L290.54,517.54 L290.80,516.90 L291.09,517.84 L291.37,520.60 L291.66,524.93 L291.94,528.06 L292.23,529.10 L292.51,542.51 L292.80,554.09 L293.09,562.56 L293.37,570.46 L293.66,577.54 L293.94,583.45 L294.23,587.90 L294.51,590.66 L294.80,591.60 L295.03,590.55 L295.26,587.46 L295.49,582.47 L295.71,575.84 L295.94,567.91 L296.17,559.06 L296.40,549.75 L296.63,540.44 L296.86,531.59 L297.09,523.66 L297.31,517.03 L297.54,512.04 L297.77,508.95 L298.00,507.90 L298.31,508.94 L298.63,512.00 L298.94,516.80 L299.26,520.27 L299.57,521.42 L299.89,536.28 L300.20,549.12 L300.51,558.51 L300.83,567.26 L301.14,575.11 L301.46,581.67 L301.77,586.60 L302.09,589.66 L302.40,590.70 L302.63,589.67 L302.86,586.62 L303.09,581.72 L303.31,575.21 L303.54,567.40 L303.77,558.71 L304.00,549.55 L304.23,540.39 L304.46,531.70 L304.69,523.89 L304.91,517.38 L305.14,512.48 L305.37,509.43 L305.60,508.40 L305.92,509.15 L306.24,511.36 L306.56,514.83 L306.89,517.33 L307.21,518.16 L307.53,528.90 L307.85,538.17 L308.17,544.95 L308.49,551.27 L308.81,556.94 L309.14,561.68 L309.46,565.24 L309.78,567.45 L310.10,568.20 L310.36,567.44 L310.61,565.21 L310.87,561.62 L311.13,556.85 L311.39,551.13 L311.64,544.76 L311.90,538.05 L312.16,531.34 L312.41,524.97 L312.67,519.25 L312.93,514.48 L313.19,510.89 L313.44,508.66 L313.70,507.90 L314.02,508.54 L314.34,510.44 L314.66,513.42 L314.99,515.56 L315.31,516.28 L315.63,525.48 L315.95,533.44 L316.27,539.26 L316.59,544.68 L316.91,549.54 L317.24,553.60 L317.56,556.66 L317.88,558.56 L318.20,559.20 L318.46,558.52 L318.71,556.53 L318.97,553.31 L319.23,549.03 L319.49,543.91 L319.74,538.21 L320.00,532.20 L320.26,526.19 L320.51,520.49 L320.77,515.37 L321.03,511.09 L321.29,507.87 L321.54,505.88 L321.80,505.20 L322.15,505.93 L322.50,508.07 L322.85,511.44 L323.20,513.86 L323.55,514.67 L323.90,525.08 L324.25,534.07 L324.60,540.65 L324.95,546.78 L325.30,552.28 L325.65,556.87 L326.00,560.33 L326.35,562.47 L326.70,563.20 L326.93,562.51 L327.16,560.46 L327.39,557.17 L327.61,552.79 L327.84,547.55 L328.07,541.70 L328.30,535.55 L328.53,529.40 L328.76,523.55 L328.99,518.31 L329.21,513.93 L329.44,510.64 L329.67,508.59 L329.90,507.90 L330.22,508.62 L330.54,510.75 L330.86,514.09 L331.19,516.50 L331.51,517.30 L331.83,527.64 L332.15,536.57 L332.47,543.11 L332.79,549.20 L333.11,554.66 L333.44,559.22 L333.76,562.65 L334.08,564.78 L334.40,565.50 L334.66,564.83 L334.91,562.87 L335.17,559.71 L335.43,555.50 L335.69,550.47 L335.94,544.86 L336.20,538.95 L336.46,533.04 L336.71,527.43 L336.97,522.40 L337.23,518.19 L337.49,515.03 L337.74,513.07 L338.00,512.40 L338.32,513.05 L338.64,514.98 L338.96,518.01 L339.29,520.20 L339.61,520.92 L339.93,530.29 L340.25,538.39 L340.57,544.31 L340.89,549.82 L341.21,554.77 L341.54,558.91 L341.86,562.02 L342.18,563.95 L342.50,564.60 L342.76,563.90 L343.01,561.84 L343.27,558.51 L343.53,554.10 L343.79,548.81 L344.04,542.91 L344.30,536.70 L344.56,530.49 L344.81,524.59 L345.07,519.30 L345.33,514.89 L345.59,511.56 L345.84,509.50 L346.10,508.80 L346.39,509.52 L346.69,511.63 L346.98,514.95 L347.27,517.34 L347.56,518.14 L347.86,528.41 L348.15,537.27 L348.44,543.76 L348.74,549.81 L349.03,555.23 L349.32,559.76 L349.61,563.17 L349.91,565.28 L350.20,566.00 L350.46,565.30 L350.71,563.24 L350.97,559.91 L351.23,555.50 L351.49,550.21 L351.74,544.31 L352.00,538.10 L352.26,531.89 L352.51,525.99 L352.77,520.70 L353.03,516.29 L353.29,512.96 L353.54,510.90 L353.80,510.20 L354.14,510.91 L354.49,513.00 L354.83,516.27 L355.17,518.64 L355.51,519.42 L355.86,529.57 L356.20,538.33 L356.54,544.74 L356.89,550.71 L357.23,556.06 L357.57,560.54 L357.91,563.90 L358.26,565.99 L358.60,566.70" fill="none" stroke="#000" stroke-width="2.2" stroke-linejoin="round"/>
<line x1="358.60" y1="474.40" x2="358.60" y2="557.60" stroke="#f0595a" stroke-width="1.60"/>
<line x1="460.70" y1="382.50" x2="729.00" y2="382.50" stroke="#000" stroke-width="1.60"/>
<line x1="729.00" y1="382.50" x2="729.00" y2="671.40" stroke="#000" stroke-width="1.60"/>
<line x1="460.70" y1="381.70" x2="460.70" y2="671.40" stroke="#000" stroke-width="1.80"/>
<line x1="459.80" y1="670.50" x2="729.80" y2="670.50" stroke="#000" stroke-width="1.80"/>
<line x1="455.70" y1="670.50" x2="460.70" y2="670.50" stroke="#000" stroke-width="1.40"/>
<line x1="457.20" y1="660.90" x2="460.70" y2="660.90" stroke="#000" stroke-width="1.40"/>
<line x1="457.20" y1="651.30" x2="460.70" y2="651.30" stroke="#000" stroke-width="1.40"/>
<line x1="457.20" y1="641.70" x2="460.70" y2="641.70" stroke="#000" stroke-width="1.40"/>
<line x1="457.20" y1="632.10" x2="460.70" y2="632.10" stroke="#000" stroke-width="1.40"/>
<line x1="455.70" y1="622.50" x2="460.70" y2="622.50" stroke="#000" stroke-width="1.40"/>
<line x1="457.20" y1="612.90" x2="460.70" y2="612.90" stroke="#000" stroke-width="1.40"/>
<line x1="457.20" y1="603.30" x2="460.70" y2="603.30" stroke="#000" stroke-width="1.40"/>
<line x1="457.20" y1="593.70" x2="460.70" y2="593.70" stroke="#000" stroke-width="1.40"/>
<line x1="457.20" y1="584.10" x2="460.70" y2="584.10" stroke="#000" stroke-width="1.40"/>
<line x1="455.70" y1="574.50" x2="460.70" y2="574.50" stroke="#000" stroke-width="1.40"/>
<line x1="457.20" y1="564.90" x2="460.70" y2="564.90" stroke="#000" stroke-width="1.40"/>
<line x1="457.20" y1="555.30" x2="460.70" y2="555.30" stroke="#000" stroke-width="1.40"/>
<line x1="457.20" y1="545.70" x2="460.70" y2="545.70" stroke="#000" stroke-width="1.40"/>
<line x1="457.20" y1="536.10" x2="460.70" y2="536.10" stroke="#000" stroke-width="1.40"/>
<line x1="455.70" y1="526.50" x2="460.70" y2="526.50" stroke="#000" stroke-width="1.40"/>
<line x1="457.20" y1="516.90" x2="460.70" y2="516.90" stroke="#000" stroke-width="1.40"/>
<line x1="457.20" y1="507.30" x2="460.70" y2="507.30" stroke="#000" stroke-width="1.40"/>
<line x1="457.20" y1="497.70" x2="460.70" y2="497.70" stroke="#000" stroke-width="1.40"/>
<line x1="457.20" y1="488.10" x2="460.70" y2="488.10" stroke="#000" stroke-width="1.40"/>
<line x1="455.70" y1="478.50" x2="460.70" y2="478.50" stroke="#000" stroke-width="1.40"/>
<line x1="457.20" y1="468.90" x2="460.70" y2="468.90" stroke="#000" stroke-width="1.40"/>
<line x1="457.20" y1="459.30" x2="460.70" y2="459.30" stroke="#000" stroke-width="1.40"/>
<line x1="457.20" y1="449.70" x2="460.70" y2="449.70" stroke="#000" stroke-width="1.40"/>
<line x1="457.20" y1="440.10" x2="460.70" y2="440.10" stroke="#000" stroke-width="1.40"/>
<line x1="455.70" y1="430.50" x2="460.70" y2="430.50" stroke="#000" stroke-width="1.40"/>
<line x1="457.20" y1="420.90" x2="460.70" y2="420.90" stroke="#000" stroke-width="1.40"/>
<line x1="457.20" y1="411.30" x2="460.70" y2="411.30" stroke="#000" stroke-width="1.40"/>
<line x1="457.20" y1="401.70" x2="460.70" y2="401.70" stroke="#000" stroke-width="1.40"/>
<line x1="457.20" y1="392.10" x2="460.70" y2="392.10" stroke="#000" stroke-width="1.40"/>
<line x1="455.70" y1="382.50" x2="460.70" y2="382.50" stroke="#000" stroke-width="1.40"/>
<line x1="460.70" y1="670.50" x2="460.70" y2="675.50" stroke="#000" stroke-width="1.40"/>
<line x1="487.53" y1="670.50" x2="487.53" y2="674.00" stroke="#000" stroke-width="1.40"/>
<line x1="514.36" y1="670.50" x2="514.36" y2="674.00" stroke="#000" stroke-width="1.40"/>
<line x1="541.19" y1="670.50" x2="541.19" y2="674.00" stroke="#000" stroke-width="1.40"/>
<line x1="568.02" y1="670.50" x2="568.02" y2="674.00" stroke="#000" stroke-width="1.40"/>
<line x1="594.85" y1="670.50" x2="594.85" y2="675.50" stroke="#000" stroke-width="1.40"/>
<line x1="621.68" y1="670.50" x2="621.68" y2="674.00" stroke="#000" stroke-width="1.40"/>
<line x1="648.51" y1="670.50" x2="648.51" y2="674.00" stroke="#000" stroke-width="1.40"/>
<line x1="675.34" y1="670.50" x2="675.34" y2="674.00" stroke="#000" stroke-width="1.40"/>
<line x1="702.17" y1="670.50" x2="702.17" y2="674.00" stroke="#000" stroke-width="1.40"/>
<line x1="729.00" y1="670.50" x2="729.00" y2="675.50" stroke="#000" stroke-width="1.40"/>
<text x="447.00" y="677.10" font-size="17.50"  text-anchor="end" fill="#000" >0</text>
<text x="447.00" y="629.10" font-size="17.50"  text-anchor="end" fill="#000" >50</text>
<text x="447.00" y="581.10" font-size="17.50"  text-anchor="end" fill="#000" >100</text>
<text x="447.00" y="533.10" font-size="17.50"  text-anchor="end" fill="#000" >150</text>
<text x="447.00" y="485.10" font-size="17.50"  text-anchor="end" fill="#000" >200</text>
<text x="447.00" y="437.10" font-size="17.50"  text-anchor="end" fill="#000" >250</text>
<text x="447.00" y="389.10" font-size="17.50"  text-anchor="end" fill="#000" >300</text>
<text x="460.70" y="696.00" font-size="17.50"  text-anchor="middle" fill="#000" >0</text>
<text x="594.85" y="696.00" font-size="17.50"  text-anchor="middle" fill="#000" >0.5</text>
<text x="729.00" y="696.00" font-size="17.50"  text-anchor="middle" fill="#000" >1</text>
<text transform="translate(411.00,567.50) rotate(-90)" x="0" y="0" font-size="23.50" font-weight="bold" text-anchor="middle" >Current (&#181;A)</text>
<text x="611.80" y="721.50" font-size="23.50" font-weight="bold" text-anchor="middle" fill="#000" >Potential (V)</text>
<text x="372.00" y="376.60" font-size="28.60" font-weight="bold" text-anchor="start" fill="#000" >(d)</text>
<path d="M460.90,669.00 L460.99,668.06 L461.05,667.10 L461.10,666.12 L461.13,665.12 L461.16,664.09 L461.17,663.06 L461.18,662.01 L461.19,660.94 L461.21,659.87 L461.23,658.79 L461.25,657.71 L461.29,656.62 L461.35,655.54 L461.43,654.45 L461.53,653.37 L461.65,652.30 L461.81,651.23 L461.99,650.17 L462.22,649.13 L462.48,648.10 L462.78,647.09 L463.13,646.10 L463.52,645.13 L463.95,644.18 L464.41,643.26 L464.92,642.37 L465.46,641.52 L466.04,640.70 L466.65,639.92 L467.30,639.17 L467.98,638.47 L468.69,637.82 L469.43,637.21 L470.21,636.66 L471.01,636.16 L471.85,635.71 L472.71,635.32 L473.60,634.99 L474.51,634.72 L475.45,634.51 L476.40,634.35 L477.38,634.23 L478.38,634.16 L479.39,634.14 L480.42,634.16 L481.46,634.21 L482.51,634.30 L483.57,634.42 L484.64,634.57 L485.71,634.74 L486.79,634.94 L487.87,635.15 L488.95,635.39 L490.03,635.63 L491.11,635.89 L492.18,636.16 L493.24,636.43 L494.30,636.70 L495.35,636.98 L496.39,637.25 L497.43,637.53 L498.46,637.81 L499.49,638.09 L500.51,638.37 L501.52,638.65 L502.53,638.93 L503.54,639.21 L504.54,639.48 L505.53,639.75 L506.53,640.02 L507.52,640.28 L508.50,640.54 L509.49,640.79 L510.47,641.04 L511.45,641.28 L512.43,641.52 L513.40,641.75 L514.38,641.97 L515.35,642.19 L516.33,642.40 L517.30,642.60 L518.27,642.80 L519.25,642.99 L520.22,643.17 L521.20,643.35 L522.17,643.53 L523.15,643.69 L524.13,643.85 L525.11,644.01 L526.10,644.16 L527.08,644.30 L528.07,644.43 L529.07,644.56 L530.06,644.69 L531.06,644.81 L532.07,644.92 L533.08,645.03 L534.09,645.13 L535.11,645.23 L536.13,645.32 L537.16,645.40 L538.19,645.48 L539.23,645.55 L540.28,645.62 L541.33,645.68 L542.39,645.74 L543.46,645.79 L544.54,645.84 L545.62,645.87 L546.70,645.90 L547.79,645.93 L548.88,645.94 L549.97,645.94 L551.07,645.94 L552.16,645.92 L553.26,645.89 L554.35,645.85 L555.44,645.79 L556.53,645.72 L557.62,645.64 L558.70,645.54 L559.78,645.42 L560.85,645.29 L561.91,645.14 L562.97,644.98 L564.01,644.79 L565.05,644.59 L566.08,644.36 L567.09,644.11 L568.10,643.85 L569.09,643.56 L570.07,643.24 L571.03,642.91 L571.98,642.55 L572.91,642.16 L573.83,641.75 L574.73,641.31 L575.61,640.85 L576.47,640.36 L577.31,639.84 L578.13,639.29 L578.94,638.73 L579.73,638.13 L580.49,637.51 L581.24,636.87 L581.97,636.21 L582.69,635.52 L583.38,634.82 L584.06,634.09 L584.72,633.35 L585.36,632.58 L585.99,631.80 L586.60,631.00 L587.19,630.18 L587.76,629.35 L588.32,628.50 L588.86,627.64 L589.38,626.77 L589.89,625.88 L590.38,624.98 L590.86,624.06 L591.32,623.14 L591.76,622.20 L592.19,621.26 L592.60,620.31 L593.00,619.35 L593.38,618.38 L593.75,617.40 L594.10,616.42 L594.43,615.44 L594.75,614.45 L595.06,613.45 L595.35,612.45 L595.63,611.45 L595.90,610.44 L596.15,609.44 L596.40,608.42 L596.63,607.41 L596.85,606.39 L597.06,605.37 L597.26,604.35 L597.45,603.33 L597.64,602.30 L597.81,601.27 L597.98,600.24 L598.14,599.21 L598.30,598.18 L598.45,597.14 L598.60,596.11 L598.74,595.07 L598.88,594.04 L599.02,593.00 L599.15,591.97 L599.28,590.93 L599.42,589.89 L599.55,588.86 L599.68,587.82 L599.81,586.79 L599.94,585.75 L600.07,584.72 L600.21,583.69 L600.35,582.66 L600.49,581.63 L600.63,580.60 L600.78,579.58 L600.94,578.55 L601.10,577.53 L601.27,576.51 L601.44,575.50 L601.62,574.49 L601.81,573.48 L602.01,572.47 L602.21,571.46 L602.43,570.46 L602.64,569.46 L602.87,568.46 L603.10,567.47 L603.34,566.48 L603.58,565.48 L603.83,564.49 L604.09,563.51 L604.35,562.52 L604.62,561.53 L604.89,560.55 L605.17,559.57 L605.45,558.59 L605.74,557.61 L606.03,556.63 L606.33,555.65 L606.63,554.67 L606.93,553.69 L607.24,552.71 L607.55,551.73 L607.86,550.76 L608.18,549.78 L608.50,548.80 L608.83,547.82 L609.15,546.84 L609.48,545.86 L609.82,544.89 L610.15,543.90 L610.49,542.92 L610.82,541.94 L611.16,540.96 L611.50,539.97 L611.85,538.99 L612.19,538.00 L612.53,537.01 L612.88,536.02 L613.22,535.03 L613.57,534.03 L613.91,533.04 L614.26,532.04 L614.60,531.04 L614.95,530.04 L615.30,529.04 L615.66,528.04 L616.02,527.04 L616.38,526.05 L616.76,525.07 L617.14,524.09 L617.54,523.13 L617.95,522.17 L618.37,521.22 L618.80,520.29 L619.25,519.37 L619.72,518.46 L620.21,517.57 L620.71,516.70 L621.24,515.85 L621.79,515.01 L622.36,514.20 L622.95,513.41 L623.58,512.65 L624.23,511.91 L624.91,511.19 L625.61,510.51 L626.35,509.85 L627.13,509.23 L627.93,508.63 L628.77,508.07 L629.65,507.54 L630.56,507.05 L631.51,506.59 L632.49,506.18 L633.49,505.80 L634.51,505.46 L635.55,505.16 L636.60,504.91 L637.65,504.69 L638.71,504.52 L639.77,504.40 L640.81,504.32 L641.85,504.29 L642.88,504.30 L643.91,504.34 L644.93,504.43 L645.94,504.55 L646.95,504.70 L647.95,504.88 L648.95,505.09 L649.94,505.32 L650.93,505.58 L651.92,505.85 L652.90,506.15 L653.88,506.46 L654.86,506.78 L655.84,507.11 L656.82,507.45 L657.80,507.79 L658.78,508.14 L659.76,508.48 L660.75,508.83 L661.73,509.17 L662.72,509.50 L663.71,509.82 L664.70,510.13 L665.70,510.43 L666.70,510.71 L667.70,510.97 L668.71,511.21 L669.73,511.42 L670.76,511.61 L671.79,511.77 L672.82,511.90 L673.86,512.00 L674.90,512.08 L675.94,512.12 L676.98,512.14 L678.02,512.13 L679.06,512.09 L680.09,512.03 L681.12,511.93 L682.14,511.81 L683.16,511.65 L684.17,511.47 L685.17,511.26 L686.15,511.02 L687.13,510.75 L688.09,510.45 L689.04,510.12 L689.98,509.76 L690.90,509.37 L691.80,508.95 L692.68,508.50 L693.55,508.03 L694.40,507.53 L695.24,507.00 L696.07,506.45 L696.88,505.87 L697.67,505.27 L698.46,504.65 L699.23,504.01 L699.99,503.34 L700.73,502.66 L701.47,501.96 L702.19,501.24 L702.91,500.50 L703.61,499.75 L704.31,498.98 L705.00,498.20 L705.67,497.40 L706.34,496.59 L707.01,495.77 L707.66,494.94 L708.31,494.10 L708.95,493.25 L709.59,492.39 L710.22,491.52 L710.85,490.65 L711.47,489.78 L712.09,488.89 L712.70,488.01 L713.32,487.12 L713.93,486.23 L714.53,485.34 L715.14,484.45 L715.74,483.56 L716.35,482.67 L716.95,481.78 L717.56,480.90 L718.16,480.02 L718.77,479.15 L719.38,478.28 L719.99,477.42 L720.60,476.57 L721.21,475.72 L721.83,474.89 L722.46,474.06 L723.08,473.25 L723.71,472.45 L724.35,471.66 L724.99,470.89 L725.64,470.13 L726.30,469.39 L726.96,468.67 L727.63,467.96 L728.31,467.27 L729.00,466.60" fill="none" stroke="#000000" stroke-width="2.2" stroke-linejoin="round"/>
<path d="M460.90,669.00 L461.04,667.97 L461.14,666.93 L461.22,665.87 L461.27,664.79 L461.31,663.70 L461.33,662.60 L461.34,661.49 L461.35,660.36 L461.35,659.23 L461.35,658.10 L461.36,656.95 L461.38,655.81 L461.41,654.66 L461.45,653.51 L461.53,652.36 L461.62,651.22 L461.75,650.08 L461.91,648.94 L462.10,647.81 L462.34,646.69 L462.62,645.58 L462.96,644.49 L463.34,643.42 L463.77,642.39 L464.26,641.39 L464.80,640.43 L465.40,639.53 L466.06,638.69 L466.78,637.91 L467.57,637.21 L468.42,636.59 L469.34,636.06 L470.31,635.60 L471.32,635.22 L472.35,634.89 L473.39,634.60 L474.44,634.37 L475.49,634.17 L476.53,634.01 L477.58,633.88 L478.62,633.80 L479.67,633.74 L480.72,633.72 L481.77,633.73 L482.82,633.78 L483.87,633.85 L484.92,633.94 L485.97,634.07 L487.03,634.21 L488.08,634.38 L489.14,634.58 L490.20,634.79 L491.25,635.02 L492.31,635.27 L493.37,635.53 L494.44,635.81 L495.50,636.10 L496.56,636.40 L497.63,636.72 L498.70,637.04 L499.77,637.37 L500.84,637.70 L501.91,638.04 L502.99,638.38 L504.06,638.73 L505.14,639.07 L506.22,639.41 L507.30,639.76 L508.39,640.09 L509.47,640.42 L510.56,640.75 L511.65,641.06 L512.75,641.37 L513.84,641.67 L514.94,641.96 L516.03,642.24 L517.13,642.51 L518.23,642.77 L519.34,643.03 L520.44,643.27 L521.54,643.50 L522.65,643.73 L523.75,643.94 L524.86,644.14 L525.97,644.34 L527.07,644.52 L528.18,644.69 L529.29,644.85 L530.40,644.99 L531.50,645.13 L532.61,645.25 L533.72,645.37 L534.82,645.47 L535.93,645.55 L537.03,645.63 L538.13,645.69 L539.24,645.74 L540.34,645.78 L541.44,645.80 L542.54,645.81 L543.63,645.81 L544.73,645.79 L545.82,645.76 L546.91,645.71 L548.00,645.65 L549.09,645.58 L550.18,645.49 L551.26,645.39 L552.34,645.27 L553.41,645.13 L554.49,644.98 L555.56,644.82 L556.63,644.64 L557.69,644.44 L558.75,644.23 L559.81,644.00 L560.87,643.75 L561.92,643.49 L562.96,643.21 L564.01,642.91 L565.05,642.59 L566.08,642.26 L567.11,641.91 L568.13,641.55 L569.16,641.16 L570.17,640.76 L571.18,640.33 L572.19,639.89 L573.19,639.43 L574.18,638.96 L575.17,638.46 L576.15,637.94 L577.12,637.39 L578.06,636.82 L578.96,636.21 L579.83,635.56 L580.65,634.86 L581.41,634.12 L582.11,633.33 L582.75,632.48 L583.30,631.57 L583.78,630.60 L584.20,629.58 L584.57,628.53 L584.90,627.45 L585.20,626.35 L585.49,625.25 L585.78,624.15 L586.06,623.05 L586.35,621.96 L586.64,620.88 L586.93,619.79 L587.21,618.72 L587.50,617.64 L587.79,616.57 L588.07,615.50 L588.36,614.44 L588.64,613.37 L588.93,612.31 L589.21,611.25 L589.49,610.19 L589.77,609.14 L590.06,608.08 L590.34,607.03 L590.62,605.97 L590.90,604.92 L591.17,603.87 L591.45,602.81 L591.73,601.76 L592.00,600.71 L592.28,599.65 L592.55,598.60 L592.83,597.54 L593.10,596.49 L593.37,595.43 L593.64,594.38 L593.91,593.32 L594.18,592.26 L594.45,591.21 L594.72,590.15 L594.99,589.09 L595.26,588.03 L595.53,586.98 L595.79,585.92 L596.06,584.86 L596.33,583.80 L596.59,582.74 L596.86,581.68 L597.13,580.62 L597.39,579.56 L597.66,578.50 L597.92,577.43 L598.19,576.37 L598.45,575.31 L598.72,574.24 L598.98,573.18 L599.25,572.12 L599.51,571.05 L599.78,569.99 L600.05,568.92 L600.31,567.85 L600.58,566.79 L600.84,565.72 L601.11,564.65 L601.38,563.58 L601.65,562.51 L601.91,561.44 L602.18,560.37 L602.45,559.30 L602.72,558.22 L602.99,557.15 L603.26,556.08 L603.53,555.00 L603.80,553.93 L604.08,552.85 L604.36,551.78 L604.64,550.71 L604.92,549.64 L605.21,548.57 L605.51,547.50 L605.81,546.43 L606.12,545.37 L606.44,544.31 L606.77,543.25 L607.10,542.19 L607.45,541.14 L607.80,540.10 L608.17,539.06 L608.55,538.02 L608.94,536.99 L609.34,535.97 L609.76,534.95 L610.19,533.93 L610.64,532.93 L611.11,531.93 L611.59,530.94 L612.09,529.95 L612.60,528.98 L613.14,528.01 L613.69,527.05 L614.27,526.10 L614.87,525.16 L615.48,524.23 L616.12,523.31 L616.79,522.40 L617.47,521.51 L618.18,520.62 L618.90,519.76 L619.65,518.91 L620.42,518.09 L621.20,517.28 L622.00,516.50 L622.83,515.75 L623.66,515.02 L624.52,514.32 L625.39,513.66 L626.28,513.02 L627.18,512.43 L628.09,511.87 L629.02,511.34 L629.96,510.86 L630.92,510.42 L631.88,510.02 L632.86,509.67 L633.85,509.37 L634.84,509.12 L635.85,508.92 L636.87,508.77 L637.89,508.68 L638.92,508.64 L639.96,508.67 L641.00,508.75 L642.05,508.88 L643.11,509.06 L644.18,509.29 L645.24,509.56 L646.32,509.86 L647.40,510.19 L648.48,510.55 L649.57,510.92 L650.67,511.31 L651.77,511.72 L652.87,512.12 L653.98,512.53 L655.09,512.94 L656.20,513.34 L657.32,513.73 L658.44,514.09 L659.57,514.44 L660.70,514.76 L661.83,515.05 L662.96,515.30 L664.09,515.50 L665.23,515.67 L666.37,515.79 L667.50,515.85 L668.63,515.88 L669.75,515.85 L670.86,515.77 L671.96,515.65 L673.04,515.48 L674.11,515.26 L675.16,514.99 L676.18,514.67 L677.18,514.30 L678.16,513.88 L679.11,513.42 L680.04,512.92 L680.95,512.37 L681.84,511.79 L682.70,511.16 L683.55,510.51 L684.38,509.82 L685.20,509.11 L685.99,508.36 L686.77,507.60 L687.54,506.80 L688.29,505.99 L689.03,505.17 L689.76,504.32 L690.47,503.46 L691.18,502.59 L691.88,501.72 L692.56,500.83 L693.24,499.94 L693.91,499.05 L694.58,498.15 L695.24,497.25 L695.88,496.35 L696.53,495.44 L697.16,494.52 L697.79,493.61 L698.41,492.69 L699.02,491.77 L699.63,490.84 L700.23,489.91 L700.83,488.97 L701.41,488.04 L701.99,487.10 L702.57,486.15 L703.14,485.21 L703.70,484.26 L704.26,483.30 L704.81,482.35 L705.35,481.39 L705.89,480.43 L706.43,479.46 L706.96,478.50 L707.48,477.53 L708.00,476.55 L708.51,475.58 L709.02,474.60 L709.52,473.62 L710.02,472.64 L710.51,471.65 L711.00,470.66 L711.48,469.67 L711.96,468.68 L712.44,467.69 L712.91,466.69 L713.37,465.69 L713.83,464.69 L714.29,463.69 L714.75,462.69 L715.20,461.68 L715.65,460.67 L716.09,459.66 L716.53,458.65 L716.97,457.64 L717.40,456.63 L717.83,455.61 L718.26,454.59 L718.68,453.57 L719.10,452.55 L719.52,451.53 L719.94,450.51 L720.35,449.49 L720.76,448.46 L721.17,447.44 L721.58,446.41 L721.98,445.38 L722.38,444.36 L722.78,443.33 L723.18,442.30 L723.58,441.27 L723.97,440.24 L724.37,439.20 L724.76,438.17 L725.15,437.14 L725.54,436.11 L725.93,435.07 L726.31,434.04 L726.70,433.01 L727.08,431.97 L727.47,430.94 L727.85,429.90 L728.24,428.87 L728.62,427.83 L729.00,426.80" fill="none" stroke="#8653b5" stroke-width="2.3" stroke-linejoin="round"/>
<path d="M460.90,669.00 L460.96,668.15 L461.00,667.23 L461.01,666.26 L461.02,665.24 L461.01,664.17 L460.99,663.07 L460.98,661.94 L460.97,660.79 L460.97,659.63 L460.99,658.46 L461.02,657.28 L461.08,656.12 L461.17,654.97 L461.30,653.84 L461.46,652.74 L461.67,651.67 L461.93,650.65 L462.25,649.68 L462.62,648.76 L463.06,647.91 L463.56,647.12 L464.13,646.40 L464.75,645.73 L465.42,645.13 L466.15,644.58 L466.92,644.09 L467.73,643.65 L468.57,643.26 L469.45,642.91 L470.36,642.61 L471.29,642.35 L472.24,642.14 L473.21,641.96 L474.19,641.81 L475.18,641.70 L476.18,641.61 L477.17,641.56 L478.17,641.53 L479.17,641.53 L480.17,641.56 L481.17,641.61 L482.17,641.68 L483.17,641.77 L484.18,641.88 L485.18,642.02 L486.18,642.17 L487.19,642.34 L488.20,642.52 L489.20,642.72 L490.21,642.94 L491.22,643.17 L492.23,643.41 L493.24,643.66 L494.26,643.92 L495.27,644.19 L496.28,644.47 L497.30,644.75 L498.31,645.04 L499.33,645.33 L500.34,645.63 L501.36,645.93 L502.38,646.23 L503.39,646.53 L504.41,646.83 L505.43,647.13 L506.45,647.42 L507.47,647.71 L508.49,647.99 L509.51,648.27 L510.54,648.54 L511.56,648.80 L512.58,649.06 L513.60,649.30 L514.63,649.54 L515.65,649.76 L516.67,649.98 L517.70,650.19 L518.72,650.38 L519.75,650.57 L520.77,650.75 L521.80,650.92 L522.82,651.08 L523.85,651.23 L524.87,651.37 L525.89,651.50 L526.92,651.62 L527.94,651.73 L528.97,651.83 L529.99,651.92 L531.02,652.01 L532.04,652.08 L533.06,652.14 L534.09,652.19 L535.11,652.22 L536.13,652.25 L537.16,652.27 L538.18,652.28 L539.20,652.28 L540.22,652.26 L541.24,652.24 L542.26,652.20 L543.28,652.15 L544.30,652.10 L545.32,652.03 L546.34,651.95 L547.35,651.86 L548.37,651.75 L549.39,651.64 L550.40,651.51 L551.41,651.38 L552.43,651.23 L553.44,651.07 L554.45,650.90 L555.46,650.71 L556.47,650.52 L557.48,650.31 L558.48,650.09 L559.49,649.86 L560.50,649.62 L561.50,649.36 L562.50,649.09 L563.50,648.81 L564.50,648.52 L565.50,648.21 L566.50,647.89 L567.49,647.56 L568.47,647.21 L569.45,646.84 L570.41,646.45 L571.36,646.04 L572.30,645.61 L573.22,645.15 L574.11,644.67 L574.99,644.16 L575.84,643.62 L576.66,643.05 L577.46,642.45 L578.22,641.82 L578.95,641.15 L579.65,640.44 L580.31,639.70 L580.93,638.91 L581.51,638.10 L582.06,637.24 L582.57,636.36 L583.06,635.46 L583.51,634.53 L583.94,633.58 L584.34,632.61 L584.72,631.63 L585.08,630.65 L585.42,629.65 L585.74,628.65 L586.05,627.64 L586.34,626.63 L586.62,625.62 L586.88,624.60 L587.13,623.58 L587.37,622.55 L587.60,621.52 L587.82,620.49 L588.04,619.46 L588.25,618.43 L588.45,617.40 L588.65,616.37 L588.85,615.34 L589.04,614.31 L589.24,613.28 L589.43,612.25 L589.62,611.22 L589.82,610.20 L590.01,609.18 L590.20,608.15 L590.39,607.13 L590.59,606.12 L590.78,605.10 L590.97,604.08 L591.16,603.07 L591.35,602.05 L591.54,601.04 L591.74,600.03 L591.93,599.02 L592.12,598.01 L592.32,597.00 L592.51,595.99 L592.71,594.99 L592.90,593.98 L593.10,592.97 L593.29,591.97 L593.49,590.97 L593.69,589.97 L593.89,588.96 L594.09,587.96 L594.29,586.96 L594.50,585.96 L594.70,584.97 L594.91,583.97 L595.12,582.97 L595.33,581.97 L595.54,580.98 L595.75,579.98 L595.96,578.99 L596.18,577.99 L596.40,577.00 L596.62,576.00 L596.84,575.01 L597.06,574.02 L597.29,573.02 L597.52,572.03 L597.75,571.04 L597.98,570.04 L598.22,569.05 L598.46,568.06 L598.70,567.07 L598.94,566.07 L599.19,565.08 L599.44,564.09 L599.69,563.10 L599.94,562.11 L600.20,561.11 L600.46,560.12 L600.73,559.13 L600.99,558.14 L601.26,557.14 L601.54,556.15 L601.81,555.16 L602.10,554.16 L602.38,553.17 L602.67,552.17 L602.96,551.18 L603.26,550.18 L603.56,549.19 L603.86,548.19 L604.17,547.19 L604.48,546.20 L604.79,545.20 L605.11,544.20 L605.44,543.20 L605.77,542.20 L606.10,541.20 L606.44,540.20 L606.78,539.20 L607.13,538.19 L607.48,537.19 L607.83,536.19 L608.19,535.18 L608.56,534.17 L608.93,533.17 L609.31,532.16 L609.69,531.15 L610.08,530.15 L610.48,529.16 L610.90,528.17 L611.32,527.19 L611.76,526.22 L612.21,525.27 L612.67,524.33 L613.15,523.41 L613.66,522.50 L614.17,521.62 L614.71,520.76 L615.27,519.93 L615.86,519.12 L616.46,518.33 L617.10,517.58 L617.75,516.86 L618.44,516.18 L619.15,515.53 L619.90,514.91 L620.67,514.34 L621.48,513.81 L622.32,513.32 L623.19,512.87 L624.08,512.46 L625.01,512.10 L625.95,511.78 L626.91,511.50 L627.88,511.26 L628.87,511.06 L629.87,510.90 L630.87,510.78 L631.87,510.70 L632.88,510.66 L633.90,510.65 L634.91,510.67 L635.93,510.72 L636.95,510.81 L637.98,510.92 L639.01,511.06 L640.04,511.22 L641.07,511.41 L642.10,511.61 L643.13,511.84 L644.17,512.08 L645.21,512.34 L646.24,512.61 L647.28,512.90 L648.32,513.19 L649.36,513.50 L650.39,513.81 L651.43,514.12 L652.47,514.44 L653.50,514.76 L654.54,515.08 L655.57,515.40 L656.60,515.72 L657.63,516.03 L658.65,516.33 L659.68,516.63 L660.70,516.91 L661.72,517.18 L662.73,517.44 L663.75,517.68 L664.75,517.90 L665.76,518.11 L666.76,518.29 L667.75,518.45 L668.75,518.59 L669.73,518.70 L670.71,518.78 L671.69,518.83 L672.66,518.85 L673.63,518.84 L674.58,518.79 L675.54,518.70 L676.48,518.58 L677.42,518.42 L678.36,518.22 L679.28,517.98 L680.20,517.70 L681.11,517.40 L682.02,517.05 L682.92,516.68 L683.81,516.27 L684.69,515.84 L685.57,515.37 L686.44,514.88 L687.31,514.36 L688.17,513.81 L689.02,513.24 L689.86,512.64 L690.69,512.02 L691.52,511.38 L692.34,510.72 L693.16,510.04 L693.97,509.34 L694.77,508.62 L695.56,507.89 L696.34,507.14 L697.12,506.38 L697.89,505.60 L698.65,504.81 L699.41,504.01 L700.16,503.20 L700.90,502.39 L701.63,501.56 L702.36,500.73 L703.07,499.89 L703.78,499.05 L704.48,498.21 L705.18,497.36 L705.87,496.51 L706.55,495.66 L707.22,494.81 L707.88,493.97 L708.53,493.13 L709.18,492.29 L709.82,491.45 L710.45,490.63 L711.08,489.81 L711.69,489.00 L712.30,488.20 L712.90,487.40 L713.50,486.61 L714.09,485.83 L714.68,485.05 L715.26,484.28 L715.84,483.51 L716.42,482.74 L717.00,481.97 L717.58,481.21 L718.16,480.44 L718.74,479.68 L719.33,478.91 L719.92,478.14 L720.51,477.36 L721.11,476.58 L721.71,475.80 L722.32,475.01 L722.94,474.21 L723.57,473.41 L724.21,472.60 L724.85,471.77 L725.51,470.94 L726.18,470.10 L726.87,469.24 L727.56,468.38 L728.27,467.50 L729.00,466.60" fill="none" stroke="#76b041" stroke-width="2.4" stroke-linejoin="round"/>
<path d="M460.90,669.00 L460.98,668.16 L461.04,667.27 L461.08,666.32 L461.10,665.33 L461.12,664.30 L461.14,663.24 L461.16,662.16 L461.18,661.05 L461.22,659.94 L461.27,658.81 L461.34,657.69 L461.44,656.57 L461.56,655.46 L461.72,654.38 L461.92,653.32 L462.17,652.29 L462.46,651.29 L462.80,650.35 L463.20,649.45 L463.66,648.60 L464.17,647.81 L464.73,647.07 L465.35,646.40 L466.01,645.77 L466.72,645.22 L467.47,644.72 L468.27,644.29 L469.10,643.92 L469.98,643.62 L470.90,643.38 L471.84,643.20 L472.81,643.08 L473.79,642.99 L474.79,642.94 L475.79,642.91 L476.79,642.91 L477.80,642.92 L478.79,642.95 L479.79,643.00 L480.79,643.07 L481.79,643.15 L482.78,643.24 L483.77,643.35 L484.77,643.47 L485.76,643.61 L486.75,643.75 L487.74,643.91 L488.73,644.08 L489.72,644.26 L490.71,644.45 L491.70,644.64 L492.69,644.85 L493.68,645.06 L494.67,645.27 L495.66,645.50 L496.64,645.72 L497.63,645.96 L498.62,646.19 L499.61,646.43 L500.60,646.67 L501.59,646.91 L502.58,647.16 L503.57,647.40 L504.56,647.64 L505.56,647.88 L506.55,648.12 L507.54,648.35 L508.54,648.59 L509.54,648.82 L510.53,649.04 L511.53,649.26 L512.53,649.47 L513.53,649.67 L514.53,649.87 L515.54,650.07 L516.54,650.25 L517.55,650.43 L518.55,650.61 L519.56,650.77 L520.56,650.93 L521.57,651.09 L522.58,651.23 L523.59,651.37 L524.60,651.50 L525.60,651.62 L526.61,651.74 L527.62,651.85 L528.63,651.94 L529.64,652.04 L530.65,652.12 L531.66,652.19 L532.67,652.26 L533.68,652.31 L534.69,652.36 L535.70,652.40 L536.70,652.43 L537.71,652.44 L538.72,652.45 L539.72,652.45 L540.73,652.44 L541.73,652.42 L542.74,652.39 L543.74,652.35 L544.75,652.30 L545.75,652.24 L546.75,652.17 L547.75,652.08 L548.74,651.99 L549.74,651.88 L550.74,651.77 L551.73,651.64 L552.72,651.50 L553.72,651.35 L554.70,651.18 L555.69,651.01 L556.68,650.82 L557.66,650.62 L558.65,650.41 L559.63,650.18 L560.61,649.94 L561.58,649.69 L562.56,649.43 L563.53,649.15 L564.50,648.86 L565.47,648.55 L566.44,648.24 L567.40,647.90 L568.35,647.55 L569.30,647.19 L570.24,646.81 L571.16,646.41 L572.08,645.99 L572.98,645.55 L573.87,645.09 L574.74,644.61 L575.60,644.11 L576.44,643.58 L577.25,643.03 L578.05,642.46 L578.82,641.86 L579.57,641.24 L580.29,640.59 L580.98,639.91 L581.65,639.21 L582.28,638.47 L582.88,637.70 L583.45,636.91 L583.99,636.08 L584.50,635.23 L584.97,634.35 L585.43,633.45 L585.85,632.53 L586.26,631.59 L586.64,630.64 L587.01,629.67 L587.36,628.70 L587.70,627.71 L588.03,626.72 L588.35,625.73 L588.66,624.73 L588.96,623.74 L589.26,622.75 L589.55,621.76 L589.84,620.76 L590.12,619.77 L590.40,618.78 L590.67,617.79 L590.94,616.80 L591.20,615.82 L591.45,614.83 L591.71,613.84 L591.96,612.85 L592.20,611.87 L592.44,610.88 L592.68,609.89 L592.91,608.91 L593.14,607.92 L593.37,606.94 L593.59,605.96 L593.81,604.97 L594.03,603.99 L594.24,603.01 L594.46,602.02 L594.67,601.04 L594.88,600.06 L595.08,599.08 L595.29,598.10 L595.49,597.12 L595.69,596.14 L595.89,595.16 L596.09,594.18 L596.29,593.20 L596.48,592.22 L596.68,591.24 L596.87,590.26 L597.07,589.28 L597.26,588.30 L597.46,587.32 L597.65,586.35 L597.85,585.37 L598.05,584.39 L598.24,583.41 L598.44,582.44 L598.64,581.46 L598.84,580.48 L599.04,579.51 L599.24,578.53 L599.44,577.55 L599.65,576.58 L599.85,575.60 L600.06,574.62 L600.27,573.65 L600.49,572.67 L600.70,571.69 L600.92,570.72 L601.15,569.74 L601.37,568.76 L601.60,567.79 L601.83,566.81 L602.07,565.83 L602.30,564.86 L602.55,563.88 L602.79,562.90 L603.04,561.93 L603.30,560.95 L603.56,559.97 L603.82,559.00 L604.09,558.02 L604.37,557.04 L604.64,556.06 L604.93,555.09 L605.22,554.11 L605.52,553.13 L605.82,552.16 L606.13,551.18 L606.44,550.21 L606.77,549.24 L607.10,548.27 L607.44,547.31 L607.79,546.34 L608.14,545.38 L608.51,544.43 L608.88,543.48 L609.27,542.53 L609.66,541.58 L610.06,540.65 L610.48,539.71 L610.91,538.78 L611.34,537.86 L611.79,536.95 L612.25,536.04 L612.72,535.14 L613.21,534.24 L613.71,533.35 L614.22,532.47 L614.75,531.60 L615.28,530.74 L615.84,529.88 L616.40,529.04 L616.99,528.20 L617.59,527.38 L618.20,526.56 L618.83,525.75 L619.47,524.96 L620.13,524.19 L620.81,523.43 L621.50,522.69 L622.20,521.98 L622.93,521.29 L623.66,520.63 L624.41,520.00 L625.18,519.40 L625.96,518.85 L626.75,518.32 L627.56,517.84 L628.38,517.41 L629.22,517.02 L630.07,516.67 L630.94,516.38 L631.82,516.12 L632.71,515.91 L633.61,515.74 L634.52,515.62 L635.45,515.52 L636.38,515.47 L637.33,515.44 L638.28,515.45 L639.25,515.49 L640.22,515.56 L641.20,515.65 L642.19,515.77 L643.19,515.91 L644.19,516.08 L645.20,516.26 L646.21,516.46 L647.23,516.67 L648.25,516.90 L649.28,517.14 L650.31,517.39 L651.35,517.65 L652.38,517.91 L653.42,518.18 L654.47,518.46 L655.51,518.73 L656.55,519.00 L657.59,519.27 L658.64,519.54 L659.68,519.80 L660.72,520.05 L661.76,520.29 L662.79,520.52 L663.83,520.74 L664.86,520.94 L665.88,521.12 L666.91,521.29 L667.92,521.43 L668.94,521.55 L669.94,521.65 L670.94,521.72 L671.94,521.77 L672.92,521.78 L673.90,521.76 L674.87,521.71 L675.83,521.62 L676.79,521.50 L677.73,521.34 L678.66,521.14 L679.59,520.91 L680.50,520.64 L681.41,520.34 L682.31,520.01 L683.19,519.64 L684.07,519.25 L684.95,518.82 L685.81,518.37 L686.66,517.89 L687.51,517.39 L688.35,516.86 L689.18,516.31 L690.00,515.73 L690.82,515.13 L691.62,514.51 L692.42,513.87 L693.22,513.21 L694.00,512.53 L694.78,511.84 L695.55,511.13 L696.31,510.40 L697.07,509.67 L697.82,508.92 L698.56,508.15 L699.29,507.38 L700.02,506.60 L700.75,505.80 L701.46,505.00 L702.17,504.20 L702.88,503.39 L703.58,502.57 L704.27,501.75 L704.95,500.93 L705.63,500.10 L706.31,499.28 L706.98,498.45 L707.64,497.63 L708.30,496.81 L708.96,495.99 L709.61,495.18 L710.25,494.38 L710.89,493.58 L711.52,492.79 L712.15,492.00 L712.78,491.23 L713.40,490.47 L714.01,489.72 L714.63,488.98 L715.23,488.25 L715.84,487.54 L716.44,486.83 L717.04,486.13 L717.63,485.44 L718.23,484.74 L718.82,484.05 L719.41,483.35 L720.00,482.65 L720.59,481.95 L721.18,481.23 L721.77,480.51 L722.36,479.77 L722.95,479.01 L723.54,478.24 L724.14,477.45 L724.73,476.64 L725.33,475.81 L725.93,474.95 L726.54,474.06 L727.15,473.15 L727.76,472.20 L728.38,471.22 L729.00,470.20" fill="none" stroke="#16a8c8" stroke-width="2.4" stroke-linejoin="round"/>
<path d="M460.70,670.30 L460.75,669.44 L460.81,668.52 L460.87,667.55 L460.95,666.53 L461.04,665.49 L461.15,664.41 L461.28,663.31 L461.43,662.20 L461.61,661.07 L461.81,659.95 L462.05,658.84 L462.31,657.74 L462.61,656.65 L462.95,655.60 L463.33,654.58 L463.75,653.60 L464.21,652.67 L464.73,651.80 L465.29,650.99 L465.91,650.24 L466.58,649.58 L467.31,648.99 L468.08,648.48 L468.91,648.03 L469.77,647.65 L470.68,647.34 L471.62,647.07 L472.60,646.87 L473.60,646.71 L474.63,646.60 L475.68,646.52 L476.74,646.49 L477.82,646.48 L478.90,646.51 L480.00,646.56 L481.09,646.62 L482.18,646.71 L483.27,646.80 L484.35,646.91 L485.42,647.02 L486.48,647.15 L487.54,647.28 L488.59,647.42 L489.64,647.57 L490.68,647.72 L491.72,647.88 L492.75,648.05 L493.77,648.23 L494.80,648.41 L495.81,648.59 L496.83,648.78 L497.84,648.98 L498.84,649.18 L499.85,649.38 L500.85,649.59 L501.85,649.80 L502.85,650.01 L503.84,650.23 L504.84,650.44 L505.83,650.66 L506.82,650.88 L507.82,651.10 L508.81,651.32 L509.80,651.54 L510.79,651.76 L511.79,651.97 L512.78,652.19 L513.78,652.41 L514.77,652.62 L515.77,652.83 L516.77,653.04 L517.78,653.24 L518.78,653.44 L519.79,653.64 L520.81,653.83 L521.82,654.02 L522.84,654.20 L523.87,654.38 L524.90,654.55 L525.93,654.71 L526.96,654.87 L528.00,655.03 L529.03,655.17 L530.08,655.31 L531.12,655.45 L532.17,655.58 L533.21,655.70 L534.26,655.81 L535.31,655.92 L536.37,656.01 L537.42,656.10 L538.47,656.19 L539.53,656.26 L540.58,656.33 L541.64,656.38 L542.70,656.43 L543.75,656.47 L544.81,656.50 L545.87,656.52 L546.92,656.53 L547.98,656.53 L549.03,656.52 L550.08,656.51 L551.13,656.48 L552.19,656.44 L553.23,656.39 L554.28,656.32 L555.33,656.25 L556.37,656.17 L557.41,656.07 L558.45,655.96 L559.48,655.85 L560.52,655.71 L561.55,655.57 L562.57,655.41 L563.60,655.25 L564.62,655.06 L565.63,654.87 L566.64,654.66 L567.65,654.44 L568.66,654.21 L569.65,653.96 L570.65,653.69 L571.64,653.42 L572.62,653.13 L573.60,652.82 L574.58,652.50 L575.54,652.16 L576.50,651.81 L577.46,651.44 L578.40,651.05 L579.32,650.64 L580.23,650.20 L581.12,649.74 L581.98,649.25 L582.82,648.74 L583.64,648.19 L584.43,647.61 L585.18,646.99 L585.90,646.34 L586.58,645.66 L587.23,644.93 L587.83,644.16 L588.39,643.35 L588.91,642.49 L589.38,641.59 L589.81,640.65 L590.20,639.67 L590.55,638.67 L590.87,637.63 L591.17,636.57 L591.44,635.50 L591.69,634.41 L591.93,633.30 L592.15,632.19 L592.36,631.08 L592.56,629.97 L592.76,628.86 L592.97,627.76 L593.17,626.68 L593.38,625.60 L593.58,624.53 L593.79,623.48 L594.01,622.43 L594.22,621.39 L594.43,620.36 L594.65,619.34 L594.87,618.32 L595.09,617.31 L595.31,616.31 L595.53,615.31 L595.75,614.32 L595.98,613.33 L596.20,612.34 L596.42,611.36 L596.64,610.38 L596.87,609.40 L597.09,608.42 L597.31,607.44 L597.54,606.47 L597.76,605.49 L597.98,604.51 L598.20,603.53 L598.42,602.55 L598.63,601.57 L598.85,600.58 L599.06,599.59 L599.28,598.60 L599.49,597.60 L599.70,596.60 L599.91,595.59 L600.11,594.59 L600.32,593.58 L600.53,592.56 L600.73,591.55 L600.94,590.53 L601.14,589.51 L601.35,588.49 L601.55,587.46 L601.76,586.43 L601.97,585.41 L602.17,584.38 L602.38,583.35 L602.59,582.32 L602.80,581.28 L603.00,580.25 L603.22,579.22 L603.43,578.19 L603.64,577.15 L603.86,576.12 L604.07,575.09 L604.29,574.05 L604.51,573.02 L604.74,571.99 L604.96,570.96 L605.19,569.93 L605.42,568.90 L605.66,567.88 L605.89,566.85 L606.13,565.83 L606.38,564.81 L606.62,563.79 L606.87,562.77 L607.13,561.76 L607.39,560.75 L607.65,559.74 L607.91,558.74 L608.18,557.74 L608.46,556.74 L608.74,555.74 L609.02,554.75 L609.31,553.76 L609.61,552.78 L609.91,551.80 L610.21,550.82 L610.52,549.85 L610.84,548.88 L611.17,547.91 L611.50,546.94 L611.83,545.97 L612.18,545.01 L612.53,544.05 L612.89,543.09 L613.26,542.13 L613.64,541.18 L614.02,540.22 L614.42,539.27 L614.82,538.32 L615.23,537.37 L615.65,536.42 L616.09,535.47 L616.53,534.52 L616.98,533.57 L617.44,532.62 L617.91,531.67 L618.39,530.72 L618.89,529.77 L619.39,528.82 L619.91,527.87 L620.44,526.92 L620.99,525.97 L621.54,525.04 L622.12,524.12 L622.71,523.22 L623.33,522.35 L623.96,521.51 L624.62,520.71 L625.31,519.96 L626.02,519.25 L626.75,518.59 L627.52,518.00 L628.32,517.47 L629.15,517.01 L630.02,516.63 L630.92,516.33 L631.86,516.10 L632.82,515.94 L633.81,515.86 L634.81,515.83 L635.84,515.87 L636.87,515.96 L637.91,516.10 L638.96,516.29 L640.01,516.53 L641.06,516.80 L642.10,517.10 L643.13,517.44 L644.14,517.80 L645.14,518.19 L646.12,518.59 L647.08,519.00 L648.02,519.42 L648.97,519.84 L649.91,520.26 L650.86,520.67 L651.81,521.05 L652.79,521.42 L653.77,521.77 L654.77,522.09 L655.79,522.39 L656.81,522.67 L657.84,522.93 L658.88,523.17 L659.93,523.38 L660.98,523.56 L662.03,523.73 L663.09,523.87 L664.16,523.98 L665.22,524.07 L666.28,524.14 L667.34,524.18 L668.40,524.19 L669.46,524.18 L670.51,524.15 L671.55,524.09 L672.59,524.00 L673.62,523.88 L674.63,523.74 L675.64,523.57 L676.64,523.37 L677.62,523.15 L678.59,522.90 L679.54,522.62 L680.49,522.32 L681.42,521.99 L682.34,521.64 L683.25,521.26 L684.14,520.86 L685.03,520.43 L685.90,519.99 L686.76,519.52 L687.62,519.03 L688.46,518.51 L689.29,517.98 L690.11,517.43 L690.91,516.85 L691.71,516.26 L692.50,515.65 L693.28,515.02 L694.05,514.37 L694.81,513.71 L695.57,513.03 L696.31,512.33 L697.04,511.62 L697.77,510.89 L698.48,510.15 L699.19,509.40 L699.89,508.63 L700.59,507.85 L701.27,507.05 L701.95,506.24 L702.62,505.43 L703.28,504.60 L703.93,503.76 L704.58,502.91 L705.22,502.05 L705.86,501.18 L706.49,500.30 L707.11,499.42 L707.73,498.53 L708.34,497.63 L708.94,496.73 L709.54,495.82 L710.14,494.90 L710.73,493.98 L711.31,493.05 L711.89,492.13 L712.47,491.19 L713.04,490.26 L713.60,489.32 L714.17,488.38 L714.72,487.44 L715.28,486.50 L715.83,485.56 L716.38,484.62 L716.92,483.68 L717.47,482.75 L718.01,481.81 L718.54,480.88 L719.08,479.95 L719.61,479.02 L720.14,478.10 L720.67,477.18 L721.19,476.26 L721.72,475.35 L722.24,474.45 L722.76,473.56 L723.28,472.67 L723.80,471.79 L724.32,470.91 L724.84,470.05 L725.36,469.19 L725.88,468.35 L726.40,467.51 L726.92,466.69 L727.44,465.87 L727.96,465.07 L728.48,464.28 L729.00,463.50" fill="none" stroke="#e0393c" stroke-width="2.4" stroke-linejoin="round"/>
</svg></body></html>
